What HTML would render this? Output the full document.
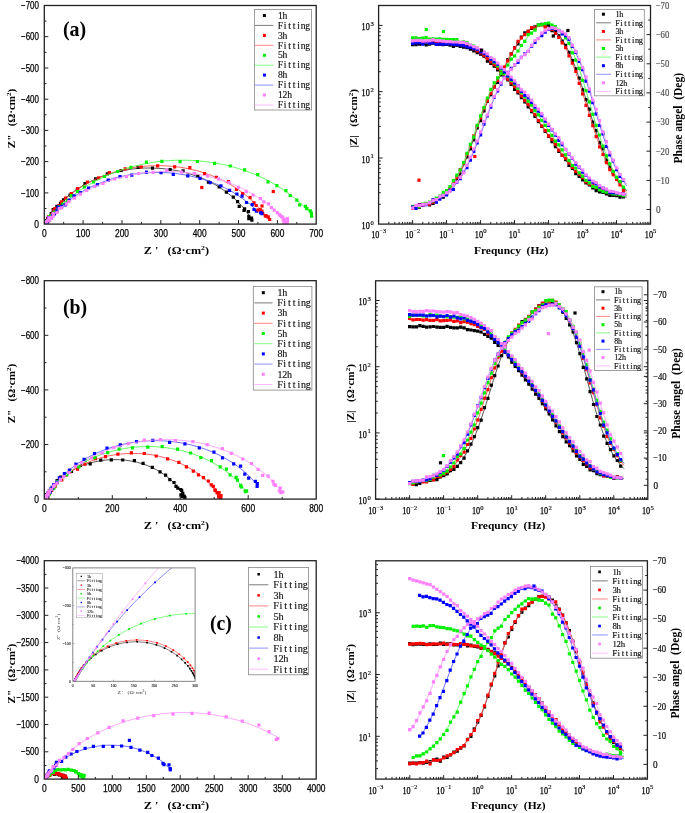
<!DOCTYPE html><html><head><meta charset="utf-8"><style>html,body{margin:0;padding:0;background:#fff;}svg{display:block;will-change:transform}</style></head><body>
<svg width="685" height="813" viewBox="0 0 685 813">
<rect width="685" height="813" fill="#fff"/>
<svg x="0" y="0" width="685" height="813" overflow="hidden"><clipPath id="cna"><rect x="44.3" y="5.5" width="271.9" height="218.6"/></clipPath><clipPath id="cba"><rect x="378.6" y="5.5" width="271.9" height="218.6"/></clipPath></svg>
<g clip-path="url(#cna)">
<path d="M45.2 224.1 L45.2 224.1 L45.3 224.1 L45.3 224.1 L45.3 224.1 L45.3 224 L45.3 224 L45.3 224 L45.3 224 L45.3 224 L45.3 224 L45.3 224 L45.3 224 L45.3 224 L45.3 224 L45.3 223.9 L45.3 223.9 L45.3 223.9 L45.3 223.9 L45.4 223.8 L45.4 223.8 L45.4 223.8 L45.4 223.7 L45.4 223.7 L45.5 223.7 L45.5 223.6 L45.5 223.5 L45.6 223.5 L45.6 223.4 L45.6 223.3 L45.7 223.2 L45.8 223.1 L45.8 223 L45.9 222.8 L46 222.7 L46.1 222.5 L46.2 222.3 L46.3 222.1 L46.4 221.9 L46.6 221.6 L46.7 221.3 L46.9 221 L47.1 220.6 L47.4 220.2 L47.7 219.7 L48 219.2 L48.3 218.6 L48.7 218 L49.2 217.3 L49.7 216.5 L50.3 215.6 L51 214.6 L51.7 213.5 L52.6 212.3 L53.6 211 L54.8 209.5 L56.1 207.9 L57.6 206.2 L59.3 204.3 L61.3 202.2 L63.5 200 L66.1 197.7 L69.1 195.2 L72.4 192.5 L76.2 189.8 L80.5 187 L85.3 184.1 L90.7 181.3 L96.7 178.6 L103.2 176 L110.2 173.7 L117.8 171.7 L125.8 170 L134.1 168.8 L142.7 168.1 L151.4 168 L160.1 168.4 L168.6 169.2 L176.8 170.6 L184.6 172.4 L192 174.6 L198.9 177 L205.2 179.6 L210.9 182.4 L216 185.2 L220.6 188.1 L224.7 190.9 L228.4 193.6 L231.6 196.1 L234.4 198.6 L236.8 200.9 L239 203 L240.8 205 L242.5 206.9 L243.9 208.6 L245.2 210.1 L246.2 211.5 L247.2 212.8 L248 213.9 L248.8 215 L249.4 215.9 L250 216.8 L250.4 217.6 L250.9 218.2 L251.3 218.9 L251.6 219.4" fill="none" stroke="#444444" stroke-width="0.9"/>
<path d="M43.5 222.7h3.2v3.2h-3.2zM43.6 222.2h3.2v3.2h-3.2zM43.2 222.2h3.2v3.2h-3.2zM44.4 222.5h3.2v3.2h-3.2zM44.4 222.4h3.2v3.2h-3.2zM44 222.3h3.2v3.2h-3.2zM42.8 222.6h3.2v3.2h-3.2zM44.2 222.3h3.2v3.2h-3.2zM42.9 220.8h3.2v3.2h-3.2zM43.5 221.5h3.2v3.2h-3.2zM44.3 221.5h3.2v3.2h-3.2zM44.6 220.9h3.2v3.2h-3.2zM44.6 221.3h3.2v3.2h-3.2zM44.2 221.7h3.2v3.2h-3.2zM45.2 221h3.2v3.2h-3.2zM44.7 219.3h3.2v3.2h-3.2zM45.3 219.1h3.2v3.2h-3.2zM46.3 218.5h3.2v3.2h-3.2zM46.2 216.8h3.2v3.2h-3.2zM46.9 216.9h3.2v3.2h-3.2zM47.7 214.9h3.2v3.2h-3.2zM49.6 212.1h3.2v3.2h-3.2zM50.9 211.6h3.2v3.2h-3.2zM51.6 208.1h3.2v3.2h-3.2zM55.3 204.8h3.2v3.2h-3.2zM58.9 201.7h3.2v3.2h-3.2zM61.9 198.2h3.2v3.2h-3.2zM68.5 193.6h3.2v3.2h-3.2zM75.7 188.3h3.2v3.2h-3.2zM83.4 182h3.2v3.2h-3.2zM94 177.2h3.2v3.2h-3.2zM105.7 172.2h3.2v3.2h-3.2zM119.5 168.9h3.2v3.2h-3.2zM136.4 165.7h3.2v3.2h-3.2zM150.9 166.6h3.2v3.2h-3.2zM168.5 168.1h3.2v3.2h-3.2zM181.5 169.2h3.2v3.2h-3.2zM196.2 174.5h3.2v3.2h-3.2zM206.8 180.5h3.2v3.2h-3.2zM217.6 185.2h3.2v3.2h-3.2zM224.8 190.6h3.2v3.2h-3.2zM231.7 195.5h3.2v3.2h-3.2zM236 200.1h3.2v3.2h-3.2zM237.6 204.7h3.2v3.2h-3.2zM243 207.2h3.2v3.2h-3.2zM242.4 208.9h3.2v3.2h-3.2zM246.9 210h3.2v3.2h-3.2zM247.2 214.8h3.2v3.2h-3.2zM247.2 217h3.2v3.2h-3.2zM249.9 216.6h3.2v3.2h-3.2zM250.3 218.5h3.2v3.2h-3.2z" fill="#000000"/>
</g><g clip-path="url(#cba)">
<path d="M626.7 197.1 L624.5 196.9 L622.2 196.7 L620 196.5 L617.7 196.2 L615.5 195.9 L613.2 195.5 L611 195 L608.7 194.5 L606.5 193.9 L604.2 193.2 L601.9 192.5 L599.7 191.6 L597.4 190.5 L595.2 189.4 L592.9 188 L590.7 186.6 L588.4 184.9 L586.2 183.1 L583.9 181.2 L581.7 179.1 L579.4 176.8 L577.1 174.4 L574.9 171.8 L572.6 169.2 L570.4 166.4 L568.1 163.5 L565.9 160.6 L563.6 157.6 L561.4 154.5 L559.1 151.3 L556.9 148.2 L554.6 144.9 L552.4 141.7 L550.1 138.4 L547.8 135.1 L545.6 131.8 L543.3 128.5 L541.1 125.2 L538.8 121.9 L536.6 118.6 L534.3 115.4 L532.1 112.1 L529.8 108.9 L527.6 105.7 L525.3 102.5 L523 99.4 L520.8 96.4 L518.5 93.4 L516.3 90.5 L514 87.6 L511.8 84.9 L509.5 82.2 L507.3 79.6 L505 77.1 L502.8 74.7 L500.5 72.4 L498.3 70.1 L496 67.9 L493.7 65.8 L491.5 63.7 L489.2 61.7 L487 59.8 L484.7 57.9 L482.5 56.2 L480.2 54.5 L478 53 L475.7 51.6 L473.5 50.4 L471.2 49.3 L468.9 48.4 L466.7 47.7 L464.4 47.1 L462.2 46.5 L459.9 46.1 L457.7 45.8 L455.4 45.5 L453.2 45.2 L450.9 45 L448.7 44.9 L446.4 44.8 L444.1 44.7 L441.9 44.6 L439.6 44.5 L437.4 44.5 L435.1 44.4 L432.9 44.4 L430.6 44.3 L428.4 44.3 L426.1 44.3 L423.9 44.3 L421.6 44.2 L419.4 44.2 L417.1 44.2 L414.8 44.2 L412.6 44.2" fill="none" stroke="#444444" stroke-width="0.9"/>
<path d="M626.7 191 L624.5 188.7 L622.2 186.2 L620 183.3 L617.7 180.2 L615.5 176.8 L613.2 173 L611 168.8 L608.7 164.2 L606.5 159.2 L604.2 153.9 L601.9 148.1 L599.7 142 L597.4 135.5 L595.2 128.7 L592.9 121.7 L590.7 114.5 L588.4 107.2 L586.2 100 L583.9 92.7 L581.7 85.7 L579.4 78.9 L577.1 72.3 L574.9 66.2 L572.6 60.4 L570.4 55.1 L568.1 50.2 L565.9 45.8 L563.6 41.8 L561.4 38.3 L559.1 35.2 L556.9 32.6 L554.6 30.3 L552.4 28.4 L550.1 27 L547.8 25.9 L545.6 25.1 L543.3 24.7 L541.1 24.7 L538.8 24.9 L536.6 25.6 L534.3 26.5 L532.1 27.8 L529.8 29.4 L527.6 31.4 L525.3 33.7 L523 36.3 L520.8 39.2 L518.5 42.4 L516.3 46 L514 49.7 L511.8 53.7 L509.5 57.8 L507.3 62.1 L505 66.5 L502.8 70.9 L500.5 75.3 L498.3 79.7 L496 84.2 L493.7 88.7 L491.5 93.3 L489.2 98.1 L487 103.2 L484.7 108.5 L482.5 114.2 L480.2 120.2 L478 126.5 L475.7 133 L473.5 139.5 L471.2 145.9 L468.9 152.1 L466.7 158 L464.4 163.6 L462.2 168.7 L459.9 173.4 L457.7 177.6 L455.4 181.5 L453.2 184.9 L450.9 187.9 L448.7 190.6 L446.4 192.9 L444.1 195 L441.9 196.8 L439.6 198.4 L437.4 199.8 L435.1 201.1 L432.9 202.1 L430.6 203.1 L428.4 203.9 L426.1 204.6 L423.9 205.2 L421.6 205.8 L419.4 206.2 L417.1 206.7 L414.8 207 L412.6 207.3" fill="none" stroke="#444444" stroke-width="0.9"/>
<path d="M621.9 195.3h3.2v3.2h-3.2zM618.4 195.5h3.2v3.2h-3.2zM615 194.1h3.2v3.2h-3.2zM611.6 193.7h3.2v3.2h-3.2zM608.2 193.7h3.2v3.2h-3.2zM604.8 192.3h3.2v3.2h-3.2zM601.4 190.8h3.2v3.2h-3.2zM598 190.4h3.2v3.2h-3.2zM594.6 189.1h3.2v3.2h-3.2zM591.2 186.2h3.2v3.2h-3.2zM587.8 183.4h3.2v3.2h-3.2zM584.4 181.4h3.2v3.2h-3.2zM581 178.3h3.2v3.2h-3.2zM577.6 174.9h3.2v3.2h-3.2zM574.2 172h3.2v3.2h-3.2zM570.8 166.8h3.2v3.2h-3.2zM567.4 163.7h3.2v3.2h-3.2zM564 158h3.2v3.2h-3.2zM560.6 153.7h3.2v3.2h-3.2zM557.2 149.7h3.2v3.2h-3.2zM553.8 145.1h3.2v3.2h-3.2zM550.4 140h3.2v3.2h-3.2zM547 134.8h3.2v3.2h-3.2zM543.6 129.8h3.2v3.2h-3.2zM540.2 124.8h3.2v3.2h-3.2zM536.8 120h3.2v3.2h-3.2zM533.4 114.7h3.2v3.2h-3.2zM530 110h3.2v3.2h-3.2zM526.6 105.3h3.2v3.2h-3.2zM523.2 100.3h3.2v3.2h-3.2zM519.8 96h3.2v3.2h-3.2zM516.4 91.4h3.2v3.2h-3.2zM513 87.8h3.2v3.2h-3.2zM509.6 82.8h3.2v3.2h-3.2zM506.2 78.4h3.2v3.2h-3.2zM502.8 74.7h3.2v3.2h-3.2zM499.4 71.3h3.2v3.2h-3.2zM496 68.4h3.2v3.2h-3.2zM492.6 64.5h3.2v3.2h-3.2zM489.2 61.7h3.2v3.2h-3.2zM485.8 59.5h3.2v3.2h-3.2zM482.4 54.5h3.2v3.2h-3.2zM479 52.6h3.2v3.2h-3.2zM475.6 51h3.2v3.2h-3.2zM472.2 49.2h3.2v3.2h-3.2zM468.8 47.5h3.2v3.2h-3.2zM465.4 46h3.2v3.2h-3.2zM462 45.6h3.2v3.2h-3.2zM458.6 44.7h3.2v3.2h-3.2zM455.2 43.8h3.2v3.2h-3.2zM451.8 44.9h3.2v3.2h-3.2zM448.4 43.6h3.2v3.2h-3.2zM445 42.9h3.2v3.2h-3.2zM441.6 43h3.2v3.2h-3.2zM438.2 42.8h3.2v3.2h-3.2zM434.8 42.8h3.2v3.2h-3.2zM431.4 41.4h3.2v3.2h-3.2zM428 42.5h3.2v3.2h-3.2zM424.6 43.2h3.2v3.2h-3.2zM421.2 42.1h3.2v3.2h-3.2zM417.8 42.6h3.2v3.2h-3.2zM414.4 43.1h3.2v3.2h-3.2zM411 43h3.2v3.2h-3.2z" fill="#000000"/>
<path d="M621.9 187.3h3.2v3.2h-3.2zM618.4 180.3h3.2v3.2h-3.2zM615 176.7h3.2v3.2h-3.2zM611.6 171.1h3.2v3.2h-3.2zM608.2 165.5h3.2v3.2h-3.2zM604.8 158.6h3.2v3.2h-3.2zM601.4 147h3.2v3.2h-3.2zM598 141.2h3.2v3.2h-3.2zM594.6 129h3.2v3.2h-3.2zM591.2 120.5h3.2v3.2h-3.2zM587.8 107.6h3.2v3.2h-3.2zM584.4 98.1h3.2v3.2h-3.2zM581 88.2h3.2v3.2h-3.2zM577.6 76.6h3.2v3.2h-3.2zM574.2 67.3h3.2v3.2h-3.2zM570.8 59h3.2v3.2h-3.2zM567.4 50.7h3.2v3.2h-3.2zM564 43.7h3.2v3.2h-3.2zM560.6 39.4h3.2v3.2h-3.2zM557.2 34.2h3.2v3.2h-3.2zM553.8 29.2h3.2v3.2h-3.2zM550.4 29.1h3.2v3.2h-3.2zM547 23.6h3.2v3.2h-3.2zM543.6 24.2h3.2v3.2h-3.2zM540.2 22.8h3.2v3.2h-3.2zM536.8 23.5h3.2v3.2h-3.2zM533.4 25.2h3.2v3.2h-3.2zM530 26.7h3.2v3.2h-3.2zM526.6 29.8h3.2v3.2h-3.2zM523.2 31.2h3.2v3.2h-3.2zM519.8 35.4h3.2v3.2h-3.2zM516.4 42.2h3.2v3.2h-3.2zM513 46.2h3.2v3.2h-3.2zM509.6 52.2h3.2v3.2h-3.2zM506.2 58.1h3.2v3.2h-3.2zM502.8 67.2h3.2v3.2h-3.2zM499.4 73.4h3.2v3.2h-3.2zM496 80.7h3.2v3.2h-3.2zM492.6 85.3h3.2v3.2h-3.2zM489.2 93.1h3.2v3.2h-3.2zM485.8 99.6h3.2v3.2h-3.2zM482.4 109.4h3.2v3.2h-3.2zM479 119h3.2v3.2h-3.2zM475.6 126.3h3.2v3.2h-3.2zM472.2 138.2h3.2v3.2h-3.2zM468.8 147.4h3.2v3.2h-3.2zM465.4 155.4h3.2v3.2h-3.2zM462 162.1h3.2v3.2h-3.2zM458.6 172.5h3.2v3.2h-3.2zM455.2 177.5h3.2v3.2h-3.2zM451.8 182.4h3.2v3.2h-3.2zM448.4 187.8h3.2v3.2h-3.2zM445 191.5h3.2v3.2h-3.2zM441.6 195.6h3.2v3.2h-3.2zM438.2 195.8h3.2v3.2h-3.2zM434.8 199.8h3.2v3.2h-3.2zM431.4 201.8h3.2v3.2h-3.2zM428 203.2h3.2v3.2h-3.2zM424.6 202.8h3.2v3.2h-3.2zM421.2 203.2h3.2v3.2h-3.2zM417.8 205.6h3.2v3.2h-3.2zM414.4 205.3h3.2v3.2h-3.2zM411 205.8h3.2v3.2h-3.2z" fill="#000000"/>
</g>
<g clip-path="url(#cna)">
<path d="M45.3 224.1 L45.3 224.1 L45.3 224 L45.3 224 L45.3 224 L45.3 224 L45.3 224 L45.3 224 L45.3 224 L45.3 224 L45.3 224 L45.3 223.9 L45.3 223.9 L45.3 223.9 L45.4 223.9 L45.4 223.9 L45.4 223.8 L45.4 223.8 L45.4 223.8 L45.4 223.7 L45.5 223.7 L45.5 223.6 L45.5 223.6 L45.6 223.5 L45.6 223.5 L45.6 223.4 L45.7 223.3 L45.7 223.2 L45.8 223.1 L45.9 223 L46 222.8 L46 222.7 L46.1 222.5 L46.2 222.3 L46.4 222.1 L46.5 221.9 L46.7 221.6 L46.8 221.4 L47 221 L47.3 220.7 L47.5 220.3 L47.8 219.8 L48.1 219.3 L48.5 218.8 L48.9 218.2 L49.3 217.5 L49.8 216.8 L50.4 215.9 L51.1 215 L51.8 214 L52.6 212.9 L53.6 211.6 L54.7 210.3 L55.9 208.8 L57.3 207.2 L59 205.4 L60.8 203.5 L62.9 201.4 L65.2 199.2 L67.9 196.9 L71 194.4 L74.4 191.7 L78.3 189 L82.6 186.2 L87.5 183.3 L92.9 180.5 L98.8 177.7 L105.4 175 L112.4 172.6 L120 170.4 L128 168.6 L136.4 167.1 L145.2 166.2 L154 165.7 L163 165.7 L171.8 166.3 L180.5 167.3 L188.9 168.8 L196.9 170.7 L204.4 172.9 L211.3 175.4 L217.8 178.1 L223.7 180.9 L229 183.7 L233.8 186.6 L238.1 189.4 L241.9 192.1 L245.2 194.7 L248.2 197.2 L250.9 199.5 L253.2 201.7 L255.2 203.8 L257 205.7 L258.6 207.4 L260 209 L261.2 210.5 L262.3 211.8 L263.2 213 L264.1 214.1 L264.8 215.1 L265.4 216.1 L266 216.9 L266.5 217.6 L267 218.3 L267.4 218.9 L267.7 219.4" fill="none" stroke="#ff5050" stroke-width="0.9"/>
<path d="M44.6 222.2h3.2v3.2h-3.2zM42.4 222.1h3.2v3.2h-3.2zM42.7 222.7h3.2v3.2h-3.2zM44 221.8h3.2v3.2h-3.2zM43.8 222.6h3.2v3.2h-3.2zM43.9 222.8h3.2v3.2h-3.2zM43.9 222.5h3.2v3.2h-3.2zM44.9 222.7h3.2v3.2h-3.2zM43.7 222.1h3.2v3.2h-3.2zM43.1 220.8h3.2v3.2h-3.2zM43.2 221.8h3.2v3.2h-3.2zM43.8 220.8h3.2v3.2h-3.2zM44.7 220.5h3.2v3.2h-3.2zM44.7 220.1h3.2v3.2h-3.2zM46.5 219.5h3.2v3.2h-3.2zM46.2 219.3h3.2v3.2h-3.2zM46.3 217.1h3.2v3.2h-3.2zM46.7 217.5h3.2v3.2h-3.2zM46.9 215.2h3.2v3.2h-3.2zM49.6 214.5h3.2v3.2h-3.2zM50.3 212.7h3.2v3.2h-3.2zM52.1 209.3h3.2v3.2h-3.2zM53.2 207h3.2v3.2h-3.2zM57.5 203.9h3.2v3.2h-3.2zM59.9 200.2h3.2v3.2h-3.2zM63.9 196.5h3.2v3.2h-3.2zM69.7 192.1h3.2v3.2h-3.2zM76.1 187h3.2v3.2h-3.2zM85.8 180.4h3.2v3.2h-3.2zM97.1 176.2h3.2v3.2h-3.2zM107.8 171h3.2v3.2h-3.2zM123.6 167.3h3.2v3.2h-3.2zM139.6 165.4h3.2v3.2h-3.2zM156 164.2h3.2v3.2h-3.2zM173 165.2h3.2v3.2h-3.2zM188.2 166.1h3.2v3.2h-3.2zM202.9 172h3.2v3.2h-3.2zM214.8 175.7h3.2v3.2h-3.2zM226.8 180.1h3.2v3.2h-3.2zM234.8 187.9h3.2v3.2h-3.2zM241.1 191.9h3.2v3.2h-3.2zM248.5 196.1h3.2v3.2h-3.2zM252.4 201.3h3.2v3.2h-3.2zM254.5 203.9h3.2v3.2h-3.2zM258.5 208h3.2v3.2h-3.2zM260.3 209.6h3.2v3.2h-3.2zM261.1 211.7h3.2v3.2h-3.2zM264.4 214h3.2v3.2h-3.2zM263.7 214.6h3.2v3.2h-3.2zM268.1 217.9h3.2v3.2h-3.2zM266.7 215.2h3.2v3.2h-3.2z" fill="#ff0000"/>
</g><g clip-path="url(#cba)">
<path d="M626.7 194 L624.5 193.8 L622.2 193.6 L620 193.4 L617.7 193.2 L615.5 192.9 L613.2 192.5 L611 192.1 L608.7 191.6 L606.5 191.1 L604.2 190.5 L601.9 189.7 L599.7 188.9 L597.4 188 L595.2 186.9 L592.9 185.6 L590.7 184.3 L588.4 182.7 L586.2 181 L583.9 179.2 L581.7 177.2 L579.4 175 L577.1 172.6 L574.9 170.2 L572.6 167.6 L570.4 164.9 L568.1 162.1 L565.9 159.2 L563.6 156.2 L561.4 153.1 L559.1 150 L556.9 146.9 L554.6 143.7 L552.4 140.4 L550.1 137.2 L547.8 133.9 L545.6 130.6 L543.3 127.3 L541.1 124 L538.8 120.7 L536.6 117.4 L534.3 114.2 L532.1 110.9 L529.8 107.7 L527.6 104.5 L525.3 101.3 L523 98.2 L520.8 95.1 L518.5 92.1 L516.3 89.2 L514 86.4 L511.8 83.6 L509.5 80.9 L507.3 78.3 L505 75.8 L502.8 73.3 L500.5 71 L498.3 68.7 L496 66.5 L493.7 64.3 L491.5 62.2 L489.2 60.2 L487 58.2 L484.7 56.3 L482.5 54.5 L480.2 52.8 L478 51.3 L475.7 49.8 L473.5 48.6 L471.2 47.5 L468.9 46.5 L466.7 45.7 L464.4 45.1 L462.2 44.5 L459.9 44.1 L457.7 43.7 L455.4 43.4 L453.2 43.1 L450.9 42.9 L448.7 42.8 L446.4 42.6 L444.1 42.5 L441.9 42.4 L439.6 42.4 L437.4 42.3 L435.1 42.3 L432.9 42.2 L430.6 42.2 L428.4 42.1 L426.1 42.1 L423.9 42.1 L421.6 42.1 L419.4 42.1 L417.1 42 L414.8 42 L412.6 42" fill="none" stroke="#ff5050" stroke-width="0.9"/>
<path d="M626.7 192.2 L624.5 190.1 L622.2 187.7 L620 185.1 L617.7 182.1 L615.5 178.9 L613.2 175.3 L611 171.3 L608.7 167 L606.5 162.3 L604.2 157.1 L601.9 151.6 L599.7 145.7 L597.4 139.4 L595.2 132.8 L592.9 126 L590.7 118.9 L588.4 111.6 L586.2 104.3 L583.9 97.1 L581.7 89.9 L579.4 82.9 L577.1 76.2 L574.9 69.9 L572.6 63.9 L570.4 58.3 L568.1 53.2 L565.9 48.5 L563.6 44.3 L561.4 40.5 L559.1 37.2 L556.9 34.3 L554.6 31.8 L552.4 29.8 L550.1 28.1 L547.8 26.8 L545.6 25.9 L543.3 25.4 L541.1 25.2 L538.8 25.3 L536.6 25.8 L534.3 26.6 L532.1 27.8 L529.8 29.3 L527.6 31.1 L525.3 33.3 L523 35.8 L520.8 38.6 L518.5 41.7 L516.3 45.1 L514 48.8 L511.8 52.7 L509.5 56.7 L507.3 60.9 L505 65.2 L502.8 69.6 L500.5 74 L498.3 78.4 L496 82.8 L493.7 87.2 L491.5 91.8 L489.2 96.5 L487 101.5 L484.7 106.8 L482.5 112.4 L480.2 118.3 L478 124.5 L475.7 131 L473.5 137.5 L471.2 143.9 L468.9 150.2 L466.7 156.3 L464.4 161.9 L462.2 167.2 L459.9 172 L457.7 176.4 L455.4 180.3 L453.2 183.9 L450.9 187 L448.7 189.8 L446.4 192.2 L444.1 194.4 L441.9 196.3 L439.6 198 L437.4 199.4 L435.1 200.7 L432.9 201.8 L430.6 202.8 L428.4 203.6 L426.1 204.4 L423.9 205 L421.6 205.6 L419.4 206.1 L417.1 206.5 L414.8 206.9 L412.6 207.2" fill="none" stroke="#ff5050" stroke-width="0.9"/>
<path d="M621.9 192.5h3.2v3.2h-3.2zM618.4 192.1h3.2v3.2h-3.2zM615 192.3h3.2v3.2h-3.2zM611.6 191.1h3.2v3.2h-3.2zM608.2 190.2h3.2v3.2h-3.2zM604.8 189.7h3.2v3.2h-3.2zM601.4 187.5h3.2v3.2h-3.2zM598 187.8h3.2v3.2h-3.2zM594.6 186h3.2v3.2h-3.2zM591.2 183.6h3.2v3.2h-3.2zM587.8 182.5h3.2v3.2h-3.2zM584.4 180.2h3.2v3.2h-3.2zM581 175.7h3.2v3.2h-3.2zM577.6 172.9h3.2v3.2h-3.2zM574.2 169.8h3.2v3.2h-3.2zM570.8 165.8h3.2v3.2h-3.2zM567.4 161.4h3.2v3.2h-3.2zM564 156.7h3.2v3.2h-3.2zM560.6 153.8h3.2v3.2h-3.2zM557.2 148.5h3.2v3.2h-3.2zM553.8 142.6h3.2v3.2h-3.2zM550.4 137.7h3.2v3.2h-3.2zM547 134.3h3.2v3.2h-3.2zM543.6 129h3.2v3.2h-3.2zM540.2 124.4h3.2v3.2h-3.2zM536.8 118.9h3.2v3.2h-3.2zM533.4 113.1h3.2v3.2h-3.2zM530 108.8h3.2v3.2h-3.2zM526.6 102.7h3.2v3.2h-3.2zM523.2 98.7h3.2v3.2h-3.2zM519.8 94.4h3.2v3.2h-3.2zM516.4 90.1h3.2v3.2h-3.2zM513 85.1h3.2v3.2h-3.2zM509.6 81.2h3.2v3.2h-3.2zM506.2 77.5h3.2v3.2h-3.2zM502.8 73.7h3.2v3.2h-3.2zM499.4 70.2h3.2v3.2h-3.2zM496 66.6h3.2v3.2h-3.2zM492.6 63h3.2v3.2h-3.2zM489.2 60.4h3.2v3.2h-3.2zM485.8 57h3.2v3.2h-3.2zM482.4 53.7h3.2v3.2h-3.2zM479 51.2h3.2v3.2h-3.2zM475.6 49.2h3.2v3.2h-3.2zM472.2 47.1h3.2v3.2h-3.2zM468.8 45.6h3.2v3.2h-3.2zM465.4 44.2h3.2v3.2h-3.2zM462 43.3h3.2v3.2h-3.2zM458.6 42.4h3.2v3.2h-3.2zM455.2 41.3h3.2v3.2h-3.2zM451.8 41.8h3.2v3.2h-3.2zM448.4 41.8h3.2v3.2h-3.2zM445 41.3h3.2v3.2h-3.2zM441.6 40.8h3.2v3.2h-3.2zM438.2 41h3.2v3.2h-3.2zM434.8 40.2h3.2v3.2h-3.2zM431.4 39.7h3.2v3.2h-3.2zM428 40.6h3.2v3.2h-3.2zM424.6 40.1h3.2v3.2h-3.2zM421.2 40.9h3.2v3.2h-3.2zM417.8 39.9h3.2v3.2h-3.2zM414.4 39.1h3.2v3.2h-3.2zM411 39.9h3.2v3.2h-3.2z" fill="#ff0000"/>
<path d="M621.9 188.8h3.2v3.2h-3.2zM618.4 183.2h3.2v3.2h-3.2zM615 177.8h3.2v3.2h-3.2zM611.6 173h3.2v3.2h-3.2zM608.2 168.1h3.2v3.2h-3.2zM604.8 161.1h3.2v3.2h-3.2zM601.4 152.9h3.2v3.2h-3.2zM598 145.3h3.2v3.2h-3.2zM594.6 135h3.2v3.2h-3.2zM591.2 124.1h3.2v3.2h-3.2zM587.8 113.8h3.2v3.2h-3.2zM584.4 103.8h3.2v3.2h-3.2zM581 92.3h3.2v3.2h-3.2zM577.6 81.8h3.2v3.2h-3.2zM574.2 69.9h3.2v3.2h-3.2zM570.8 61.6h3.2v3.2h-3.2zM567.4 54.2h3.2v3.2h-3.2zM564 46.1h3.2v3.2h-3.2zM560.6 41.3h3.2v3.2h-3.2zM557.2 35.7h3.2v3.2h-3.2zM553.8 31.9h3.2v3.2h-3.2zM550.4 27.7h3.2v3.2h-3.2zM547 27.9h3.2v3.2h-3.2zM543.6 25.3h3.2v3.2h-3.2zM540.2 23.4h3.2v3.2h-3.2zM536.8 23.8h3.2v3.2h-3.2zM533.4 27.1h3.2v3.2h-3.2zM530 26.1h3.2v3.2h-3.2zM526.6 29.7h3.2v3.2h-3.2zM523.2 33.1h3.2v3.2h-3.2zM519.8 36.2h3.2v3.2h-3.2zM516.4 39.8h3.2v3.2h-3.2zM513 46.4h3.2v3.2h-3.2zM509.6 52.4h3.2v3.2h-3.2zM506.2 59.3h3.2v3.2h-3.2zM502.8 65.5h3.2v3.2h-3.2zM499.4 71.4h3.2v3.2h-3.2zM496 78.8h3.2v3.2h-3.2zM492.6 85.2h3.2v3.2h-3.2zM489.2 91.8h3.2v3.2h-3.2zM485.8 99h3.2v3.2h-3.2zM482.4 106.7h3.2v3.2h-3.2zM479 116.3h3.2v3.2h-3.2zM475.6 124.1h3.2v3.2h-3.2zM472.2 134.3h3.2v3.2h-3.2zM468.8 144.6h3.2v3.2h-3.2zM465.4 152.5h3.2v3.2h-3.2zM462 161.9h3.2v3.2h-3.2zM458.6 168h3.2v3.2h-3.2zM455.2 175.8h3.2v3.2h-3.2zM451.8 182.4h3.2v3.2h-3.2zM448.4 187.1h3.2v3.2h-3.2zM445 190.4h3.2v3.2h-3.2zM441.6 193.4h3.2v3.2h-3.2zM438.2 195h3.2v3.2h-3.2zM434.8 200.1h3.2v3.2h-3.2zM431.4 200.6h3.2v3.2h-3.2zM428 202.6h3.2v3.2h-3.2zM424.6 202h3.2v3.2h-3.2zM421.2 203.6h3.2v3.2h-3.2zM417.8 202.9h3.2v3.2h-3.2zM414.4 205.8h3.2v3.2h-3.2zM411 206.5h3.2v3.2h-3.2z" fill="#ff0000"/>
</g>
<g clip-path="url(#cna)">
<path d="M45.3 224 L45.3 224 L45.3 224 L45.3 224 L45.3 224 L45.3 224 L45.3 223.9 L45.4 223.9 L45.4 223.9 L45.4 223.9 L45.4 223.9 L45.4 223.8 L45.4 223.8 L45.5 223.8 L45.5 223.8 L45.5 223.7 L45.5 223.7 L45.6 223.6 L45.6 223.6 L45.6 223.5 L45.7 223.5 L45.7 223.4 L45.8 223.3 L45.8 223.2 L45.9 223.1 L46 223 L46.1 222.9 L46.2 222.8 L46.3 222.7 L46.4 222.5 L46.5 222.3 L46.6 222.1 L46.8 221.9 L47 221.7 L47.2 221.5 L47.4 221.2 L47.6 220.9 L47.9 220.5 L48.2 220.1 L48.5 219.7 L48.9 219.3 L49.3 218.7 L49.7 218.2 L50.2 217.6 L50.8 216.9 L51.4 216.1 L52.1 215.3 L52.8 214.4 L53.7 213.4 L54.7 212.4 L55.7 211.2 L56.9 209.9 L58.3 208.5 L59.8 207 L61.5 205.4 L63.4 203.6 L65.5 201.7 L67.8 199.7 L70.4 197.5 L73.3 195.2 L76.6 192.8 L80.2 190.2 L84.2 187.6 L88.6 184.9 L93.5 182.1 L98.9 179.3 L104.7 176.5 L111.1 173.8 L117.9 171.2 L125.3 168.7 L133.2 166.4 L141.4 164.5 L150.1 162.8 L159.1 161.5 L168.3 160.6 L177.7 160.2 L187.1 160.2 L196.4 160.7 L205.7 161.6 L214.6 162.9 L223.3 164.5 L231.5 166.5 L239.4 168.8 L246.7 171.3 L253.6 173.9 L259.9 176.6 L265.7 179.4 L271 182.2 L275.9 185 L280.3 187.7 L284.3 190.4 L287.9 192.9 L291.1 195.3 L294 197.6 L296.6 199.8 L299 201.8 L301 203.7 L302.9 205.4 L304.6 207.1 L306.1 208.6 L307.4 210 L308.6 211.2 L309.7 212.4 L310.6 213.5 L311.5 214.5 L312.3 215.4" fill="none" stroke="#50ff50" stroke-width="0.9"/>
<path d="M42.7 222.2h3.2v3.2h-3.2zM44.2 221.1h3.2v3.2h-3.2zM42.8 221.5h3.2v3.2h-3.2zM43.6 221.2h3.2v3.2h-3.2zM44.1 222.1h3.2v3.2h-3.2zM44.5 222.2h3.2v3.2h-3.2zM45.2 222.3h3.2v3.2h-3.2zM43.6 221.1h3.2v3.2h-3.2zM43.9 220.6h3.2v3.2h-3.2zM44.7 221h3.2v3.2h-3.2zM45.3 219.7h3.2v3.2h-3.2zM44.5 220.2h3.2v3.2h-3.2zM45.5 219.6h3.2v3.2h-3.2zM46 218.8h3.2v3.2h-3.2zM47 218.7h3.2v3.2h-3.2zM47.1 217.3h3.2v3.2h-3.2zM47.9 215.1h3.2v3.2h-3.2zM48.3 215.6h3.2v3.2h-3.2zM49.2 214.3h3.2v3.2h-3.2zM51.6 211.7h3.2v3.2h-3.2zM53.1 210.4h3.2v3.2h-3.2zM55.7 208.6h3.2v3.2h-3.2zM58 205.1h3.2v3.2h-3.2zM61.2 202.4h3.2v3.2h-3.2zM65.7 199.1h3.2v3.2h-3.2zM69.7 194h3.2v3.2h-3.2zM75.9 189.9h3.2v3.2h-3.2zM82.7 185.4h3.2v3.2h-3.2zM91.9 180.4h3.2v3.2h-3.2zM102.9 174.9h3.2v3.2h-3.2zM116.1 169.9h3.2v3.2h-3.2zM129.3 165.7h3.2v3.2h-3.2zM144.8 160.6h3.2v3.2h-3.2zM160.3 159.7h3.2v3.2h-3.2zM178.5 160h3.2v3.2h-3.2zM195.8 159.9h3.2v3.2h-3.2zM213 161.8h3.2v3.2h-3.2zM228.7 164.4h3.2v3.2h-3.2zM243 168.2h3.2v3.2h-3.2zM256.1 173.1h3.2v3.2h-3.2zM266.4 180.2h3.2v3.2h-3.2zM275.3 184.1h3.2v3.2h-3.2zM284.3 189.1h3.2v3.2h-3.2zM288.6 193.9h3.2v3.2h-3.2zM295.2 198.5h3.2v3.2h-3.2zM298.1 203.3h3.2v3.2h-3.2zM303.9 204.8h3.2v3.2h-3.2zM305.3 207.1h3.2v3.2h-3.2zM308.7 209.3h3.2v3.2h-3.2zM309.8 211.5h3.2v3.2h-3.2zM310 214.5h3.2v3.2h-3.2z" fill="#00ee00"/>
</g><g clip-path="url(#cba)">
<path d="M626.7 195.2 L624.5 195 L622.2 194.8 L620 194.6 L617.7 194.3 L615.5 193.9 L613.2 193.5 L611 193.1 L608.7 192.5 L606.5 191.9 L604.2 191.2 L601.9 190.3 L599.7 189.3 L597.4 188.2 L595.2 186.9 L592.9 185.4 L590.7 183.8 L588.4 182 L586.2 180 L583.9 177.9 L581.7 175.5 L579.4 173.1 L577.1 170.4 L574.9 167.7 L572.6 164.8 L570.4 161.9 L568.1 158.8 L565.9 155.7 L563.6 152.5 L561.4 149.3 L559.1 146 L556.9 142.7 L554.6 139.4 L552.4 136.1 L550.1 132.7 L547.8 129.4 L545.6 126 L543.3 122.7 L541.1 119.4 L538.8 116.1 L536.6 112.8 L534.3 109.6 L532.1 106.4 L529.8 103.3 L527.6 100.3 L525.3 97.3 L523 94.4 L520.8 91.6 L518.5 88.8 L516.3 86.2 L514 83.6 L511.8 81.1 L509.5 78.6 L507.3 76.1 L505 73.7 L502.8 71.4 L500.5 69 L498.3 66.7 L496 64.3 L493.7 62 L491.5 59.8 L489.2 57.6 L487 55.5 L484.7 53.5 L482.5 51.6 L480.2 49.9 L478 48.3 L475.7 46.9 L473.5 45.7 L471.2 44.6 L468.9 43.6 L466.7 42.8 L464.4 42.1 L462.2 41.5 L459.9 41 L457.7 40.6 L455.4 40.2 L453.2 39.9 L450.9 39.7 L448.7 39.5 L446.4 39.3 L444.1 39.2 L441.9 39 L439.6 38.9 L437.4 38.9 L435.1 38.8 L432.9 38.7 L430.6 38.7 L428.4 38.6 L426.1 38.6 L423.9 38.5 L421.6 38.5 L419.4 38.5 L417.1 38.5 L414.8 38.5 L412.6 38.4" fill="none" stroke="#50ff50" stroke-width="0.9"/>
<path d="M626.7 190.2 L624.5 187.8 L622.2 185 L620 182 L617.7 178.5 L615.5 174.8 L613.2 170.6 L611 166 L608.7 160.9 L606.5 155.4 L604.2 149.5 L601.9 143.2 L599.7 136.4 L597.4 129.3 L595.2 121.9 L592.9 114.3 L590.7 106.6 L588.4 98.9 L586.2 91.2 L583.9 83.7 L581.7 76.5 L579.4 69.6 L577.1 63.1 L574.9 57.1 L572.6 51.6 L570.4 46.6 L568.1 42.1 L565.9 38.2 L563.6 34.7 L561.4 31.7 L559.1 29.3 L556.9 27.2 L554.6 25.7 L552.4 24.5 L550.1 23.8 L547.8 23.5 L545.6 23.6 L543.3 24.1 L541.1 24.9 L538.8 26.1 L536.6 27.7 L534.3 29.6 L532.1 31.8 L529.8 34.3 L527.6 37.1 L525.3 40.1 L523 43.2 L520.8 46.5 L518.5 49.9 L516.3 53.2 L514 56.5 L511.8 59.8 L509.5 62.9 L507.3 65.9 L505 68.8 L502.8 71.7 L500.5 74.7 L498.3 77.8 L496 81.2 L493.7 84.9 L491.5 89.1 L489.2 93.7 L487 98.8 L484.7 104.3 L482.5 110.3 L480.2 116.5 L478 123 L475.7 129.6 L473.5 136.2 L471.2 142.6 L468.9 148.8 L466.7 154.7 L464.4 160.2 L462.2 165.4 L459.9 170.1 L457.7 174.4 L455.4 178.3 L453.2 181.9 L450.9 185.1 L448.7 187.9 L446.4 190.4 L444.1 192.7 L441.9 194.7 L439.6 196.5 L437.4 198 L435.1 199.4 L432.9 200.6 L430.6 201.7 L428.4 202.7 L426.1 203.5 L423.9 204.2 L421.6 204.9 L419.4 205.4 L417.1 205.9 L414.8 206.4 L412.6 206.7" fill="none" stroke="#50ff50" stroke-width="0.9"/>
<path d="M621.9 194h3.2v3.2h-3.2zM618.4 193h3.2v3.2h-3.2zM615 192.2h3.2v3.2h-3.2zM611.6 192.4h3.2v3.2h-3.2zM608.2 191.2h3.2v3.2h-3.2zM604.8 190.5h3.2v3.2h-3.2zM601.4 189.9h3.2v3.2h-3.2zM598 188.3h3.2v3.2h-3.2zM594.6 185.7h3.2v3.2h-3.2zM591.2 184.9h3.2v3.2h-3.2zM587.8 181.2h3.2v3.2h-3.2zM584.4 178.7h3.2v3.2h-3.2zM581 174.6h3.2v3.2h-3.2zM577.6 171.3h3.2v3.2h-3.2zM574.2 166.4h3.2v3.2h-3.2zM570.8 163.9h3.2v3.2h-3.2zM567.4 159.1h3.2v3.2h-3.2zM564 153.2h3.2v3.2h-3.2zM560.6 148.2h3.2v3.2h-3.2zM557.2 143.2h3.2v3.2h-3.2zM553.8 139.6h3.2v3.2h-3.2zM550.4 133.7h3.2v3.2h-3.2zM547 128.9h3.2v3.2h-3.2zM543.6 123.7h3.2v3.2h-3.2zM540.2 118.8h3.2v3.2h-3.2zM536.8 113.3h3.2v3.2h-3.2zM533.4 109h3.2v3.2h-3.2zM530 103.5h3.2v3.2h-3.2zM526.6 99.5h3.2v3.2h-3.2zM523.2 95.2h3.2v3.2h-3.2zM519.8 91h3.2v3.2h-3.2zM516.4 86.5h3.2v3.2h-3.2zM513 82.2h3.2v3.2h-3.2zM509.6 78.9h3.2v3.2h-3.2zM506.2 74.9h3.2v3.2h-3.2zM502.8 72.3h3.2v3.2h-3.2zM499.4 68.3h3.2v3.2h-3.2zM496 64.3h3.2v3.2h-3.2zM492.6 60.7h3.2v3.2h-3.2zM489.2 57.2h3.2v3.2h-3.2zM485.8 53.8h3.2v3.2h-3.2zM482.4 51.1h3.2v3.2h-3.2zM479 48.7h3.2v3.2h-3.2zM475.6 46.5h3.2v3.2h-3.2zM472.2 44.5h3.2v3.2h-3.2zM468.8 43.7h3.2v3.2h-3.2zM465.4 40.9h3.2v3.2h-3.2zM462 40.3h3.2v3.2h-3.2zM458.6 40.9h3.2v3.2h-3.2zM455.2 37.9h3.2v3.2h-3.2zM451.8 38.1h3.2v3.2h-3.2zM448.4 38.1h3.2v3.2h-3.2zM445 37.8h3.2v3.2h-3.2zM441.6 37.7h3.2v3.2h-3.2zM438.2 37.2h3.2v3.2h-3.2zM434.8 37.4h3.2v3.2h-3.2zM431.4 37.2h3.2v3.2h-3.2zM428 37.4h3.2v3.2h-3.2zM424.6 36h3.2v3.2h-3.2zM421.2 36.5h3.2v3.2h-3.2zM417.8 36.9h3.2v3.2h-3.2zM414.4 36.3h3.2v3.2h-3.2zM411 36.3h3.2v3.2h-3.2z" fill="#00ee00"/>
<path d="M621.9 185.5h3.2v3.2h-3.2zM618.4 179.9h3.2v3.2h-3.2zM615 175.7h3.2v3.2h-3.2zM611.6 169.7h3.2v3.2h-3.2zM608.2 162.2h3.2v3.2h-3.2zM604.8 154.3h3.2v3.2h-3.2zM601.4 144.6h3.2v3.2h-3.2zM598 133.4h3.2v3.2h-3.2zM594.6 123.8h3.2v3.2h-3.2zM591.2 112.8h3.2v3.2h-3.2zM587.8 100.3h3.2v3.2h-3.2zM584.4 89.1h3.2v3.2h-3.2zM581 78.7h3.2v3.2h-3.2zM577.6 66.7h3.2v3.2h-3.2zM574.2 58.6h3.2v3.2h-3.2zM570.8 51.2h3.2v3.2h-3.2zM567.4 41.8h3.2v3.2h-3.2zM564 36.3h3.2v3.2h-3.2zM560.6 31.1h3.2v3.2h-3.2zM557.2 28.8h3.2v3.2h-3.2zM553.8 24.9h3.2v3.2h-3.2zM550.4 23.6h3.2v3.2h-3.2zM547 21.4h3.2v3.2h-3.2zM543.6 22h3.2v3.2h-3.2zM540.2 23h3.2v3.2h-3.2zM536.8 23.2h3.2v3.2h-3.2zM533.4 28.6h3.2v3.2h-3.2zM530 31.5h3.2v3.2h-3.2zM526.6 33.1h3.2v3.2h-3.2zM523.2 39.8h3.2v3.2h-3.2zM519.8 43.9h3.2v3.2h-3.2zM516.4 49.4h3.2v3.2h-3.2zM513 54.4h3.2v3.2h-3.2zM509.6 57.6h3.2v3.2h-3.2zM506.2 63.4h3.2v3.2h-3.2zM502.8 69.3h3.2v3.2h-3.2zM499.4 71.9h3.2v3.2h-3.2zM496 76.2h3.2v3.2h-3.2zM492.6 81.3h3.2v3.2h-3.2zM489.2 87.7h3.2v3.2h-3.2zM485.8 96.4h3.2v3.2h-3.2zM482.4 106.1h3.2v3.2h-3.2zM479 114.2h3.2v3.2h-3.2zM475.6 123.8h3.2v3.2h-3.2zM472.2 135.6h3.2v3.2h-3.2zM468.8 142.7h3.2v3.2h-3.2zM465.4 151.7h3.2v3.2h-3.2zM462 161h3.2v3.2h-3.2zM458.6 168.4h3.2v3.2h-3.2zM455.2 173.5h3.2v3.2h-3.2zM451.8 178.9h3.2v3.2h-3.2zM448.4 184.9h3.2v3.2h-3.2zM445 188.9h3.2v3.2h-3.2zM441.6 190.8h3.2v3.2h-3.2zM438.2 194.6h3.2v3.2h-3.2zM434.8 196.6h3.2v3.2h-3.2zM431.4 199.4h3.2v3.2h-3.2zM428 200.4h3.2v3.2h-3.2zM424.6 201.8h3.2v3.2h-3.2zM421.2 202.6h3.2v3.2h-3.2zM417.8 204.8h3.2v3.2h-3.2zM414.4 205.8h3.2v3.2h-3.2zM411 204.8h3.2v3.2h-3.2z" fill="#00ee00"/>
</g>
<g clip-path="url(#cna)">
<path d="M45.3 224 L45.3 224 L45.3 224 L45.3 224 L45.3 224 L45.3 224 L45.3 224 L45.3 224 L45.3 224 L45.3 224 L45.3 224 L45.3 223.9 L45.4 223.9 L45.4 223.9 L45.4 223.9 L45.4 223.9 L45.4 223.8 L45.4 223.8 L45.5 223.8 L45.5 223.7 L45.5 223.7 L45.6 223.7 L45.6 223.6 L45.6 223.6 L45.7 223.5 L45.7 223.4 L45.8 223.4 L45.8 223.3 L45.9 223.2 L46 223.1 L46 223 L46.1 222.9 L46.2 222.8 L46.3 222.6 L46.4 222.5 L46.6 222.3 L46.7 222.1 L46.9 221.9 L47.1 221.7 L47.3 221.4 L47.5 221.1 L47.7 220.8 L48 220.4 L48.3 220.1 L48.6 219.6 L49 219.2 L49.4 218.7 L49.9 218.1 L50.4 217.5 L51 216.8 L51.6 216.1 L52.4 215.3 L53.2 214.4 L54.1 213.4 L55.1 212.4 L56.2 211.3 L57.4 210 L58.8 208.7 L60.4 207.3 L62.1 205.7 L64 204.1 L66.2 202.3 L68.6 200.5 L71.3 198.5 L74.2 196.5 L77.5 194.4 L81.1 192.2 L85.1 189.9 L89.5 187.7 L94.2 185.5 L99.4 183.3 L105 181.2 L110.9 179.2 L117.3 177.4 L124 175.9 L130.9 174.5 L138.2 173.5 L145.6 172.8 L153.2 172.5 L160.8 172.5 L168.3 172.8 L175.7 173.5 L183 174.6 L190 175.9 L196.6 177.5 L203 179.3 L208.9 181.2 L214.5 183.3 L219.7 185.5 L224.4 187.7 L228.8 190 L232.7 192.2 L236.4 194.4 L239.6 196.5 L242.6 198.6 L245.2 200.5 L247.6 202.4 L249.8 204.1 L251.7 205.8 L253.5 207.3 L255 208.7 L256.4 210.1 L257.6 211.3 L258.8 212.4 L259.8 213.5 L260.7 214.4" fill="none" stroke="#6060ff" stroke-width="0.9"/>
<path d="M44.3 221.9h3.2v3.2h-3.2zM43.8 222.7h3.2v3.2h-3.2zM44.7 222h3.2v3.2h-3.2zM43.8 222.3h3.2v3.2h-3.2zM43 222.1h3.2v3.2h-3.2zM43.6 222.3h3.2v3.2h-3.2zM43.3 220.8h3.2v3.2h-3.2zM44.1 222h3.2v3.2h-3.2zM43.9 222.2h3.2v3.2h-3.2zM44.2 221.2h3.2v3.2h-3.2zM44.8 220.4h3.2v3.2h-3.2zM44.3 221.1h3.2v3.2h-3.2zM45.4 220.7h3.2v3.2h-3.2zM45.3 220.1h3.2v3.2h-3.2zM45.6 221.1h3.2v3.2h-3.2zM45.4 221h3.2v3.2h-3.2zM45.9 219h3.2v3.2h-3.2zM47 218.8h3.2v3.2h-3.2zM46.9 216.1h3.2v3.2h-3.2zM48.8 216.8h3.2v3.2h-3.2zM49.9 216.7h3.2v3.2h-3.2zM50.9 213.8h3.2v3.2h-3.2zM52.9 212.2h3.2v3.2h-3.2zM55.3 209.2h3.2v3.2h-3.2zM56.4 205.6h3.2v3.2h-3.2zM60.1 204.7h3.2v3.2h-3.2zM63.7 203.2h3.2v3.2h-3.2zM67.5 198.4h3.2v3.2h-3.2zM72.5 194.3h3.2v3.2h-3.2zM78.8 191.1h3.2v3.2h-3.2zM86.9 186.6h3.2v3.2h-3.2zM95.8 183h3.2v3.2h-3.2zM106.6 178.5h3.2v3.2h-3.2zM118.4 175.1h3.2v3.2h-3.2zM130.2 173.6h3.2v3.2h-3.2zM144.9 170.6h3.2v3.2h-3.2zM159.4 171.1h3.2v3.2h-3.2zM171.7 172.7h3.2v3.2h-3.2zM186.2 174.3h3.2v3.2h-3.2zM198.5 176.7h3.2v3.2h-3.2zM208.6 181h3.2v3.2h-3.2zM219.3 184.3h3.2v3.2h-3.2zM228 188.7h3.2v3.2h-3.2zM235.3 192.4h3.2v3.2h-3.2zM240.5 194.5h3.2v3.2h-3.2zM244.9 200.9h3.2v3.2h-3.2zM250.6 203.1h3.2v3.2h-3.2zM252.4 207.9h3.2v3.2h-3.2zM254.8 209.5h3.2v3.2h-3.2zM259 211h3.2v3.2h-3.2zM260.3 212.1h3.2v3.2h-3.2z" fill="#0000ff"/>
</g><g clip-path="url(#cba)">
<path d="M626.7 194.4 L624.5 194.1 L622.2 193.8 L620 193.5 L617.7 193.1 L615.5 192.7 L613.2 192.1 L611 191.5 L608.7 190.8 L606.5 190 L604.2 189.1 L601.9 188 L599.7 186.7 L597.4 185.3 L595.2 183.8 L592.9 182 L590.7 180.1 L588.4 178 L586.2 175.8 L583.9 173.4 L581.7 170.9 L579.4 168.2 L577.1 165.4 L574.9 162.5 L572.6 159.5 L570.4 156.4 L568.1 153.3 L565.9 150.1 L563.6 146.9 L561.4 143.7 L559.1 140.4 L556.9 137.1 L554.6 133.8 L552.4 130.6 L550.1 127.3 L547.8 124.1 L545.6 120.9 L543.3 117.7 L541.1 114.6 L538.8 111.6 L536.6 108.6 L534.3 105.7 L532.1 102.9 L529.8 100.1 L527.6 97.4 L525.3 94.8 L523 92.2 L520.8 89.7 L518.5 87.2 L516.3 84.7 L514 82.2 L511.8 79.7 L509.5 77.2 L507.3 74.8 L505 72.3 L502.8 70 L500.5 67.6 L498.3 65.4 L496 63.2 L493.7 61.2 L491.5 59.2 L489.2 57.4 L487 55.7 L484.7 54.2 L482.5 52.8 L480.2 51.6 L478 50.4 L475.7 49.5 L473.5 48.6 L471.2 47.8 L468.9 47.2 L466.7 46.6 L464.4 46.1 L462.2 45.7 L459.9 45.3 L457.7 45 L455.4 44.7 L453.2 44.5 L450.9 44.3 L448.7 44.1 L446.4 43.9 L444.1 43.8 L441.9 43.7 L439.6 43.6 L437.4 43.5 L435.1 43.4 L432.9 43.3 L430.6 43.3 L428.4 43.2 L426.1 43.2 L423.9 43.2 L421.6 43.1 L419.4 43.1 L417.1 43.1 L414.8 43 L412.6 43" fill="none" stroke="#6060ff" stroke-width="0.9"/>
<path d="M626.7 185.7 L624.5 182.8 L622.2 179.5 L620 175.8 L617.7 171.8 L615.5 167.4 L613.2 162.5 L611 157.3 L608.7 151.6 L606.5 145.5 L604.2 139 L601.9 132.1 L599.7 124.9 L597.4 117.5 L595.2 110 L592.9 102.4 L590.7 94.9 L588.4 87.5 L586.2 80.4 L583.9 73.6 L581.7 67.1 L579.4 61.1 L577.1 55.6 L574.9 50.6 L572.6 46.2 L570.4 42.2 L568.1 38.8 L565.9 36 L563.6 33.6 L561.4 31.7 L559.1 30.4 L556.9 29.5 L554.6 29.1 L552.4 29.1 L550.1 29.6 L547.8 30.5 L545.6 31.8 L543.3 33.5 L541.1 35.4 L538.8 37.7 L536.6 40.2 L534.3 42.8 L532.1 45.6 L529.8 48.3 L527.6 51 L525.3 53.7 L523 56.2 L520.8 58.6 L518.5 60.9 L516.3 63.2 L514 65.6 L511.8 68.1 L509.5 70.7 L507.3 73.6 L505 76.9 L502.8 80.6 L500.5 84.6 L498.3 89.1 L496 94 L493.7 99.3 L491.5 104.9 L489.2 110.8 L487 116.9 L484.7 123 L482.5 129.2 L480.2 135.3 L478 141.3 L475.7 147 L473.5 152.5 L471.2 157.7 L468.9 162.6 L466.7 167.1 L464.4 171.3 L462.2 175.2 L459.9 178.7 L457.7 181.9 L455.4 184.8 L453.2 187.5 L450.9 189.9 L448.7 192 L446.4 193.9 L444.1 195.6 L441.9 197.2 L439.6 198.5 L437.4 199.7 L435.1 200.8 L432.9 201.8 L430.6 202.7 L428.4 203.4 L426.1 204.1 L423.9 204.7 L421.6 205.3 L419.4 205.8 L417.1 206.2 L414.8 206.6 L412.6 206.9" fill="none" stroke="#6060ff" stroke-width="0.9"/>
<path d="M621.9 192.5h3.2v3.2h-3.2zM618.4 191.9h3.2v3.2h-3.2zM615 191.4h3.2v3.2h-3.2zM611.6 191.1h3.2v3.2h-3.2zM608.2 190.8h3.2v3.2h-3.2zM604.8 188.1h3.2v3.2h-3.2zM601.4 186.6h3.2v3.2h-3.2zM598 185.4h3.2v3.2h-3.2zM594.6 182.4h3.2v3.2h-3.2zM591.2 180.6h3.2v3.2h-3.2zM587.8 177.7h3.2v3.2h-3.2zM584.4 173.9h3.2v3.2h-3.2zM581 170.6h3.2v3.2h-3.2zM577.6 165.6h3.2v3.2h-3.2zM574.2 162.5h3.2v3.2h-3.2zM570.8 156.8h3.2v3.2h-3.2zM567.4 152.6h3.2v3.2h-3.2zM564 147.9h3.2v3.2h-3.2zM560.6 143.1h3.2v3.2h-3.2zM557.2 138.8h3.2v3.2h-3.2zM553.8 133.5h3.2v3.2h-3.2zM550.4 128.3h3.2v3.2h-3.2zM547 123.9h3.2v3.2h-3.2zM543.6 119.5h3.2v3.2h-3.2zM540.2 114h3.2v3.2h-3.2zM536.8 109.6h3.2v3.2h-3.2zM533.4 105.6h3.2v3.2h-3.2zM530 100.9h3.2v3.2h-3.2zM526.6 96h3.2v3.2h-3.2zM523.2 93.9h3.2v3.2h-3.2zM519.8 89.9h3.2v3.2h-3.2zM516.4 84h3.2v3.2h-3.2zM513 81.2h3.2v3.2h-3.2zM509.6 77.7h3.2v3.2h-3.2zM506.2 74.2h3.2v3.2h-3.2zM502.8 70.4h3.2v3.2h-3.2zM499.4 66.4h3.2v3.2h-3.2zM496 62.6h3.2v3.2h-3.2zM492.6 60h3.2v3.2h-3.2zM489.2 57.6h3.2v3.2h-3.2zM485.8 53.9h3.2v3.2h-3.2zM482.4 51.6h3.2v3.2h-3.2zM479 50.2h3.2v3.2h-3.2zM475.6 47.5h3.2v3.2h-3.2zM472.2 47h3.2v3.2h-3.2zM468.8 45.8h3.2v3.2h-3.2zM465.4 45.3h3.2v3.2h-3.2zM462 44h3.2v3.2h-3.2zM458.6 43.3h3.2v3.2h-3.2zM455.2 43.1h3.2v3.2h-3.2zM451.8 42.9h3.2v3.2h-3.2zM448.4 42.2h3.2v3.2h-3.2zM445 42.3h3.2v3.2h-3.2zM441.6 42.5h3.2v3.2h-3.2zM438.2 42.6h3.2v3.2h-3.2zM434.8 42.7h3.2v3.2h-3.2zM431.4 41.4h3.2v3.2h-3.2zM428 41.5h3.2v3.2h-3.2zM424.6 40.4h3.2v3.2h-3.2zM421.2 42.5h3.2v3.2h-3.2zM417.8 41.1h3.2v3.2h-3.2zM414.4 41.4h3.2v3.2h-3.2zM411 41.7h3.2v3.2h-3.2z" fill="#0000ff"/>
<path d="M621.9 178.5h3.2v3.2h-3.2zM618.4 174.8h3.2v3.2h-3.2zM615 168.1h3.2v3.2h-3.2zM611.6 159.4h3.2v3.2h-3.2zM608.2 153.2h3.2v3.2h-3.2zM604.8 144.9h3.2v3.2h-3.2zM601.4 132.2h3.2v3.2h-3.2zM598 123.9h3.2v3.2h-3.2zM594.6 112.2h3.2v3.2h-3.2zM591.2 101h3.2v3.2h-3.2zM587.8 89.6h3.2v3.2h-3.2zM584.4 79.6h3.2v3.2h-3.2zM581 68.1h3.2v3.2h-3.2zM577.6 59.9h3.2v3.2h-3.2zM574.2 50.7h3.2v3.2h-3.2zM570.8 44.8h3.2v3.2h-3.2zM567.4 37.8h3.2v3.2h-3.2zM564 34h3.2v3.2h-3.2zM560.6 32.4h3.2v3.2h-3.2zM557.2 29h3.2v3.2h-3.2zM553.8 27.4h3.2v3.2h-3.2zM550.4 26.5h3.2v3.2h-3.2zM547 27.8h3.2v3.2h-3.2zM543.6 30.6h3.2v3.2h-3.2zM540.2 34h3.2v3.2h-3.2zM536.8 36.9h3.2v3.2h-3.2zM533.4 40.9h3.2v3.2h-3.2zM530 44.5h3.2v3.2h-3.2zM526.6 49.9h3.2v3.2h-3.2zM523.2 52.3h3.2v3.2h-3.2zM519.8 55.8h3.2v3.2h-3.2zM516.4 60.7h3.2v3.2h-3.2zM513 63.4h3.2v3.2h-3.2zM509.6 66.8h3.2v3.2h-3.2zM506.2 70.8h3.2v3.2h-3.2zM502.8 76h3.2v3.2h-3.2zM499.4 82.6h3.2v3.2h-3.2zM496 89.2h3.2v3.2h-3.2zM492.6 95.5h3.2v3.2h-3.2zM489.2 105.5h3.2v3.2h-3.2zM485.8 114.3h3.2v3.2h-3.2zM482.4 122.5h3.2v3.2h-3.2zM479 133.3h3.2v3.2h-3.2zM475.6 141.4h3.2v3.2h-3.2zM472.2 149.8h3.2v3.2h-3.2zM468.8 158.6h3.2v3.2h-3.2zM465.4 166.1h3.2v3.2h-3.2zM462 170.6h3.2v3.2h-3.2zM458.6 177.1h3.2v3.2h-3.2zM455.2 180.7h3.2v3.2h-3.2zM451.8 187.7h3.2v3.2h-3.2zM448.4 188.7h3.2v3.2h-3.2zM445 193.2h3.2v3.2h-3.2zM441.6 194.1h3.2v3.2h-3.2zM438.2 197.6h3.2v3.2h-3.2zM434.8 200.6h3.2v3.2h-3.2zM431.4 197.9h3.2v3.2h-3.2zM428 201h3.2v3.2h-3.2zM424.6 203h3.2v3.2h-3.2zM421.2 203.3h3.2v3.2h-3.2zM417.8 203.5h3.2v3.2h-3.2zM414.4 206.7h3.2v3.2h-3.2zM411 205.4h3.2v3.2h-3.2z" fill="#0000ff"/>
</g>
<g clip-path="url(#cna)">
<path d="M45.9 223.3 L46 223.2 L46.1 223.1 L46.1 223 L46.2 222.9 L46.3 222.8 L46.4 222.6 L46.6 222.5 L46.7 222.3 L46.8 222.2 L47 222 L47.2 221.8 L47.4 221.5 L47.6 221.3 L47.9 221 L48.1 220.7 L48.4 220.3 L48.8 220 L49.1 219.6 L49.5 219.1 L50 218.6 L50.5 218.1 L51 217.5 L51.6 216.9 L52.3 216.2 L53 215.4 L53.8 214.6 L54.8 213.7 L55.8 212.8 L56.9 211.7 L58.1 210.6 L59.4 209.4 L60.9 208.1 L62.6 206.7 L64.4 205.2 L66.5 203.6 L68.7 202 L71.2 200.2 L73.9 198.3 L76.9 196.4 L80.2 194.4 L83.8 192.3 L87.7 190.2 L92 188 L96.6 185.9 L101.6 183.8 L107 181.7 L112.8 179.8 L118.9 177.9 L125.3 176.3 L132 174.8 L139.1 173.6 L146.3 172.6 L153.7 171.9 L161.2 171.5 L168.8 171.5 L176.4 171.7 L183.8 172.3 L191.2 173.1 L198.3 174.3 L205.2 175.6 L211.7 177.2 L218 179 L223.9 180.9 L229.4 182.9 L234.6 185 L239.3 187.1 L243.8 189.3 L247.8 191.4 L251.6 193.5 L255 195.5 L258.1 197.5 L260.9 199.4 L263.5 201.2 L265.8 202.9 L268 204.6 L269.9 206.1 L271.6 207.5 L273.2 208.9 L274.6 210.1 L275.9 211.3 L277 212.4 L278.1 213.3 L279 214.3 L279.9 215.1 L280.6 215.9 L281.3 216.6 L282 217.3 L282.5 217.9 L283 218.4 L283.5 218.9 L283.9 219.4 L284.3 219.8 L284.7 220.2 L285 220.5 L285.3 220.9 L285.5 221.2 L285.7 221.4 L286 221.7 L286.1 221.9 L286.3 222.1 L286.5 222.3 L286.6 222.4 L286.7 222.6 L286.9 222.7 L287 222.9" fill="none" stroke="#ffa0ff" stroke-width="0.9"/>
<path d="M44.8 220.5h3.2v3.2h-3.2zM45.2 220.1h3.2v3.2h-3.2zM46.4 218.9h3.2v3.2h-3.2zM48.1 218.2h3.2v3.2h-3.2zM47.3 216.3h3.2v3.2h-3.2zM49.7 216.8h3.2v3.2h-3.2zM49.6 215.7h3.2v3.2h-3.2zM51.7 214.3h3.2v3.2h-3.2zM51.6 212.1h3.2v3.2h-3.2zM55.4 210.9h3.2v3.2h-3.2zM57.7 206.9h3.2v3.2h-3.2zM60.1 206.2h3.2v3.2h-3.2zM64.9 202.6h3.2v3.2h-3.2zM67.2 200.1h3.2v3.2h-3.2zM72.8 196.5h3.2v3.2h-3.2zM78.8 192.6h3.2v3.2h-3.2zM85.1 188.9h3.2v3.2h-3.2zM93.1 184.8h3.2v3.2h-3.2zM101.4 181.9h3.2v3.2h-3.2zM113.1 177.3h3.2v3.2h-3.2zM124.9 175h3.2v3.2h-3.2zM137 171.9h3.2v3.2h-3.2zM151.6 170.7h3.2v3.2h-3.2zM165.1 168.6h3.2v3.2h-3.2zM180.1 170.6h3.2v3.2h-3.2zM192.9 171.9h3.2v3.2h-3.2zM205.9 174.3h3.2v3.2h-3.2zM216.9 177.3h3.2v3.2h-3.2zM227.7 181.1h3.2v3.2h-3.2zM236.7 185.7h3.2v3.2h-3.2zM244.6 189.7h3.2v3.2h-3.2zM251.6 193.4h3.2v3.2h-3.2zM258.8 197h3.2v3.2h-3.2zM262.3 200.3h3.2v3.2h-3.2zM266.9 202.3h3.2v3.2h-3.2zM269.8 206.1h3.2v3.2h-3.2zM272.6 208.5h3.2v3.2h-3.2zM275.7 211h3.2v3.2h-3.2zM277.7 212.7h3.2v3.2h-3.2zM278.5 213.9h3.2v3.2h-3.2zM279.8 215.1h3.2v3.2h-3.2zM281 215.4h3.2v3.2h-3.2zM281.6 217.3h3.2v3.2h-3.2zM281.7 218.2h3.2v3.2h-3.2zM283.8 218.7h3.2v3.2h-3.2zM285.9 216.9h3.2v3.2h-3.2zM284.1 218.1h3.2v3.2h-3.2zM285.6 223h3.2v3.2h-3.2zM282.4 220.8h3.2v3.2h-3.2zM285.7 220.7h3.2v3.2h-3.2zM285.9 219h3.2v3.2h-3.2z" fill="#ff80ff"/>
</g><g clip-path="url(#cba)">
<path d="M626.7 194.2 L624.5 193.9 L622.2 193.6 L620 193.3 L617.7 192.8 L615.5 192.3 L613.2 191.8 L611 191.1 L608.7 190.3 L606.5 189.5 L604.2 188.4 L601.9 187.3 L599.7 186 L597.4 184.5 L595.2 182.9 L592.9 181 L590.7 179.1 L588.4 176.9 L586.2 174.6 L583.9 172.1 L581.7 169.5 L579.4 166.8 L577.1 164 L574.9 161.1 L572.6 158 L570.4 155 L568.1 151.8 L565.9 148.6 L563.6 145.4 L561.4 142.2 L559.1 138.9 L556.9 135.6 L554.6 132.3 L552.4 129 L550.1 125.8 L547.8 122.5 L545.6 119.3 L543.3 116.1 L541.1 113 L538.8 110 L536.6 107 L534.3 104.1 L532.1 101.2 L529.8 98.4 L527.6 95.7 L525.3 93.1 L523 90.5 L520.8 88 L518.5 85.4 L516.3 82.9 L514 80.4 L511.8 78 L509.5 75.5 L507.3 73.1 L505 70.6 L502.8 68.2 L500.5 65.9 L498.3 63.6 L496 61.5 L493.7 59.4 L491.5 57.4 L489.2 55.6 L487 53.8 L484.7 52.3 L482.5 50.8 L480.2 49.5 L478 48.3 L475.7 47.3 L473.5 46.4 L471.2 45.6 L468.9 44.9 L466.7 44.3 L464.4 43.7 L462.2 43.3 L459.9 42.9 L457.7 42.5 L455.4 42.2 L453.2 42 L450.9 41.7 L448.7 41.5 L446.4 41.4 L444.1 41.2 L441.9 41.1 L439.6 41 L437.4 40.9 L435.1 40.8 L432.9 40.7 L430.6 40.7 L428.4 40.6 L426.1 40.6 L423.9 40.5 L421.6 40.5 L419.4 40.5 L417.1 40.4 L414.8 40.4 L412.6 40.4" fill="none" stroke="#ffa0ff" stroke-width="0.9"/>
<path d="M626.7 184.1 L624.5 181 L622.2 177.6 L620 173.7 L617.7 169.5 L615.5 164.9 L613.2 159.9 L611 154.4 L608.7 148.6 L606.5 142.3 L604.2 135.6 L601.9 128.7 L599.7 121.5 L597.4 114.1 L595.2 106.5 L592.9 99 L590.7 91.6 L588.4 84.4 L586.2 77.4 L583.9 70.8 L581.7 64.6 L579.4 58.8 L577.1 53.5 L574.9 48.7 L572.6 44.5 L570.4 40.7 L568.1 37.5 L565.9 34.7 L563.6 32.5 L561.4 30.7 L559.1 29.5 L556.9 28.6 L554.6 28.2 L552.4 28.3 L550.1 28.8 L547.8 29.7 L545.6 30.9 L543.3 32.6 L541.1 34.5 L538.8 36.8 L536.6 39.3 L534.3 41.9 L532.1 44.7 L529.8 47.5 L527.6 50.3 L525.3 53 L523 55.6 L520.8 58.1 L518.5 60.5 L516.3 62.8 L514 65.2 L511.8 67.6 L509.5 70.2 L507.3 73.1 L505 76.2 L502.8 79.7 L500.5 83.6 L498.3 87.9 L496 92.7 L493.7 97.7 L491.5 103.2 L489.2 108.9 L487 114.8 L484.7 120.9 L482.5 127 L480.2 133.1 L478 139 L475.7 144.8 L473.5 150.3 L471.2 155.6 L468.9 160.6 L466.7 165.2 L464.4 169.5 L462.2 173.5 L459.9 177.2 L457.7 180.5 L455.4 183.5 L453.2 186.3 L450.9 188.7 L448.7 191 L446.4 193 L444.1 194.8 L441.9 196.4 L439.6 197.8 L437.4 199.1 L435.1 200.3 L432.9 201.3 L430.6 202.2 L428.4 203 L426.1 203.8 L423.9 204.4 L421.6 205 L419.4 205.5 L417.1 205.9 L414.8 206.3 L412.6 206.7" fill="none" stroke="#ffa0ff" stroke-width="0.9"/>
<path d="M621.9 192.6h3.2v3.2h-3.2zM618.4 191.9h3.2v3.2h-3.2zM615 191h3.2v3.2h-3.2zM611.6 189.9h3.2v3.2h-3.2zM608.2 189.5h3.2v3.2h-3.2zM604.8 187.6h3.2v3.2h-3.2zM601.4 186.4h3.2v3.2h-3.2zM598 184.1h3.2v3.2h-3.2zM594.6 180.9h3.2v3.2h-3.2zM591.2 179.4h3.2v3.2h-3.2zM587.8 176.4h3.2v3.2h-3.2zM584.4 173.2h3.2v3.2h-3.2zM581 168.6h3.2v3.2h-3.2zM577.6 165h3.2v3.2h-3.2zM574.2 161h3.2v3.2h-3.2zM570.8 156.2h3.2v3.2h-3.2zM567.4 152.1h3.2v3.2h-3.2zM564 147.7h3.2v3.2h-3.2zM560.6 141.4h3.2v3.2h-3.2zM557.2 135.9h3.2v3.2h-3.2zM553.8 132.3h3.2v3.2h-3.2zM550.4 127.7h3.2v3.2h-3.2zM547 122.5h3.2v3.2h-3.2zM543.6 117.6h3.2v3.2h-3.2zM540.2 112.1h3.2v3.2h-3.2zM536.8 107.5h3.2v3.2h-3.2zM533.4 103.8h3.2v3.2h-3.2zM530 98.6h3.2v3.2h-3.2zM526.6 94h3.2v3.2h-3.2zM523.2 90.4h3.2v3.2h-3.2zM519.8 88.3h3.2v3.2h-3.2zM516.4 84.2h3.2v3.2h-3.2zM513 79.2h3.2v3.2h-3.2zM509.6 75.4h3.2v3.2h-3.2zM506.2 72.2h3.2v3.2h-3.2zM502.8 68h3.2v3.2h-3.2zM499.4 65.5h3.2v3.2h-3.2zM496 61.4h3.2v3.2h-3.2zM492.6 57.7h3.2v3.2h-3.2zM489.2 55.9h3.2v3.2h-3.2zM485.8 52.3h3.2v3.2h-3.2zM482.4 50.3h3.2v3.2h-3.2zM479 48.1h3.2v3.2h-3.2zM475.6 46.2h3.2v3.2h-3.2zM472.2 45.1h3.2v3.2h-3.2zM468.8 43.4h3.2v3.2h-3.2zM465.4 41.8h3.2v3.2h-3.2zM462 40.8h3.2v3.2h-3.2zM458.6 40.7h3.2v3.2h-3.2zM455.2 40.4h3.2v3.2h-3.2zM451.8 40.4h3.2v3.2h-3.2zM448.4 40.1h3.2v3.2h-3.2zM445 40.1h3.2v3.2h-3.2zM441.6 39.6h3.2v3.2h-3.2zM438.2 39h3.2v3.2h-3.2zM434.8 38.9h3.2v3.2h-3.2zM431.4 38.1h3.2v3.2h-3.2zM428 39h3.2v3.2h-3.2zM424.6 39.2h3.2v3.2h-3.2zM421.2 39.2h3.2v3.2h-3.2zM417.8 38.8h3.2v3.2h-3.2zM414.4 38.7h3.2v3.2h-3.2zM411 39.3h3.2v3.2h-3.2z" fill="#ff80ff"/>
<path d="M621.9 177.9h3.2v3.2h-3.2zM618.4 172.9h3.2v3.2h-3.2zM615 166.3h3.2v3.2h-3.2zM611.6 158.5h3.2v3.2h-3.2zM608.2 151.1h3.2v3.2h-3.2zM604.8 140.1h3.2v3.2h-3.2zM601.4 130.2h3.2v3.2h-3.2zM598 119h3.2v3.2h-3.2zM594.6 107.8h3.2v3.2h-3.2zM591.2 98.5h3.2v3.2h-3.2zM587.8 87.6h3.2v3.2h-3.2zM584.4 75.5h3.2v3.2h-3.2zM581 66.1h3.2v3.2h-3.2zM577.6 57.9h3.2v3.2h-3.2zM574.2 49.8h3.2v3.2h-3.2zM570.8 43.6h3.2v3.2h-3.2zM567.4 36h3.2v3.2h-3.2zM564 32.3h3.2v3.2h-3.2zM560.6 30.2h3.2v3.2h-3.2zM557.2 29h3.2v3.2h-3.2zM553.8 26.8h3.2v3.2h-3.2zM550.4 26h3.2v3.2h-3.2zM547 27.4h3.2v3.2h-3.2zM543.6 29h3.2v3.2h-3.2zM540.2 31.5h3.2v3.2h-3.2zM536.8 37h3.2v3.2h-3.2zM533.4 38.9h3.2v3.2h-3.2zM530 43.7h3.2v3.2h-3.2zM526.6 49.8h3.2v3.2h-3.2zM523.2 53h3.2v3.2h-3.2zM519.8 56.1h3.2v3.2h-3.2zM516.4 58.9h3.2v3.2h-3.2zM513 63.3h3.2v3.2h-3.2zM509.6 68.1h3.2v3.2h-3.2zM506.2 71.3h3.2v3.2h-3.2zM502.8 76.6h3.2v3.2h-3.2zM499.4 81.2h3.2v3.2h-3.2zM496 88.1h3.2v3.2h-3.2zM492.6 94.9h3.2v3.2h-3.2zM489.2 103.7h3.2v3.2h-3.2zM485.8 113.3h3.2v3.2h-3.2zM482.4 119.9h3.2v3.2h-3.2zM479 130.3h3.2v3.2h-3.2zM475.6 139.6h3.2v3.2h-3.2zM472.2 147.4h3.2v3.2h-3.2zM468.8 155.5h3.2v3.2h-3.2zM465.4 163.7h3.2v3.2h-3.2zM462 171.2h3.2v3.2h-3.2zM458.6 175.7h3.2v3.2h-3.2zM455.2 180.4h3.2v3.2h-3.2zM451.8 183h3.2v3.2h-3.2zM448.4 189.8h3.2v3.2h-3.2zM445 191.3h3.2v3.2h-3.2zM441.6 193.8h3.2v3.2h-3.2zM438.2 195.1h3.2v3.2h-3.2zM434.8 198h3.2v3.2h-3.2zM431.4 198.7h3.2v3.2h-3.2zM428 201.1h3.2v3.2h-3.2zM424.6 202.5h3.2v3.2h-3.2zM421.2 203.1h3.2v3.2h-3.2zM417.8 204.1h3.2v3.2h-3.2zM414.4 203.8h3.2v3.2h-3.2zM411 206.4h3.2v3.2h-3.2z" fill="#ff80ff"/>
</g>
<line x1="63.7" y1="224.1" x2="63.7" y2="221.9" stroke="#222" stroke-width="1"/>
<line x1="83.1" y1="224.1" x2="83.1" y2="220.1" stroke="#222" stroke-width="1"/>
<line x1="102.6" y1="224.1" x2="102.6" y2="221.9" stroke="#222" stroke-width="1"/>
<line x1="122" y1="224.1" x2="122" y2="220.1" stroke="#222" stroke-width="1"/>
<line x1="141.4" y1="224.1" x2="141.4" y2="221.9" stroke="#222" stroke-width="1"/>
<line x1="160.8" y1="224.1" x2="160.8" y2="220.1" stroke="#222" stroke-width="1"/>
<line x1="180.2" y1="224.1" x2="180.2" y2="221.9" stroke="#222" stroke-width="1"/>
<line x1="199.7" y1="224.1" x2="199.7" y2="220.1" stroke="#222" stroke-width="1"/>
<line x1="219.1" y1="224.1" x2="219.1" y2="221.9" stroke="#222" stroke-width="1"/>
<line x1="238.5" y1="224.1" x2="238.5" y2="220.1" stroke="#222" stroke-width="1"/>
<line x1="257.9" y1="224.1" x2="257.9" y2="221.9" stroke="#222" stroke-width="1"/>
<line x1="277.4" y1="224.1" x2="277.4" y2="220.1" stroke="#222" stroke-width="1"/>
<line x1="296.8" y1="224.1" x2="296.8" y2="221.9" stroke="#222" stroke-width="1"/>
<line x1="44.3" y1="208.5" x2="46.5" y2="208.5" stroke="#222" stroke-width="1"/>
<line x1="44.3" y1="192.9" x2="48.3" y2="192.9" stroke="#222" stroke-width="1"/>
<line x1="44.3" y1="177.3" x2="46.5" y2="177.3" stroke="#222" stroke-width="1"/>
<line x1="44.3" y1="161.6" x2="48.3" y2="161.6" stroke="#222" stroke-width="1"/>
<line x1="44.3" y1="146" x2="46.5" y2="146" stroke="#222" stroke-width="1"/>
<line x1="44.3" y1="130.4" x2="48.3" y2="130.4" stroke="#222" stroke-width="1"/>
<line x1="44.3" y1="114.8" x2="46.5" y2="114.8" stroke="#222" stroke-width="1"/>
<line x1="44.3" y1="99.2" x2="48.3" y2="99.2" stroke="#222" stroke-width="1"/>
<line x1="44.3" y1="83.6" x2="46.5" y2="83.6" stroke="#222" stroke-width="1"/>
<line x1="44.3" y1="68" x2="48.3" y2="68" stroke="#222" stroke-width="1"/>
<line x1="44.3" y1="52.3" x2="46.5" y2="52.3" stroke="#222" stroke-width="1"/>
<line x1="44.3" y1="36.7" x2="48.3" y2="36.7" stroke="#222" stroke-width="1"/>
<line x1="44.3" y1="21.1" x2="46.5" y2="21.1" stroke="#222" stroke-width="1"/>
<text x="44.3" y="236.6" font-family='"Liberation Sans", sans-serif' font-size="10.2" text-anchor="middle" font-weight="normal" fill="#000" stroke="#000" stroke-width="0.25" textLength="4.7" lengthAdjust="spacingAndGlyphs">0</text>
<text x="83.1" y="236.6" font-family='"Liberation Sans", sans-serif' font-size="10.2" text-anchor="middle" font-weight="normal" fill="#000" stroke="#000" stroke-width="0.25" textLength="14" lengthAdjust="spacingAndGlyphs">100</text>
<text x="122" y="236.6" font-family='"Liberation Sans", sans-serif' font-size="10.2" text-anchor="middle" font-weight="normal" fill="#000" stroke="#000" stroke-width="0.25" textLength="14" lengthAdjust="spacingAndGlyphs">200</text>
<text x="160.8" y="236.6" font-family='"Liberation Sans", sans-serif' font-size="10.2" text-anchor="middle" font-weight="normal" fill="#000" stroke="#000" stroke-width="0.25" textLength="14" lengthAdjust="spacingAndGlyphs">300</text>
<text x="199.7" y="236.6" font-family='"Liberation Sans", sans-serif' font-size="10.2" text-anchor="middle" font-weight="normal" fill="#000" stroke="#000" stroke-width="0.25" textLength="14" lengthAdjust="spacingAndGlyphs">400</text>
<text x="238.5" y="236.6" font-family='"Liberation Sans", sans-serif' font-size="10.2" text-anchor="middle" font-weight="normal" fill="#000" stroke="#000" stroke-width="0.25" textLength="14" lengthAdjust="spacingAndGlyphs">500</text>
<text x="277.4" y="236.6" font-family='"Liberation Sans", sans-serif' font-size="10.2" text-anchor="middle" font-weight="normal" fill="#000" stroke="#000" stroke-width="0.25" textLength="14" lengthAdjust="spacingAndGlyphs">600</text>
<text x="316.2" y="236.6" font-family='"Liberation Sans", sans-serif' font-size="10.2" text-anchor="middle" font-weight="normal" fill="#000" stroke="#000" stroke-width="0.25" textLength="14" lengthAdjust="spacingAndGlyphs">700</text>
<text x="39" y="227.7" font-family='"Liberation Sans", sans-serif' font-size="10.2" text-anchor="end" font-weight="normal" fill="#000" stroke="#000" stroke-width="0.25" textLength="4.7" lengthAdjust="spacingAndGlyphs">0</text>
<text x="39" y="196.5" font-family='"Liberation Sans", sans-serif' font-size="10.2" text-anchor="end" font-weight="normal" fill="#000" stroke="#000" stroke-width="0.25" textLength="18" lengthAdjust="spacingAndGlyphs">−100</text>
<text x="39" y="165.2" font-family='"Liberation Sans", sans-serif' font-size="10.2" text-anchor="end" font-weight="normal" fill="#000" stroke="#000" stroke-width="0.25" textLength="18" lengthAdjust="spacingAndGlyphs">−200</text>
<text x="39" y="134" font-family='"Liberation Sans", sans-serif' font-size="10.2" text-anchor="end" font-weight="normal" fill="#000" stroke="#000" stroke-width="0.25" textLength="18" lengthAdjust="spacingAndGlyphs">−300</text>
<text x="39" y="102.8" font-family='"Liberation Sans", sans-serif' font-size="10.2" text-anchor="end" font-weight="normal" fill="#000" stroke="#000" stroke-width="0.25" textLength="18" lengthAdjust="spacingAndGlyphs">−400</text>
<text x="39" y="71.6" font-family='"Liberation Sans", sans-serif' font-size="10.2" text-anchor="end" font-weight="normal" fill="#000" stroke="#000" stroke-width="0.25" textLength="18" lengthAdjust="spacingAndGlyphs">−500</text>
<text x="39" y="40.3" font-family='"Liberation Sans", sans-serif' font-size="10.2" text-anchor="end" font-weight="normal" fill="#000" stroke="#000" stroke-width="0.25" textLength="18" lengthAdjust="spacingAndGlyphs">−600</text>
<text x="39" y="9.1" font-family='"Liberation Sans", sans-serif' font-size="10.2" text-anchor="end" font-weight="normal" fill="#000" stroke="#000" stroke-width="0.25" textLength="18" lengthAdjust="spacingAndGlyphs">−700</text>
<rect x="44.3" y="5.5" width="271.9" height="218.6" fill="none" stroke="#222" stroke-width="1.3"/>
<line x1="388.8" y1="224.1" x2="388.8" y2="221.9" stroke="#222" stroke-width="1"/>
<line x1="394.8" y1="224.1" x2="394.8" y2="221.9" stroke="#222" stroke-width="1"/>
<line x1="399.1" y1="224.1" x2="399.1" y2="221.9" stroke="#222" stroke-width="1"/>
<line x1="402.4" y1="224.1" x2="402.4" y2="221.9" stroke="#222" stroke-width="1"/>
<line x1="405" y1="224.1" x2="405" y2="221.9" stroke="#222" stroke-width="1"/>
<line x1="407.3" y1="224.1" x2="407.3" y2="221.9" stroke="#222" stroke-width="1"/>
<line x1="409.3" y1="224.1" x2="409.3" y2="221.9" stroke="#222" stroke-width="1"/>
<line x1="411" y1="224.1" x2="411" y2="221.9" stroke="#222" stroke-width="1"/>
<line x1="412.6" y1="224.1" x2="412.6" y2="220.1" stroke="#222" stroke-width="1"/>
<line x1="422.8" y1="224.1" x2="422.8" y2="221.9" stroke="#222" stroke-width="1"/>
<line x1="428.8" y1="224.1" x2="428.8" y2="221.9" stroke="#222" stroke-width="1"/>
<line x1="433.1" y1="224.1" x2="433.1" y2="221.9" stroke="#222" stroke-width="1"/>
<line x1="436.3" y1="224.1" x2="436.3" y2="221.9" stroke="#222" stroke-width="1"/>
<line x1="439" y1="224.1" x2="439" y2="221.9" stroke="#222" stroke-width="1"/>
<line x1="441.3" y1="224.1" x2="441.3" y2="221.9" stroke="#222" stroke-width="1"/>
<line x1="443.3" y1="224.1" x2="443.3" y2="221.9" stroke="#222" stroke-width="1"/>
<line x1="445" y1="224.1" x2="445" y2="221.9" stroke="#222" stroke-width="1"/>
<line x1="446.6" y1="224.1" x2="446.6" y2="220.1" stroke="#222" stroke-width="1"/>
<line x1="456.8" y1="224.1" x2="456.8" y2="221.9" stroke="#222" stroke-width="1"/>
<line x1="462.8" y1="224.1" x2="462.8" y2="221.9" stroke="#222" stroke-width="1"/>
<line x1="467" y1="224.1" x2="467" y2="221.9" stroke="#222" stroke-width="1"/>
<line x1="470.3" y1="224.1" x2="470.3" y2="221.9" stroke="#222" stroke-width="1"/>
<line x1="473" y1="224.1" x2="473" y2="221.9" stroke="#222" stroke-width="1"/>
<line x1="475.3" y1="224.1" x2="475.3" y2="221.9" stroke="#222" stroke-width="1"/>
<line x1="477.3" y1="224.1" x2="477.3" y2="221.9" stroke="#222" stroke-width="1"/>
<line x1="479" y1="224.1" x2="479" y2="221.9" stroke="#222" stroke-width="1"/>
<line x1="480.6" y1="224.1" x2="480.6" y2="220.1" stroke="#222" stroke-width="1"/>
<line x1="490.8" y1="224.1" x2="490.8" y2="221.9" stroke="#222" stroke-width="1"/>
<line x1="496.8" y1="224.1" x2="496.8" y2="221.9" stroke="#222" stroke-width="1"/>
<line x1="501" y1="224.1" x2="501" y2="221.9" stroke="#222" stroke-width="1"/>
<line x1="504.3" y1="224.1" x2="504.3" y2="221.9" stroke="#222" stroke-width="1"/>
<line x1="507" y1="224.1" x2="507" y2="221.9" stroke="#222" stroke-width="1"/>
<line x1="509.3" y1="224.1" x2="509.3" y2="221.9" stroke="#222" stroke-width="1"/>
<line x1="511.3" y1="224.1" x2="511.3" y2="221.9" stroke="#222" stroke-width="1"/>
<line x1="513" y1="224.1" x2="513" y2="221.9" stroke="#222" stroke-width="1"/>
<line x1="514.5" y1="224.1" x2="514.5" y2="220.1" stroke="#222" stroke-width="1"/>
<line x1="524.8" y1="224.1" x2="524.8" y2="221.9" stroke="#222" stroke-width="1"/>
<line x1="530.8" y1="224.1" x2="530.8" y2="221.9" stroke="#222" stroke-width="1"/>
<line x1="535" y1="224.1" x2="535" y2="221.9" stroke="#222" stroke-width="1"/>
<line x1="538.3" y1="224.1" x2="538.3" y2="221.9" stroke="#222" stroke-width="1"/>
<line x1="541" y1="224.1" x2="541" y2="221.9" stroke="#222" stroke-width="1"/>
<line x1="543.3" y1="224.1" x2="543.3" y2="221.9" stroke="#222" stroke-width="1"/>
<line x1="545.2" y1="224.1" x2="545.2" y2="221.9" stroke="#222" stroke-width="1"/>
<line x1="547" y1="224.1" x2="547" y2="221.9" stroke="#222" stroke-width="1"/>
<line x1="548.5" y1="224.1" x2="548.5" y2="220.1" stroke="#222" stroke-width="1"/>
<line x1="558.8" y1="224.1" x2="558.8" y2="221.9" stroke="#222" stroke-width="1"/>
<line x1="564.8" y1="224.1" x2="564.8" y2="221.9" stroke="#222" stroke-width="1"/>
<line x1="569" y1="224.1" x2="569" y2="221.9" stroke="#222" stroke-width="1"/>
<line x1="572.3" y1="224.1" x2="572.3" y2="221.9" stroke="#222" stroke-width="1"/>
<line x1="575" y1="224.1" x2="575" y2="221.9" stroke="#222" stroke-width="1"/>
<line x1="577.3" y1="224.1" x2="577.3" y2="221.9" stroke="#222" stroke-width="1"/>
<line x1="579.2" y1="224.1" x2="579.2" y2="221.9" stroke="#222" stroke-width="1"/>
<line x1="581" y1="224.1" x2="581" y2="221.9" stroke="#222" stroke-width="1"/>
<line x1="582.5" y1="224.1" x2="582.5" y2="220.1" stroke="#222" stroke-width="1"/>
<line x1="592.8" y1="224.1" x2="592.8" y2="221.9" stroke="#222" stroke-width="1"/>
<line x1="598.7" y1="224.1" x2="598.7" y2="221.9" stroke="#222" stroke-width="1"/>
<line x1="603" y1="224.1" x2="603" y2="221.9" stroke="#222" stroke-width="1"/>
<line x1="606.3" y1="224.1" x2="606.3" y2="221.9" stroke="#222" stroke-width="1"/>
<line x1="609" y1="224.1" x2="609" y2="221.9" stroke="#222" stroke-width="1"/>
<line x1="611.2" y1="224.1" x2="611.2" y2="221.9" stroke="#222" stroke-width="1"/>
<line x1="613.2" y1="224.1" x2="613.2" y2="221.9" stroke="#222" stroke-width="1"/>
<line x1="615" y1="224.1" x2="615" y2="221.9" stroke="#222" stroke-width="1"/>
<line x1="616.5" y1="224.1" x2="616.5" y2="220.1" stroke="#222" stroke-width="1"/>
<line x1="626.7" y1="224.1" x2="626.7" y2="221.9" stroke="#222" stroke-width="1"/>
<line x1="632.7" y1="224.1" x2="632.7" y2="221.9" stroke="#222" stroke-width="1"/>
<line x1="637" y1="224.1" x2="637" y2="221.9" stroke="#222" stroke-width="1"/>
<line x1="640.3" y1="224.1" x2="640.3" y2="221.9" stroke="#222" stroke-width="1"/>
<line x1="643" y1="224.1" x2="643" y2="221.9" stroke="#222" stroke-width="1"/>
<line x1="645.2" y1="224.1" x2="645.2" y2="221.9" stroke="#222" stroke-width="1"/>
<line x1="647.2" y1="224.1" x2="647.2" y2="221.9" stroke="#222" stroke-width="1"/>
<line x1="648.9" y1="224.1" x2="648.9" y2="221.9" stroke="#222" stroke-width="1"/>
<line x1="378.6" y1="204.3" x2="380.8" y2="204.3" stroke="#222" stroke-width="1"/>
<line x1="378.6" y1="192.7" x2="380.8" y2="192.7" stroke="#222" stroke-width="1"/>
<line x1="378.6" y1="184.4" x2="380.8" y2="184.4" stroke="#222" stroke-width="1"/>
<line x1="378.6" y1="178" x2="380.8" y2="178" stroke="#222" stroke-width="1"/>
<line x1="378.6" y1="172.7" x2="380.8" y2="172.7" stroke="#222" stroke-width="1"/>
<line x1="378.6" y1="168.3" x2="380.8" y2="168.3" stroke="#222" stroke-width="1"/>
<line x1="378.6" y1="164.4" x2="380.8" y2="164.4" stroke="#222" stroke-width="1"/>
<line x1="378.6" y1="161" x2="380.8" y2="161" stroke="#222" stroke-width="1"/>
<line x1="378.6" y1="158" x2="382.6" y2="158" stroke="#222" stroke-width="1"/>
<line x1="378.6" y1="138" x2="380.8" y2="138" stroke="#222" stroke-width="1"/>
<line x1="378.6" y1="126.4" x2="380.8" y2="126.4" stroke="#222" stroke-width="1"/>
<line x1="378.6" y1="118.1" x2="380.8" y2="118.1" stroke="#222" stroke-width="1"/>
<line x1="378.6" y1="111.7" x2="380.8" y2="111.7" stroke="#222" stroke-width="1"/>
<line x1="378.6" y1="106.4" x2="380.8" y2="106.4" stroke="#222" stroke-width="1"/>
<line x1="378.6" y1="102" x2="380.8" y2="102" stroke="#222" stroke-width="1"/>
<line x1="378.6" y1="98.1" x2="380.8" y2="98.1" stroke="#222" stroke-width="1"/>
<line x1="378.6" y1="94.7" x2="380.8" y2="94.7" stroke="#222" stroke-width="1"/>
<line x1="378.6" y1="91.7" x2="382.6" y2="91.7" stroke="#222" stroke-width="1"/>
<line x1="378.6" y1="71.7" x2="380.8" y2="71.7" stroke="#222" stroke-width="1"/>
<line x1="378.6" y1="60.1" x2="380.8" y2="60.1" stroke="#222" stroke-width="1"/>
<line x1="378.6" y1="51.8" x2="380.8" y2="51.8" stroke="#222" stroke-width="1"/>
<line x1="378.6" y1="45.4" x2="380.8" y2="45.4" stroke="#222" stroke-width="1"/>
<line x1="378.6" y1="40.1" x2="380.8" y2="40.1" stroke="#222" stroke-width="1"/>
<line x1="378.6" y1="35.7" x2="380.8" y2="35.7" stroke="#222" stroke-width="1"/>
<line x1="378.6" y1="31.8" x2="380.8" y2="31.8" stroke="#222" stroke-width="1"/>
<line x1="378.6" y1="28.4" x2="380.8" y2="28.4" stroke="#222" stroke-width="1"/>
<line x1="378.6" y1="25.4" x2="382.6" y2="25.4" stroke="#222" stroke-width="1"/>
<line x1="650.5" y1="209.5" x2="646.5" y2="209.5" stroke="#222" stroke-width="1"/>
<line x1="650.5" y1="194.9" x2="648.3" y2="194.9" stroke="#222" stroke-width="1"/>
<line x1="650.5" y1="180.4" x2="646.5" y2="180.4" stroke="#222" stroke-width="1"/>
<line x1="650.5" y1="165.8" x2="648.3" y2="165.8" stroke="#222" stroke-width="1"/>
<line x1="650.5" y1="151.2" x2="646.5" y2="151.2" stroke="#222" stroke-width="1"/>
<line x1="650.5" y1="136.6" x2="648.3" y2="136.6" stroke="#222" stroke-width="1"/>
<line x1="650.5" y1="122.1" x2="646.5" y2="122.1" stroke="#222" stroke-width="1"/>
<line x1="650.5" y1="107.5" x2="648.3" y2="107.5" stroke="#222" stroke-width="1"/>
<line x1="650.5" y1="92.9" x2="646.5" y2="92.9" stroke="#222" stroke-width="1"/>
<line x1="650.5" y1="78.4" x2="648.3" y2="78.4" stroke="#222" stroke-width="1"/>
<line x1="650.5" y1="63.8" x2="646.5" y2="63.8" stroke="#222" stroke-width="1"/>
<line x1="650.5" y1="49.2" x2="648.3" y2="49.2" stroke="#222" stroke-width="1"/>
<line x1="650.5" y1="34.6" x2="646.5" y2="34.6" stroke="#222" stroke-width="1"/>
<line x1="650.5" y1="20.1" x2="648.3" y2="20.1" stroke="#222" stroke-width="1"/>
<text x="371.2" y="237.5" font-family='"Liberation Serif", serif' font-size="10" text-anchor="start" font-weight="normal" fill="#000" stroke="#000" stroke-width="0.25" textLength="8.2" lengthAdjust="spacingAndGlyphs">10</text>
<text x="379.6" y="233" font-family='"Liberation Serif", serif' font-size="6.2" text-anchor="start" font-weight="normal" fill="#000" stroke="#000" stroke-width="0.15" textLength="6.5" lengthAdjust="spacingAndGlyphs">−3</text>
<text x="405.2" y="237.5" font-family='"Liberation Serif", serif' font-size="10" text-anchor="start" font-weight="normal" fill="#000" stroke="#000" stroke-width="0.25" textLength="8.2" lengthAdjust="spacingAndGlyphs">10</text>
<text x="413.6" y="233" font-family='"Liberation Serif", serif' font-size="6.2" text-anchor="start" font-weight="normal" fill="#000" stroke="#000" stroke-width="0.15" textLength="6.5" lengthAdjust="spacingAndGlyphs">−2</text>
<text x="439.2" y="237.5" font-family='"Liberation Serif", serif' font-size="10" text-anchor="start" font-weight="normal" fill="#000" stroke="#000" stroke-width="0.25" textLength="8.2" lengthAdjust="spacingAndGlyphs">10</text>
<text x="447.6" y="233" font-family='"Liberation Serif", serif' font-size="6.2" text-anchor="start" font-weight="normal" fill="#000" stroke="#000" stroke-width="0.15" textLength="6.5" lengthAdjust="spacingAndGlyphs">−1</text>
<text x="474.8" y="237.5" font-family='"Liberation Serif", serif' font-size="10" text-anchor="start" font-weight="normal" fill="#000" stroke="#000" stroke-width="0.25" textLength="8.2" lengthAdjust="spacingAndGlyphs">10</text>
<text x="483.2" y="233" font-family='"Liberation Serif", serif' font-size="6.2" text-anchor="start" font-weight="normal" fill="#000" stroke="#000" stroke-width="0.15" textLength="3.3" lengthAdjust="spacingAndGlyphs">0</text>
<text x="508.8" y="237.5" font-family='"Liberation Serif", serif' font-size="10" text-anchor="start" font-weight="normal" fill="#000" stroke="#000" stroke-width="0.25" textLength="8.2" lengthAdjust="spacingAndGlyphs">10</text>
<text x="517.2" y="233" font-family='"Liberation Serif", serif' font-size="6.2" text-anchor="start" font-weight="normal" fill="#000" stroke="#000" stroke-width="0.15" textLength="3.3" lengthAdjust="spacingAndGlyphs">1</text>
<text x="542.8" y="237.5" font-family='"Liberation Serif", serif' font-size="10" text-anchor="start" font-weight="normal" fill="#000" stroke="#000" stroke-width="0.25" textLength="8.2" lengthAdjust="spacingAndGlyphs">10</text>
<text x="551.2" y="233" font-family='"Liberation Serif", serif' font-size="6.2" text-anchor="start" font-weight="normal" fill="#000" stroke="#000" stroke-width="0.15" textLength="3.3" lengthAdjust="spacingAndGlyphs">2</text>
<text x="576.8" y="237.5" font-family='"Liberation Serif", serif' font-size="10" text-anchor="start" font-weight="normal" fill="#000" stroke="#000" stroke-width="0.25" textLength="8.2" lengthAdjust="spacingAndGlyphs">10</text>
<text x="585.2" y="233" font-family='"Liberation Serif", serif' font-size="6.2" text-anchor="start" font-weight="normal" fill="#000" stroke="#000" stroke-width="0.15" textLength="3.3" lengthAdjust="spacingAndGlyphs">3</text>
<text x="610.8" y="237.5" font-family='"Liberation Serif", serif' font-size="10" text-anchor="start" font-weight="normal" fill="#000" stroke="#000" stroke-width="0.25" textLength="8.2" lengthAdjust="spacingAndGlyphs">10</text>
<text x="619.2" y="233" font-family='"Liberation Serif", serif' font-size="6.2" text-anchor="start" font-weight="normal" fill="#000" stroke="#000" stroke-width="0.15" textLength="3.3" lengthAdjust="spacingAndGlyphs">4</text>
<text x="644.8" y="237.5" font-family='"Liberation Serif", serif' font-size="10" text-anchor="start" font-weight="normal" fill="#000" stroke="#000" stroke-width="0.25" textLength="8.2" lengthAdjust="spacingAndGlyphs">10</text>
<text x="653.1" y="233" font-family='"Liberation Serif", serif' font-size="6.2" text-anchor="start" font-weight="normal" fill="#000" stroke="#000" stroke-width="0.15" textLength="3.3" lengthAdjust="spacingAndGlyphs">5</text>
<text x="369.8" y="228.9" font-family='"Liberation Serif", serif' font-size="10" text-anchor="end" font-weight="normal" fill="#000" stroke="#000" stroke-width="0.25" textLength="8.2" lengthAdjust="spacingAndGlyphs">10</text>
<text x="370.6" y="224.7" font-family='"Liberation Serif", serif' font-size="6.2" text-anchor="start" font-weight="normal" fill="#000" stroke="#000" stroke-width="0.15" textLength="3.3" lengthAdjust="spacingAndGlyphs">0</text>
<text x="369.8" y="162.6" font-family='"Liberation Serif", serif' font-size="10" text-anchor="end" font-weight="normal" fill="#000" stroke="#000" stroke-width="0.25" textLength="8.2" lengthAdjust="spacingAndGlyphs">10</text>
<text x="370.6" y="158.4" font-family='"Liberation Serif", serif' font-size="6.2" text-anchor="start" font-weight="normal" fill="#000" stroke="#000" stroke-width="0.15" textLength="3.3" lengthAdjust="spacingAndGlyphs">1</text>
<text x="369.8" y="96.3" font-family='"Liberation Serif", serif' font-size="10" text-anchor="end" font-weight="normal" fill="#000" stroke="#000" stroke-width="0.25" textLength="8.2" lengthAdjust="spacingAndGlyphs">10</text>
<text x="370.6" y="92.1" font-family='"Liberation Serif", serif' font-size="6.2" text-anchor="start" font-weight="normal" fill="#000" stroke="#000" stroke-width="0.15" textLength="3.3" lengthAdjust="spacingAndGlyphs">2</text>
<text x="369.8" y="30" font-family='"Liberation Serif", serif' font-size="10" text-anchor="end" font-weight="normal" fill="#000" stroke="#000" stroke-width="0.25" textLength="8.2" lengthAdjust="spacingAndGlyphs">10</text>
<text x="370.6" y="25.8" font-family='"Liberation Serif", serif' font-size="6.2" text-anchor="start" font-weight="normal" fill="#000" stroke="#000" stroke-width="0.15" textLength="3.3" lengthAdjust="spacingAndGlyphs">3</text>
<text x="656.1" y="212.8" font-family='"Liberation Serif", serif' font-size="9.6" text-anchor="start" font-weight="normal" fill="#555" stroke="#555" stroke-width="0.2" textLength="4.6" lengthAdjust="spacingAndGlyphs">0</text>
<text x="655.7" y="183.7" font-family='"Liberation Serif", serif' font-size="9.6" text-anchor="start" font-weight="normal" fill="#555" stroke="#555" stroke-width="0.2" textLength="13.6" lengthAdjust="spacingAndGlyphs">−10</text>
<text x="655.7" y="154.5" font-family='"Liberation Serif", serif' font-size="9.6" text-anchor="start" font-weight="normal" fill="#555" stroke="#555" stroke-width="0.2" textLength="13.6" lengthAdjust="spacingAndGlyphs">−20</text>
<text x="655.7" y="125.4" font-family='"Liberation Serif", serif' font-size="9.6" text-anchor="start" font-weight="normal" fill="#555" stroke="#555" stroke-width="0.2" textLength="13.6" lengthAdjust="spacingAndGlyphs">−30</text>
<text x="655.7" y="96.2" font-family='"Liberation Serif", serif' font-size="9.6" text-anchor="start" font-weight="normal" fill="#555" stroke="#555" stroke-width="0.2" textLength="13.6" lengthAdjust="spacingAndGlyphs">−40</text>
<text x="655.7" y="67.1" font-family='"Liberation Serif", serif' font-size="9.6" text-anchor="start" font-weight="normal" fill="#555" stroke="#555" stroke-width="0.2" textLength="13.6" lengthAdjust="spacingAndGlyphs">−50</text>
<text x="655.7" y="37.9" font-family='"Liberation Serif", serif' font-size="9.6" text-anchor="start" font-weight="normal" fill="#555" stroke="#555" stroke-width="0.2" textLength="13.6" lengthAdjust="spacingAndGlyphs">−60</text>
<text x="655.7" y="8.8" font-family='"Liberation Serif", serif' font-size="9.6" text-anchor="start" font-weight="normal" fill="#555" stroke="#555" stroke-width="0.2" textLength="13.6" lengthAdjust="spacingAndGlyphs">−70</text>
<rect x="378.6" y="5.5" width="271.9" height="218.6" fill="none" stroke="#222" stroke-width="1.3"/>
<svg x="0" y="0" width="685" height="813" overflow="hidden"><clipPath id="cnb"><rect x="44.3" y="280.7" width="271.9" height="218.4"/></clipPath><clipPath id="cbb"><rect x="375.6" y="280.8" width="272.2" height="218.4"/></clipPath></svg>
<g clip-path="url(#cnb)">
<path d="M45 499.1 L45 499.1 L45 499.1 L45 499.1 L45 499.1 L45 499.1 L45 499.1 L45 499 L45 499 L45 499 L45 499 L45 499 L45 499 L45 499 L45 499 L45 499 L45 498.9 L45 498.9 L45 498.9 L45 498.9 L45.1 498.8 L45.1 498.8 L45.1 498.8 L45.1 498.7 L45.1 498.7 L45.2 498.6 L45.2 498.6 L45.2 498.5 L45.3 498.4 L45.3 498.3 L45.3 498.3 L45.4 498.1 L45.4 498 L45.5 497.9 L45.6 497.7 L45.7 497.6 L45.8 497.4 L45.9 497.2 L46 496.9 L46.1 496.6 L46.3 496.3 L46.5 496 L46.7 495.6 L46.9 495.2 L47.2 494.7 L47.5 494.1 L47.8 493.5 L48.2 492.9 L48.7 492.1 L49.3 491.3 L49.9 490.4 L50.6 489.3 L51.4 488.2 L52.4 487 L53.5 485.6 L54.8 484.1 L56.3 482.5 L58.1 480.8 L60.1 479 L62.4 477 L65.1 475 L68.1 472.9 L71.5 470.8 L75.4 468.7 L79.7 466.7 L84.4 464.9 L89.5 463.2 L95.1 461.8 L100.9 460.6 L107 459.9 L113.2 459.6 L119.5 459.7 L125.7 460.2 L131.6 461.1 L137.4 462.3 L142.7 463.9 L147.7 465.7 L152.2 467.6 L156.3 469.7 L160 471.8 L163.2 473.9 L166.1 475.9 L168.6 477.9 L170.8 479.8 L172.6 481.6 L174.3 483.3 L175.7 484.8 L176.9 486.2 L178 487.5 L178.9 488.7 L179.6 489.8 L180.3 490.8 L180.9 491.7 L181.4 492.5 L181.9 493.2 L182.2 493.8 L182.6 494.4 L182.9 494.9 L183.1 495.4 L183.3 495.8 L183.5 496.1 L183.7 496.5 L183.9 496.8 L184 497 L184.1 497.3 L184.2 497.5" fill="none" stroke="#444444" stroke-width="0.9"/>
<path d="M43 496.3h3.2v3.2h-3.2zM43.3 496.9h3.2v3.2h-3.2zM42.8 497.1h3.2v3.2h-3.2zM43.6 496.6h3.2v3.2h-3.2zM43.4 498.1h3.2v3.2h-3.2zM43.9 497.1h3.2v3.2h-3.2zM43.6 497.1h3.2v3.2h-3.2zM43.5 497.5h3.2v3.2h-3.2zM43.6 495.5h3.2v3.2h-3.2zM43.7 496.2h3.2v3.2h-3.2zM44.2 496.2h3.2v3.2h-3.2zM44 497.7h3.2v3.2h-3.2zM43.4 495.4h3.2v3.2h-3.2zM43.3 494.3h3.2v3.2h-3.2zM43.3 495.5h3.2v3.2h-3.2zM44.3 493.7h3.2v3.2h-3.2zM44.1 494.5h3.2v3.2h-3.2zM45 493.1h3.2v3.2h-3.2zM46.2 493.1h3.2v3.2h-3.2zM47.9 491.7h3.2v3.2h-3.2zM47.8 489.6h3.2v3.2h-3.2zM50.1 488.6h3.2v3.2h-3.2zM50.5 485.8h3.2v3.2h-3.2zM53.1 482.9h3.2v3.2h-3.2zM55.5 479.1h3.2v3.2h-3.2zM59.2 475.5h3.2v3.2h-3.2zM65.1 473h3.2v3.2h-3.2zM69.9 469.7h3.2v3.2h-3.2zM78.8 463.9h3.2v3.2h-3.2zM88.6 462.2h3.2v3.2h-3.2zM99.2 458.5h3.2v3.2h-3.2zM109.7 458.3h3.2v3.2h-3.2zM121.1 458.4h3.2v3.2h-3.2zM132.8 459h3.2v3.2h-3.2zM141.5 461.8h3.2v3.2h-3.2zM150.7 465.8h3.2v3.2h-3.2zM158.4 470.2h3.2v3.2h-3.2zM164 473.5h3.2v3.2h-3.2zM168.2 478.1h3.2v3.2h-3.2zM172.4 480.9h3.2v3.2h-3.2zM174.4 484.7h3.2v3.2h-3.2zM176.2 486.6h3.2v3.2h-3.2zM179.3 488h3.2v3.2h-3.2zM180.1 488.9h3.2v3.2h-3.2zM181.2 491.7h3.2v3.2h-3.2zM179.3 493.3h3.2v3.2h-3.2zM180.5 494.9h3.2v3.2h-3.2zM181.1 494.2h3.2v3.2h-3.2zM182.4 494.6h3.2v3.2h-3.2zM182.7 494.9h3.2v3.2h-3.2zM183.3 495.9h3.2v3.2h-3.2z" fill="#000000"/>
</g><g clip-path="url(#cbb)">
<path d="M624 478.4 L621.8 478.2 L619.5 478.1 L617.2 477.9 L615 477.6 L612.7 477.4 L610.5 477 L608.2 476.6 L606 476.1 L603.7 475.6 L601.4 474.9 L599.2 474.1 L596.9 473.1 L594.7 472 L592.4 470.6 L590.2 469.1 L587.9 467.4 L585.7 465.5 L583.4 463.3 L581.1 461 L578.9 458.4 L576.6 455.7 L574.4 452.8 L572.1 449.7 L569.9 446.6 L567.6 443.3 L565.3 439.9 L563.1 436.5 L560.8 433 L558.6 429.5 L556.3 425.9 L554.1 422.3 L551.8 418.7 L549.5 415.2 L547.3 411.6 L545 408.1 L542.8 404.6 L540.5 401.1 L538.3 397.8 L536 394.4 L533.7 391.2 L531.5 388 L529.2 384.9 L527 381.9 L524.7 378.8 L522.5 375.8 L520.2 372.8 L517.9 369.8 L515.7 366.8 L513.4 363.8 L511.2 360.9 L508.9 357.9 L506.7 355.1 L504.4 352.3 L502.2 349.7 L499.9 347.1 L497.6 344.8 L495.4 342.5 L493.1 340.5 L490.9 338.6 L488.6 337 L486.4 335.5 L484.1 334.2 L481.8 333 L479.6 332 L477.3 331.2 L475.1 330.5 L472.8 329.9 L470.6 329.4 L468.3 328.9 L466 328.6 L463.8 328.3 L461.5 328 L459.3 327.8 L457 327.6 L454.8 327.5 L452.5 327.3 L450.2 327.2 L448 327.1 L445.7 327 L443.5 327 L441.2 326.9 L439 326.9 L436.7 326.8 L434.4 326.8 L432.2 326.7 L429.9 326.7 L427.7 326.7 L425.4 326.7 L423.2 326.7 L420.9 326.6 L418.7 326.6 L416.4 326.6 L414.1 326.6 L411.9 326.6 L409.6 326.6" fill="none" stroke="#444444" stroke-width="0.9"/>
<path d="M624 468.7 L621.8 466.4 L619.5 463.8 L617.2 460.9 L615 457.7 L612.7 454 L610.5 449.9 L608.2 445.3 L606 440.2 L603.7 434.6 L601.4 428.5 L599.2 421.9 L596.9 414.8 L594.7 407.3 L592.4 399.4 L590.2 391.2 L587.9 382.9 L585.7 374.5 L583.4 366.3 L581.1 358.2 L578.9 350.6 L576.6 343.3 L574.4 336.6 L572.1 330.4 L569.9 324.9 L567.6 320 L565.3 315.7 L563.1 312 L560.8 308.9 L558.6 306.4 L556.3 304.5 L554.1 303.2 L551.8 302.4 L549.5 302.1 L547.3 302.3 L545 303 L542.8 304.1 L540.5 305.5 L538.3 307.3 L536 309.3 L533.7 311.4 L531.5 313.6 L529.2 315.8 L527 318 L524.7 320.1 L522.5 322.2 L520.2 324.5 L517.9 326.8 L515.7 329.4 L513.4 332.4 L511.2 335.8 L508.9 339.7 L506.7 344.1 L504.4 349.1 L502.2 354.6 L499.9 360.7 L497.6 367.2 L495.4 374 L493.1 381.2 L490.9 388.5 L488.6 395.8 L486.4 403.1 L484.1 410.3 L481.8 417.1 L479.6 423.7 L477.3 429.8 L475.1 435.5 L472.8 440.8 L470.6 445.6 L468.3 450 L466 453.9 L463.8 457.5 L461.5 460.7 L459.3 463.6 L457 466.1 L454.8 468.4 L452.5 470.4 L450.2 472.1 L448 473.7 L445.7 475.1 L443.5 476.3 L441.2 477.4 L439 478.4 L436.7 479.2 L434.4 479.9 L432.2 480.6 L429.9 481.2 L427.7 481.7 L425.4 482.1 L423.2 482.5 L420.9 482.8 L418.7 483.1 L416.4 483.4 L414.1 483.6 L411.9 483.8 L409.6 484" fill="none" stroke="#444444" stroke-width="0.9"/>
<path d="M619.1 476.7h3.2v3.2h-3.2zM615.7 474.9h3.2v3.2h-3.2zM612.3 476.5h3.2v3.2h-3.2zM608.9 475.4h3.2v3.2h-3.2zM605.5 473.9h3.2v3.2h-3.2zM602.1 474h3.2v3.2h-3.2zM598.7 473.1h3.2v3.2h-3.2zM595.3 472h3.2v3.2h-3.2zM591.9 469.1h3.2v3.2h-3.2zM588.5 468.2h3.2v3.2h-3.2zM585.1 464.7h3.2v3.2h-3.2zM581.7 462.8h3.2v3.2h-3.2zM578.3 457.9h3.2v3.2h-3.2zM574.9 454.2h3.2v3.2h-3.2zM571.5 449.2h3.2v3.2h-3.2zM568 444.1h3.2v3.2h-3.2zM564.6 440.2h3.2v3.2h-3.2zM561.2 435h3.2v3.2h-3.2zM557.8 430h3.2v3.2h-3.2zM554.4 424.3h3.2v3.2h-3.2zM551 418.2h3.2v3.2h-3.2zM547.6 412.2h3.2v3.2h-3.2zM544.2 407.4h3.2v3.2h-3.2zM540.8 402.1h3.2v3.2h-3.2zM537.4 396.9h3.2v3.2h-3.2zM534 392.6h3.2v3.2h-3.2zM530.6 387.6h3.2v3.2h-3.2zM527.2 382.6h3.2v3.2h-3.2zM523.8 378.2h3.2v3.2h-3.2zM520.4 373.5h3.2v3.2h-3.2zM517 369.1h3.2v3.2h-3.2zM513.6 364.9h3.2v3.2h-3.2zM510.2 360.5h3.2v3.2h-3.2zM506.8 355.3h3.2v3.2h-3.2zM503.4 350.6h3.2v3.2h-3.2zM500 348.1h3.2v3.2h-3.2zM496.5 343.7h3.2v3.2h-3.2zM493.1 340.9h3.2v3.2h-3.2zM489.7 336.6h3.2v3.2h-3.2zM486.3 334.7h3.2v3.2h-3.2zM482.9 332.8h3.2v3.2h-3.2zM479.5 330.4h3.2v3.2h-3.2zM476.1 329.5h3.2v3.2h-3.2zM472.7 329h3.2v3.2h-3.2zM469.3 328.4h3.2v3.2h-3.2zM465.9 328h3.2v3.2h-3.2zM462.5 326.3h3.2v3.2h-3.2zM459.1 325.6h3.2v3.2h-3.2zM455.7 326.3h3.2v3.2h-3.2zM452.3 326.3h3.2v3.2h-3.2zM448.9 325.7h3.2v3.2h-3.2zM445.5 324.8h3.2v3.2h-3.2zM442.1 325.8h3.2v3.2h-3.2zM438.7 325.7h3.2v3.2h-3.2zM435.3 325.5h3.2v3.2h-3.2zM431.9 324.9h3.2v3.2h-3.2zM428.5 325.3h3.2v3.2h-3.2zM425 325.5h3.2v3.2h-3.2zM421.6 324.8h3.2v3.2h-3.2zM418.2 324.1h3.2v3.2h-3.2zM414.8 325.2h3.2v3.2h-3.2zM411.4 325.2h3.2v3.2h-3.2zM408 325h3.2v3.2h-3.2z" fill="#000000"/>
<path d="M619.1 464.5h3.2v3.2h-3.2zM615.7 458.9h3.2v3.2h-3.2zM612.3 454.3h3.2v3.2h-3.2zM608.9 448.1h3.2v3.2h-3.2zM605.5 441.8h3.2v3.2h-3.2zM602.1 434.5h3.2v3.2h-3.2zM598.7 423.4h3.2v3.2h-3.2zM595.3 414.9h3.2v3.2h-3.2zM591.9 402.9h3.2v3.2h-3.2zM588.5 390h3.2v3.2h-3.2zM585.1 377.2h3.2v3.2h-3.2zM581.7 365.8h3.2v3.2h-3.2zM578.3 352.1h3.2v3.2h-3.2zM574.9 341.1h3.2v3.2h-3.2zM571.5 330.4h3.2v3.2h-3.2zM568 323.2h3.2v3.2h-3.2zM564.6 316.9h3.2v3.2h-3.2zM561.2 310.5h3.2v3.2h-3.2zM557.8 306.1h3.2v3.2h-3.2zM554.4 302.6h3.2v3.2h-3.2zM551 301.2h3.2v3.2h-3.2zM547.6 299.2h3.2v3.2h-3.2zM544.2 302h3.2v3.2h-3.2zM540.8 302.3h3.2v3.2h-3.2zM537.4 304.1h3.2v3.2h-3.2zM534 307.4h3.2v3.2h-3.2zM530.6 310.6h3.2v3.2h-3.2zM527.2 315.4h3.2v3.2h-3.2zM523.8 318.8h3.2v3.2h-3.2zM520.4 319.9h3.2v3.2h-3.2zM517 325.4h3.2v3.2h-3.2zM513.6 329.3h3.2v3.2h-3.2zM510.2 332.8h3.2v3.2h-3.2zM506.8 337.8h3.2v3.2h-3.2zM503.4 345.6h3.2v3.2h-3.2zM500 354h3.2v3.2h-3.2zM496.5 364.4h3.2v3.2h-3.2zM493.1 374.1h3.2v3.2h-3.2zM489.7 383.5h3.2v3.2h-3.2zM486.3 396.7h3.2v3.2h-3.2zM482.9 406h3.2v3.2h-3.2zM479.5 418.5h3.2v3.2h-3.2zM476.1 426.1h3.2v3.2h-3.2zM472.7 435.1h3.2v3.2h-3.2zM469.3 442.5h3.2v3.2h-3.2zM465.9 449.3h3.2v3.2h-3.2zM462.5 456.6h3.2v3.2h-3.2zM459.1 461h3.2v3.2h-3.2zM455.7 464.8h3.2v3.2h-3.2zM452.3 467.9h3.2v3.2h-3.2zM448.9 469h3.2v3.2h-3.2zM445.5 472.2h3.2v3.2h-3.2zM442.1 474.1h3.2v3.2h-3.2zM438.7 475.3h3.2v3.2h-3.2zM435.3 478h3.2v3.2h-3.2zM431.9 478h3.2v3.2h-3.2zM428.5 478.9h3.2v3.2h-3.2zM425 479.3h3.2v3.2h-3.2zM421.6 479h3.2v3.2h-3.2zM418.2 481.9h3.2v3.2h-3.2zM414.8 483h3.2v3.2h-3.2zM411.4 482.3h3.2v3.2h-3.2zM408 481.5h3.2v3.2h-3.2z" fill="#000000"/>
</g>
<g clip-path="url(#cnb)">
<path d="M45 499 L45 499 L45 499 L45 499 L45 499 L45 499 L45 498.9 L45 498.9 L45.1 498.9 L45.1 498.9 L45.1 498.9 L45.1 498.8 L45.1 498.8 L45.1 498.8 L45.2 498.7 L45.2 498.7 L45.2 498.6 L45.2 498.6 L45.3 498.5 L45.3 498.5 L45.4 498.4 L45.4 498.3 L45.5 498.2 L45.5 498.1 L45.6 498 L45.7 497.8 L45.8 497.7 L45.9 497.5 L46 497.3 L46.1 497.1 L46.2 496.9 L46.4 496.7 L46.6 496.4 L46.8 496 L47 495.7 L47.2 495.3 L47.5 494.9 L47.8 494.4 L48.2 493.8 L48.6 493.2 L49.1 492.6 L49.6 491.8 L50.2 491 L50.9 490.1 L51.6 489.1 L52.5 488.1 L53.5 486.9 L54.7 485.6 L55.9 484.2 L57.4 482.7 L59.1 481 L61 479.3 L63.1 477.4 L65.6 475.4 L68.4 473.3 L71.5 471.1 L75 468.9 L78.9 466.7 L83.2 464.5 L88 462.3 L93.2 460.3 L98.8 458.4 L104.8 456.7 L111.2 455.4 L117.8 454.3 L124.7 453.7 L131.7 453.4 L138.7 453.5 L145.6 454 L152.3 454.9 L158.8 456.2 L165 457.8 L170.8 459.6 L176.1 461.5 L181 463.7 L185.5 465.9 L189.6 468.1 L193.2 470.3 L196.5 472.5 L199.4 474.6 L201.9 476.6 L204.2 478.6 L206.2 480.4 L207.9 482.1 L209.5 483.6 L210.8 485.1 L212 486.4 L213.1 487.6 L214 488.8 L214.8 489.8 L215.5 490.7 L216.1 491.5 L216.7 492.3 L217.2 493 L217.6 493.6 L218 494.2 L218.3 494.7 L218.6 495.1 L218.9 495.6 L219.1 495.9 L219.3 496.3 L219.5 496.5 L219.7 496.8 L219.8 497.1 L219.9 497.3 L220.1 497.5" fill="none" stroke="#ff5050" stroke-width="0.9"/>
<path d="M41.9 497.3h3.2v3.2h-3.2zM44.3 497.3h3.2v3.2h-3.2zM44.2 497.9h3.2v3.2h-3.2zM44.3 496.7h3.2v3.2h-3.2zM44.4 497.3h3.2v3.2h-3.2zM42.9 496.4h3.2v3.2h-3.2zM43.1 496.4h3.2v3.2h-3.2zM44.4 495.6h3.2v3.2h-3.2zM43 496.7h3.2v3.2h-3.2zM44.7 496.5h3.2v3.2h-3.2zM43.9 495.8h3.2v3.2h-3.2zM46.3 495.8h3.2v3.2h-3.2zM45.3 494.2h3.2v3.2h-3.2zM45.9 493.8h3.2v3.2h-3.2zM47.2 492.3h3.2v3.2h-3.2zM46.6 491.5h3.2v3.2h-3.2zM48.1 490h3.2v3.2h-3.2zM49.9 488.9h3.2v3.2h-3.2zM52 485.7h3.2v3.2h-3.2zM53.6 484.6h3.2v3.2h-3.2zM55.7 481.1h3.2v3.2h-3.2zM60.2 478.4h3.2v3.2h-3.2zM64 473.2h3.2v3.2h-3.2zM68.3 470.2h3.2v3.2h-3.2zM75.9 467.5h3.2v3.2h-3.2zM83.3 462.5h3.2v3.2h-3.2zM93.8 457h3.2v3.2h-3.2zM103.9 455h3.2v3.2h-3.2zM116.3 452.6h3.2v3.2h-3.2zM129.8 451.3h3.2v3.2h-3.2zM142.7 451.9h3.2v3.2h-3.2zM154.6 454.4h3.2v3.2h-3.2zM166 457.2h3.2v3.2h-3.2zM177.3 460.7h3.2v3.2h-3.2zM184.8 465.2h3.2v3.2h-3.2zM191.7 469.6h3.2v3.2h-3.2zM196.8 473.3h3.2v3.2h-3.2zM201.9 476.1h3.2v3.2h-3.2zM206.8 479.4h3.2v3.2h-3.2zM209.7 483.2h3.2v3.2h-3.2zM211.7 484.7h3.2v3.2h-3.2zM213.3 488.3h3.2v3.2h-3.2zM213.9 489.1h3.2v3.2h-3.2zM217.5 490.9h3.2v3.2h-3.2zM215.5 491.3h3.2v3.2h-3.2zM217.1 493.3h3.2v3.2h-3.2zM217.3 495.5h3.2v3.2h-3.2zM217.3 494.9h3.2v3.2h-3.2zM219.4 494h3.2v3.2h-3.2zM219.3 497.3h3.2v3.2h-3.2zM217.1 494.8h3.2v3.2h-3.2z" fill="#ff0000"/>
</g><g clip-path="url(#cbb)">
<path d="M624 478.8 L621.8 478.6 L619.5 478.4 L617.2 478.2 L615 477.9 L612.7 477.5 L610.5 477.1 L608.2 476.5 L606 475.9 L603.7 475.2 L601.4 474.3 L599.2 473.3 L596.9 472.1 L594.7 470.8 L592.4 469.2 L590.2 467.5 L587.9 465.5 L585.7 463.3 L583.4 461 L581.1 458.4 L578.9 455.7 L576.6 452.8 L574.4 449.8 L572.1 446.7 L569.9 443.4 L567.6 440.1 L565.3 436.7 L563.1 433.3 L560.8 429.7 L558.6 426.2 L556.3 422.6 L554.1 419.1 L551.8 415.5 L549.5 411.9 L547.3 408.4 L545 404.8 L542.8 401.3 L540.5 397.9 L538.3 394.5 L536 391.2 L533.7 388 L531.5 384.9 L529.2 381.8 L527 378.8 L524.7 375.8 L522.5 372.8 L520.2 369.9 L517.9 366.9 L515.7 364 L513.4 361 L511.2 358.1 L508.9 355.2 L506.7 352.3 L504.4 349.5 L502.2 346.7 L499.9 344.1 L497.6 341.5 L495.4 339.2 L493.1 336.9 L490.9 334.8 L488.6 332.9 L486.4 331.2 L484.1 329.6 L481.8 328.3 L479.6 327.1 L477.3 326 L475.1 325.1 L472.8 324.3 L470.6 323.6 L468.3 323.1 L466 322.6 L463.8 322.2 L461.5 321.8 L459.3 321.5 L457 321.3 L454.8 321.1 L452.5 320.9 L450.2 320.8 L448 320.6 L445.7 320.5 L443.5 320.4 L441.2 320.3 L439 320.3 L436.7 320.2 L434.4 320.2 L432.2 320.1 L429.9 320.1 L427.7 320 L425.4 320 L423.2 320 L420.9 320 L418.7 319.9 L416.4 319.9 L414.1 319.9 L411.9 319.9 L409.6 319.9" fill="none" stroke="#ff5050" stroke-width="0.9"/>
<path d="M624 465.4 L621.8 462.8 L619.5 459.8 L617.2 456.4 L615 452.6 L612.7 448.4 L610.5 443.8 L608.2 438.7 L606 433.1 L603.7 426.9 L601.4 420.3 L599.2 413.3 L596.9 405.8 L594.7 398 L592.4 390 L590.2 381.9 L587.9 373.7 L585.7 365.7 L583.4 357.9 L581.1 350.4 L578.9 343.4 L576.6 336.8 L574.4 330.8 L572.1 325.4 L569.9 320.5 L567.6 316.2 L565.3 312.5 L563.1 309.3 L560.8 306.7 L558.6 304.7 L556.3 303.1 L554.1 302.1 L551.8 301.5 L549.5 301.4 L547.3 301.8 L545 302.6 L542.8 303.8 L540.5 305.4 L538.3 307.2 L536 309.4 L533.7 311.6 L531.5 313.9 L529.2 316.2 L527 318.4 L524.7 320.5 L522.5 322.6 L520.2 324.6 L517.9 326.6 L515.7 328.8 L513.4 331.2 L511.2 334 L508.9 337.1 L506.7 340.8 L504.4 344.9 L502.2 349.5 L499.9 354.7 L497.6 360.4 L495.4 366.5 L493.1 373 L490.9 379.8 L488.6 386.8 L486.4 393.9 L484.1 400.9 L481.8 407.9 L479.6 414.7 L477.3 421.2 L475.1 427.3 L472.8 433 L470.6 438.4 L468.3 443.3 L466 447.8 L463.8 451.9 L461.5 455.6 L459.3 458.9 L457 461.9 L454.8 464.6 L452.5 467 L450.2 469.1 L448 471 L445.7 472.7 L443.5 474.1 L441.2 475.5 L439 476.6 L436.7 477.6 L434.4 478.6 L432.2 479.4 L429.9 480.1 L427.7 480.7 L425.4 481.2 L423.2 481.7 L420.9 482.2 L418.7 482.5 L416.4 482.9 L414.1 483.2 L411.9 483.4 L409.6 483.6" fill="none" stroke="#ff5050" stroke-width="0.9"/>
<path d="M619.1 476.4h3.2v3.2h-3.2zM615.7 475.6h3.2v3.2h-3.2zM612.3 476.3h3.2v3.2h-3.2zM608.9 474.5h3.2v3.2h-3.2zM605.5 474.9h3.2v3.2h-3.2zM602.1 474.3h3.2v3.2h-3.2zM598.7 471.4h3.2v3.2h-3.2zM595.3 470.3h3.2v3.2h-3.2zM591.9 467.4h3.2v3.2h-3.2zM588.5 466.2h3.2v3.2h-3.2zM585.1 462.4h3.2v3.2h-3.2zM581.7 459.1h3.2v3.2h-3.2zM578.3 455.3h3.2v3.2h-3.2zM574.9 451.3h3.2v3.2h-3.2zM571.5 446.2h3.2v3.2h-3.2zM568 441.5h3.2v3.2h-3.2zM564.6 436.2h3.2v3.2h-3.2zM561.2 431.3h3.2v3.2h-3.2zM557.8 425.4h3.2v3.2h-3.2zM554.4 420.6h3.2v3.2h-3.2zM551 414.2h3.2v3.2h-3.2zM547.6 409.6h3.2v3.2h-3.2zM544.2 405.4h3.2v3.2h-3.2zM540.8 399.2h3.2v3.2h-3.2zM537.4 393.4h3.2v3.2h-3.2zM534 389.2h3.2v3.2h-3.2zM530.6 383.8h3.2v3.2h-3.2zM527.2 378.8h3.2v3.2h-3.2zM523.8 374.7h3.2v3.2h-3.2zM520.4 371h3.2v3.2h-3.2zM517 366.3h3.2v3.2h-3.2zM513.6 361.6h3.2v3.2h-3.2zM510.2 356.8h3.2v3.2h-3.2zM506.8 352.3h3.2v3.2h-3.2zM503.4 349.2h3.2v3.2h-3.2zM500 344.5h3.2v3.2h-3.2zM496.5 340h3.2v3.2h-3.2zM493.1 335.8h3.2v3.2h-3.2zM489.7 333h3.2v3.2h-3.2zM486.3 332h3.2v3.2h-3.2zM482.9 327.7h3.2v3.2h-3.2zM479.5 326.2h3.2v3.2h-3.2zM476.1 324.7h3.2v3.2h-3.2zM472.7 323.1h3.2v3.2h-3.2zM469.3 322h3.2v3.2h-3.2zM465.9 320.6h3.2v3.2h-3.2zM462.5 320.1h3.2v3.2h-3.2zM459.1 321h3.2v3.2h-3.2zM455.7 319.3h3.2v3.2h-3.2zM452.3 319.8h3.2v3.2h-3.2zM448.9 318.3h3.2v3.2h-3.2zM445.5 318.8h3.2v3.2h-3.2zM442.1 319h3.2v3.2h-3.2zM438.7 319.2h3.2v3.2h-3.2zM435.3 318h3.2v3.2h-3.2zM431.9 318.8h3.2v3.2h-3.2zM428.5 318.7h3.2v3.2h-3.2zM425 318.1h3.2v3.2h-3.2zM421.6 318.6h3.2v3.2h-3.2zM418.2 317.9h3.2v3.2h-3.2zM414.8 317.9h3.2v3.2h-3.2zM411.4 318.3h3.2v3.2h-3.2zM408 316.9h3.2v3.2h-3.2z" fill="#ff0000"/>
<path d="M619.1 459.7h3.2v3.2h-3.2zM615.7 454h3.2v3.2h-3.2zM612.3 447.8h3.2v3.2h-3.2zM608.9 441.9h3.2v3.2h-3.2zM605.5 435h3.2v3.2h-3.2zM602.1 424.9h3.2v3.2h-3.2zM598.7 416.3h3.2v3.2h-3.2zM595.3 403h3.2v3.2h-3.2zM591.9 391h3.2v3.2h-3.2zM588.5 381.4h3.2v3.2h-3.2zM585.1 368.1h3.2v3.2h-3.2zM581.7 356.7h3.2v3.2h-3.2zM578.3 344.1h3.2v3.2h-3.2zM574.9 335.5h3.2v3.2h-3.2zM571.5 326.2h3.2v3.2h-3.2zM568 319.1h3.2v3.2h-3.2zM564.6 312.3h3.2v3.2h-3.2zM561.2 308.5h3.2v3.2h-3.2zM557.8 303.2h3.2v3.2h-3.2zM554.4 300.5h3.2v3.2h-3.2zM551 298.7h3.2v3.2h-3.2zM547.6 300.9h3.2v3.2h-3.2zM544.2 300h3.2v3.2h-3.2zM540.8 301.5h3.2v3.2h-3.2zM537.4 304.2h3.2v3.2h-3.2zM534 307.7h3.2v3.2h-3.2zM530.6 310.4h3.2v3.2h-3.2zM527.2 314.8h3.2v3.2h-3.2zM523.8 317.7h3.2v3.2h-3.2zM520.4 320.9h3.2v3.2h-3.2zM517 323.6h3.2v3.2h-3.2zM513.6 327.8h3.2v3.2h-3.2zM510.2 331.2h3.2v3.2h-3.2zM506.8 336.5h3.2v3.2h-3.2zM503.4 342.4h3.2v3.2h-3.2zM500 349.5h3.2v3.2h-3.2zM496.5 355.5h3.2v3.2h-3.2zM493.1 366.2h3.2v3.2h-3.2zM489.7 376h3.2v3.2h-3.2zM486.3 388h3.2v3.2h-3.2zM482.9 396.6h3.2v3.2h-3.2zM479.5 407.8h3.2v3.2h-3.2zM476.1 418.2h3.2v3.2h-3.2zM472.7 427.4h3.2v3.2h-3.2zM469.3 436.9h3.2v3.2h-3.2zM465.9 442.9h3.2v3.2h-3.2zM462.5 450.6h3.2v3.2h-3.2zM459.1 453.9h3.2v3.2h-3.2zM455.7 458.3h3.2v3.2h-3.2zM452.3 465h3.2v3.2h-3.2zM448.9 467.7h3.2v3.2h-3.2zM445.5 470.5h3.2v3.2h-3.2zM442.1 472.5h3.2v3.2h-3.2zM438.7 474.8h3.2v3.2h-3.2zM435.3 474.9h3.2v3.2h-3.2zM431.9 478.2h3.2v3.2h-3.2zM428.5 478h3.2v3.2h-3.2zM425 480.2h3.2v3.2h-3.2zM421.6 480.2h3.2v3.2h-3.2zM418.2 479h3.2v3.2h-3.2zM414.8 480.1h3.2v3.2h-3.2zM411.4 482.7h3.2v3.2h-3.2zM408 481.9h3.2v3.2h-3.2z" fill="#ff0000"/>
</g>
<g clip-path="url(#cnb)">
<path d="M45 499.1 L45 499.1 L45 499.1 L45 499.1 L45 499.1 L45 499 L45 499 L45 499 L45 499 L45 499 L45 499 L45 499 L45 499 L45 499 L45 499 L45 498.9 L45 498.9 L45.1 498.9 L45.1 498.9 L45.1 498.9 L45.1 498.8 L45.1 498.8 L45.1 498.8 L45.2 498.7 L45.2 498.7 L45.2 498.6 L45.3 498.6 L45.3 498.5 L45.3 498.4 L45.4 498.4 L45.4 498.3 L45.5 498.2 L45.6 498.1 L45.6 498 L45.7 497.8 L45.8 497.7 L45.9 497.5 L46 497.3 L46.1 497.1 L46.3 496.9 L46.4 496.6 L46.6 496.4 L46.8 496 L47.1 495.7 L47.3 495.3 L47.6 494.9 L47.9 494.4 L48.3 493.8 L48.7 493.3 L49.2 492.6 L49.7 491.9 L50.3 491.1 L50.9 490.2 L51.7 489.2 L52.5 488.1 L53.5 487 L54.6 485.7 L55.9 484.3 L57.3 482.8 L58.9 481.1 L60.7 479.3 L62.7 477.4 L65.1 475.3 L67.7 473.2 L70.7 470.9 L74 468.5 L77.8 466 L81.9 463.5 L86.6 461 L91.7 458.5 L97.3 456.1 L103.4 453.9 L110 451.8 L116.9 450 L124.3 448.5 L132 447.4 L139.8 446.8 L147.8 446.5 L155.8 446.7 L163.7 447.4 L171.3 448.4 L178.7 449.9 L185.7 451.6 L192.3 453.7 L198.4 455.9 L204.1 458.3 L209.2 460.8 L213.9 463.3 L218.1 465.8 L221.9 468.3 L225.3 470.7 L228.3 473 L230.9 475.2 L233.3 477.2 L235.4 479.2 L237.2 481 L238.8 482.6 L240.2 484.2 L241.5 485.6 L242.6 486.9 L243.6 488.1 L244.4 489.1 L245.2 490.1 L245.9 491 L246.5 491.8 L247 492.5" fill="none" stroke="#50ff50" stroke-width="0.9"/>
<path d="M43.2 497.5h3.2v3.2h-3.2zM43.2 497h3.2v3.2h-3.2zM43.5 497.4h3.2v3.2h-3.2zM44.4 497.3h3.2v3.2h-3.2zM44.6 498.3h3.2v3.2h-3.2zM44.6 497.8h3.2v3.2h-3.2zM43.7 497.2h3.2v3.2h-3.2zM43.5 496.6h3.2v3.2h-3.2zM43.6 496.5h3.2v3.2h-3.2zM44.8 497.1h3.2v3.2h-3.2zM43.6 495.5h3.2v3.2h-3.2zM44 496.2h3.2v3.2h-3.2zM43.5 495.5h3.2v3.2h-3.2zM43 496.2h3.2v3.2h-3.2zM44.5 497.1h3.2v3.2h-3.2zM44.8 495h3.2v3.2h-3.2zM46 494.6h3.2v3.2h-3.2zM45.7 493.6h3.2v3.2h-3.2zM45.8 494h3.2v3.2h-3.2zM47.4 493.1h3.2v3.2h-3.2zM47.4 490.9h3.2v3.2h-3.2zM48.2 490h3.2v3.2h-3.2zM49.2 488.1h3.2v3.2h-3.2zM52.3 486.5h3.2v3.2h-3.2zM53.2 483.9h3.2v3.2h-3.2zM56 479.9h3.2v3.2h-3.2zM58.9 477.8h3.2v3.2h-3.2zM64.9 473h3.2v3.2h-3.2zM68.8 469h3.2v3.2h-3.2zM77.3 465.2h3.2v3.2h-3.2zM83.6 458.9h3.2v3.2h-3.2zM93.2 456.1h3.2v3.2h-3.2zM106.1 451h3.2v3.2h-3.2zM117.5 447.5h3.2v3.2h-3.2zM130.9 446.2h3.2v3.2h-3.2zM146.2 445.6h3.2v3.2h-3.2zM160.6 445h3.2v3.2h-3.2zM175.9 447.5h3.2v3.2h-3.2zM189 451.4h3.2v3.2h-3.2zM199.2 456h3.2v3.2h-3.2zM210 459h3.2v3.2h-3.2zM218.6 465.2h3.2v3.2h-3.2zM224.8 467.5h3.2v3.2h-3.2zM228.5 473.2h3.2v3.2h-3.2zM234.5 475.8h3.2v3.2h-3.2zM235.9 478.5h3.2v3.2h-3.2zM239.1 483.7h3.2v3.2h-3.2zM239.7 485.2h3.2v3.2h-3.2zM243.6 489.4h3.2v3.2h-3.2zM245 489.2h3.2v3.2h-3.2zM244.2 490h3.2v3.2h-3.2z" fill="#00ee00"/>
</g><g clip-path="url(#cbb)">
<path d="M624 478.6 L621.8 478.4 L619.5 478.2 L617.2 477.9 L615 477.5 L612.7 477.1 L610.5 476.6 L608.2 476 L606 475.3 L603.7 474.5 L601.4 473.5 L599.2 472.4 L596.9 471.1 L594.7 469.6 L592.4 467.9 L590.2 466 L587.9 464 L585.7 461.7 L583.4 459.2 L581.1 456.6 L578.9 453.8 L576.6 450.9 L574.4 447.8 L572.1 444.7 L569.9 441.4 L567.6 438.1 L565.3 434.6 L563.1 431.2 L560.8 427.7 L558.6 424.2 L556.3 420.6 L554.1 417 L551.8 413.5 L549.5 409.9 L547.3 406.4 L545 402.8 L542.8 399.4 L540.5 395.9 L538.3 392.6 L536 389.3 L533.7 386.1 L531.5 383 L529.2 379.9 L527 376.9 L524.7 374 L522.5 371.1 L520.2 368.2 L517.9 365.3 L515.7 362.4 L513.4 359.5 L511.2 356.6 L508.9 353.7 L506.7 350.8 L504.4 348 L502.2 345.2 L499.9 342.5 L497.6 339.9 L495.4 337.4 L493.1 335 L490.9 332.8 L488.6 330.7 L486.4 328.9 L484.1 327.1 L481.8 325.6 L479.6 324.2 L477.3 323 L475.1 321.9 L472.8 321 L470.6 320.2 L468.3 319.5 L466 318.9 L463.8 318.4 L461.5 318 L459.3 317.6 L457 317.3 L454.8 317 L452.5 316.8 L450.2 316.6 L448 316.5 L445.7 316.3 L443.5 316.2 L441.2 316.1 L439 316 L436.7 315.9 L434.4 315.9 L432.2 315.8 L429.9 315.8 L427.7 315.7 L425.4 315.7 L423.2 315.7 L420.9 315.6 L418.7 315.6 L416.4 315.6 L414.1 315.6 L411.9 315.5 L409.6 315.5" fill="none" stroke="#50ff50" stroke-width="0.9"/>
<path d="M624 463.4 L621.8 460.5 L619.5 457.3 L617.2 453.6 L615 449.6 L612.7 445.2 L610.5 440.2 L608.2 434.8 L606 429 L603.7 422.6 L601.4 415.8 L599.2 408.6 L596.9 401.1 L594.7 393.3 L592.4 385.3 L590.2 377.3 L587.9 369.3 L585.7 361.6 L583.4 354.1 L581.1 347 L578.9 340.3 L576.6 334.2 L574.4 328.5 L572.1 323.4 L569.9 318.9 L567.6 314.9 L565.3 311.5 L563.1 308.6 L560.8 306.2 L558.6 304.3 L556.3 302.9 L554.1 302 L551.8 301.6 L549.5 301.6 L547.3 302 L545 302.9 L542.8 304.2 L540.5 305.9 L538.3 307.8 L536 310 L533.7 312.3 L531.5 314.7 L529.2 317.1 L527 319.4 L524.7 321.5 L522.5 323.5 L520.2 325.4 L517.9 327.3 L515.7 329.2 L513.4 331.3 L511.2 333.6 L508.9 336.2 L506.7 339.3 L504.4 342.8 L502.2 346.8 L499.9 351.3 L497.6 356.3 L495.4 361.8 L493.1 367.7 L490.9 374 L488.6 380.6 L486.4 387.4 L484.1 394.3 L481.8 401.2 L479.6 408 L477.3 414.6 L475.1 420.9 L472.8 426.9 L470.6 432.6 L468.3 437.9 L466 442.8 L463.8 447.2 L461.5 451.3 L459.3 455 L457 458.3 L454.8 461.3 L452.5 464 L450.2 466.5 L448 468.6 L445.7 470.5 L443.5 472.2 L441.2 473.7 L439 475.1 L436.7 476.3 L434.4 477.3 L432.2 478.3 L429.9 479.1 L427.7 479.8 L425.4 480.5 L423.2 481 L420.9 481.5 L418.7 482 L416.4 482.4 L414.1 482.7 L411.9 483 L409.6 483.3" fill="none" stroke="#50ff50" stroke-width="0.9"/>
<path d="M619.1 476.4h3.2v3.2h-3.2zM615.7 476.3h3.2v3.2h-3.2zM612.3 475.7h3.2v3.2h-3.2zM608.9 475.8h3.2v3.2h-3.2zM605.5 474.2h3.2v3.2h-3.2zM602.1 472.3h3.2v3.2h-3.2zM598.7 472.1h3.2v3.2h-3.2zM595.3 469.9h3.2v3.2h-3.2zM591.9 467.2h3.2v3.2h-3.2zM588.5 464h3.2v3.2h-3.2zM585.1 460.2h3.2v3.2h-3.2zM581.7 457h3.2v3.2h-3.2zM578.3 453.9h3.2v3.2h-3.2zM574.9 448.7h3.2v3.2h-3.2zM571.5 443.7h3.2v3.2h-3.2zM568 439.6h3.2v3.2h-3.2zM564.6 434.5h3.2v3.2h-3.2zM561.2 429.5h3.2v3.2h-3.2zM557.8 424.2h3.2v3.2h-3.2zM554.4 419.3h3.2v3.2h-3.2zM551 412.7h3.2v3.2h-3.2zM547.6 408.3h3.2v3.2h-3.2zM544.2 402h3.2v3.2h-3.2zM540.8 397.6h3.2v3.2h-3.2zM537.4 392.2h3.2v3.2h-3.2zM534 387.3h3.2v3.2h-3.2zM530.6 382.8h3.2v3.2h-3.2zM527.2 377.7h3.2v3.2h-3.2zM523.8 373.8h3.2v3.2h-3.2zM520.4 369.3h3.2v3.2h-3.2zM517 364.6h3.2v3.2h-3.2zM513.6 359.8h3.2v3.2h-3.2zM510.2 355.4h3.2v3.2h-3.2zM506.8 351.1h3.2v3.2h-3.2zM503.4 347h3.2v3.2h-3.2zM500 342.9h3.2v3.2h-3.2zM496.5 340.4h3.2v3.2h-3.2zM493.1 335.4h3.2v3.2h-3.2zM489.7 332h3.2v3.2h-3.2zM486.3 328.1h3.2v3.2h-3.2zM482.9 325.5h3.2v3.2h-3.2zM479.5 323.4h3.2v3.2h-3.2zM476.1 321.7h3.2v3.2h-3.2zM472.7 319.5h3.2v3.2h-3.2zM469.3 319.5h3.2v3.2h-3.2zM465.9 317.4h3.2v3.2h-3.2zM462.5 317.4h3.2v3.2h-3.2zM459.1 315.1h3.2v3.2h-3.2zM455.7 315.7h3.2v3.2h-3.2zM452.3 315.5h3.2v3.2h-3.2zM448.9 315.1h3.2v3.2h-3.2zM445.5 315.1h3.2v3.2h-3.2zM442.1 314.8h3.2v3.2h-3.2zM438.7 314.5h3.2v3.2h-3.2zM435.3 313.4h3.2v3.2h-3.2zM431.9 313.9h3.2v3.2h-3.2zM428.5 313h3.2v3.2h-3.2zM425 314.4h3.2v3.2h-3.2zM421.6 314.2h3.2v3.2h-3.2zM418.2 313.9h3.2v3.2h-3.2zM414.8 313.6h3.2v3.2h-3.2zM411.4 313.7h3.2v3.2h-3.2zM408 314.9h3.2v3.2h-3.2z" fill="#00ee00"/>
<path d="M619.1 459h3.2v3.2h-3.2zM615.7 452.1h3.2v3.2h-3.2zM612.3 447.1h3.2v3.2h-3.2zM608.9 437.3h3.2v3.2h-3.2zM605.5 428.6h3.2v3.2h-3.2zM602.1 420.5h3.2v3.2h-3.2zM598.7 409.8h3.2v3.2h-3.2zM595.3 398.8h3.2v3.2h-3.2zM591.9 387.6h3.2v3.2h-3.2zM588.5 378.1h3.2v3.2h-3.2zM585.1 362.9h3.2v3.2h-3.2zM581.7 352.1h3.2v3.2h-3.2zM578.3 341.8h3.2v3.2h-3.2zM574.9 332.1h3.2v3.2h-3.2zM571.5 324.7h3.2v3.2h-3.2zM568 318.5h3.2v3.2h-3.2zM564.6 310.1h3.2v3.2h-3.2zM561.2 306.9h3.2v3.2h-3.2zM557.8 303.2h3.2v3.2h-3.2zM554.4 301.5h3.2v3.2h-3.2zM551 298.7h3.2v3.2h-3.2zM547.6 298.4h3.2v3.2h-3.2zM544.2 298.9h3.2v3.2h-3.2zM540.8 303.3h3.2v3.2h-3.2zM537.4 305.7h3.2v3.2h-3.2zM534 308.9h3.2v3.2h-3.2zM530.6 310.3h3.2v3.2h-3.2zM527.2 315.6h3.2v3.2h-3.2zM523.8 318.6h3.2v3.2h-3.2zM520.4 321.1h3.2v3.2h-3.2zM517 324.4h3.2v3.2h-3.2zM513.6 328.7h3.2v3.2h-3.2zM510.2 331.8h3.2v3.2h-3.2zM506.8 335.3h3.2v3.2h-3.2zM503.4 340.7h3.2v3.2h-3.2zM500 345.8h3.2v3.2h-3.2zM496.5 353.6h3.2v3.2h-3.2zM493.1 361.9h3.2v3.2h-3.2zM489.7 371.6h3.2v3.2h-3.2zM486.3 381h3.2v3.2h-3.2zM482.9 391.2h3.2v3.2h-3.2zM479.5 401.6h3.2v3.2h-3.2zM476.1 411.3h3.2v3.2h-3.2zM472.7 423.4h3.2v3.2h-3.2zM469.3 430.6h3.2v3.2h-3.2zM465.9 438.4h3.2v3.2h-3.2zM462.5 447.1h3.2v3.2h-3.2zM459.1 452.4h3.2v3.2h-3.2zM455.7 454.9h3.2v3.2h-3.2zM452.3 461.4h3.2v3.2h-3.2zM448.9 465.4h3.2v3.2h-3.2zM445.5 469.5h3.2v3.2h-3.2zM442.1 471.7h3.2v3.2h-3.2zM438.7 473.4h3.2v3.2h-3.2zM435.3 473.5h3.2v3.2h-3.2zM431.9 475.4h3.2v3.2h-3.2zM428.5 477.7h3.2v3.2h-3.2zM425 479h3.2v3.2h-3.2zM421.6 478.5h3.2v3.2h-3.2zM418.2 479.8h3.2v3.2h-3.2zM414.8 480.4h3.2v3.2h-3.2zM411.4 481.3h3.2v3.2h-3.2zM408 482h3.2v3.2h-3.2z" fill="#00ee00"/>
</g>
<g clip-path="url(#cnb)">
<path d="M45 499.1 L45 499.1 L45 499.1 L45 499.1 L45 499.1 L45 499.1 L45 499.1 L45 499.1 L45 499.1 L45 499.1 L45 499.1 L45 499.1 L45 499 L45 499 L45 499 L45 499 L45 499 L45 499 L45 499 L45 499 L45 499 L45 499 L45 498.9 L45 498.9 L45.1 498.9 L45.1 498.9 L45.1 498.8 L45.1 498.8 L45.1 498.8 L45.1 498.7 L45.2 498.7 L45.2 498.7 L45.2 498.6 L45.2 498.5 L45.3 498.5 L45.3 498.4 L45.4 498.3 L45.4 498.2 L45.5 498.1 L45.5 498 L45.6 497.9 L45.7 497.7 L45.8 497.6 L45.9 497.4 L46 497.2 L46.1 497 L46.3 496.7 L46.5 496.4 L46.6 496.1 L46.9 495.7 L47.1 495.3 L47.4 494.9 L47.7 494.4 L48 493.9 L48.4 493.2 L48.8 492.6 L49.3 491.8 L49.9 491 L50.5 490 L51.3 489 L52.1 487.9 L53.1 486.6 L54.1 485.2 L55.4 483.7 L56.8 482.1 L58.4 480.3 L60.2 478.3 L62.3 476.2 L64.7 473.9 L67.4 471.5 L70.5 468.9 L74 466.2 L78 463.4 L82.4 460.6 L87.4 457.7 L93 454.8 L99.1 452 L105.8 449.3 L113.1 446.9 L120.8 444.8 L129.1 443 L137.7 441.7 L146.5 440.9 L155.5 440.6 L164.5 440.9 L173.3 441.7 L181.9 443 L190.2 444.7 L198 446.8 L205.3 449.2 L212 451.8 L218.2 454.6 L223.8 457.5 L228.8 460.4 L233.3 463.3 L237.3 466.1 L240.8 468.8 L243.9 471.4 L246.6 473.8 L249 476.1 L251.2 478.2 L253 480.2 L254.6 482 L256 483.6 L257.3 485.2 L258.4 486.5" fill="none" stroke="#6060ff" stroke-width="0.9"/>
<path d="M43.2 496.7h3.2v3.2h-3.2zM44.1 498.4h3.2v3.2h-3.2zM43.3 498h3.2v3.2h-3.2zM43.7 497.8h3.2v3.2h-3.2zM43.7 496.9h3.2v3.2h-3.2zM43.8 498h3.2v3.2h-3.2zM42.9 498.5h3.2v3.2h-3.2zM44.7 498.4h3.2v3.2h-3.2zM44.7 497.7h3.2v3.2h-3.2zM43.3 496.8h3.2v3.2h-3.2zM43.1 497.1h3.2v3.2h-3.2zM43.6 497.4h3.2v3.2h-3.2zM42.5 498.2h3.2v3.2h-3.2zM45.1 496.7h3.2v3.2h-3.2zM44.3 496.8h3.2v3.2h-3.2zM44.2 496.2h3.2v3.2h-3.2zM44.1 495.5h3.2v3.2h-3.2zM44.5 495.7h3.2v3.2h-3.2zM44.8 494.7h3.2v3.2h-3.2zM44.9 494.7h3.2v3.2h-3.2zM45.7 493.4h3.2v3.2h-3.2zM46 493.9h3.2v3.2h-3.2zM46.7 492.1h3.2v3.2h-3.2zM46.8 491h3.2v3.2h-3.2zM48.5 490.6h3.2v3.2h-3.2zM49.2 487.6h3.2v3.2h-3.2zM51 486h3.2v3.2h-3.2zM52.2 482.9h3.2v3.2h-3.2zM55.2 480.8h3.2v3.2h-3.2zM57.7 476.3h3.2v3.2h-3.2zM62.8 472.1h3.2v3.2h-3.2zM67.8 468.5h3.2v3.2h-3.2zM74.3 462.6h3.2v3.2h-3.2zM82.5 457.7h3.2v3.2h-3.2zM92.9 452h3.2v3.2h-3.2zM105.4 446.5h3.2v3.2h-3.2zM118.7 443.3h3.2v3.2h-3.2zM134.9 440h3.2v3.2h-3.2zM151.2 438.7h3.2v3.2h-3.2zM168 440.7h3.2v3.2h-3.2zM183.3 442.2h3.2v3.2h-3.2zM197.7 446.3h3.2v3.2h-3.2zM212.3 450.6h3.2v3.2h-3.2zM220.9 456.2h3.2v3.2h-3.2zM232.1 462.3h3.2v3.2h-3.2zM239 464.5h3.2v3.2h-3.2zM243.2 472.5h3.2v3.2h-3.2zM247.1 476.5h3.2v3.2h-3.2zM253.8 479.8h3.2v3.2h-3.2zM255.7 481.9h3.2v3.2h-3.2zM255.5 484.8h3.2v3.2h-3.2z" fill="#0000ff"/>
</g><g clip-path="url(#cbb)">
<path d="M624 478.5 L621.8 478.3 L619.5 478.1 L617.2 477.8 L615 477.4 L612.7 477 L610.5 476.5 L608.2 475.9 L606 475.2 L603.7 474.4 L601.4 473.4 L599.2 472.3 L596.9 471.1 L594.7 469.6 L592.4 468 L590.2 466.2 L587.9 464.2 L585.7 462 L583.4 459.6 L581.1 457.1 L578.9 454.4 L576.6 451.5 L574.4 448.6 L572.1 445.5 L569.9 442.3 L567.6 439 L565.3 435.7 L563.1 432.3 L560.8 428.9 L558.6 425.4 L556.3 421.9 L554.1 418.4 L551.8 414.9 L549.5 411.3 L547.3 407.8 L545 404.4 L542.8 400.9 L540.5 397.5 L538.3 394.2 L536 390.9 L533.7 387.8 L531.5 384.7 L529.2 381.7 L527 378.7 L524.7 375.9 L522.5 373 L520.2 370.2 L517.9 367.4 L515.7 364.6 L513.4 361.8 L511.2 359 L508.9 356.2 L506.7 353.3 L504.4 350.6 L502.2 347.8 L499.9 345.1 L497.6 342.5 L495.4 339.9 L493.1 337.5 L490.9 335.1 L488.6 332.9 L486.4 330.9 L484.1 329 L481.8 327.3 L479.6 325.8 L477.3 324.4 L475.1 323.1 L472.8 322 L470.6 321.1 L468.3 320.2 L466 319.5 L463.8 318.9 L461.5 318.4 L459.3 317.9 L457 317.5 L454.8 317.2 L452.5 316.9 L450.2 316.7 L448 316.5 L445.7 316.3 L443.5 316.1 L441.2 316 L439 315.9 L436.7 315.8 L434.4 315.7 L432.2 315.6 L429.9 315.5 L427.7 315.5 L425.4 315.4 L423.2 315.4 L420.9 315.4 L418.7 315.3 L416.4 315.3 L414.1 315.3 L411.9 315.3 L409.6 315.2" fill="none" stroke="#6060ff" stroke-width="0.9"/>
<path d="M624 463.5 L621.8 460.7 L619.5 457.5 L617.2 454 L615 450.1 L612.7 445.8 L610.5 441 L608.2 435.8 L606 430.1 L603.7 424 L601.4 417.5 L599.2 410.5 L596.9 403.3 L594.7 395.7 L592.4 388 L590.2 380.3 L587.9 372.5 L585.7 364.9 L583.4 357.6 L581.1 350.6 L578.9 344 L576.6 337.9 L574.4 332.2 L572.1 327.1 L569.9 322.5 L567.6 318.5 L565.3 314.9 L563.1 311.9 L560.8 309.4 L558.6 307.4 L556.3 305.9 L554.1 304.9 L551.8 304.3 L549.5 304.2 L547.3 304.6 L545 305.3 L542.8 306.6 L540.5 308.1 L538.3 310.1 L536 312.3 L533.7 314.7 L531.5 317.2 L529.2 319.7 L527 322 L524.7 324.3 L522.5 326.4 L520.2 328.3 L517.9 330 L515.7 331.7 L513.4 333.5 L511.2 335.4 L508.9 337.6 L506.7 340 L504.4 342.9 L502.2 346.2 L499.9 350 L497.6 354.2 L495.4 358.9 L493.1 364.1 L490.9 369.7 L488.6 375.7 L486.4 381.9 L484.1 388.4 L481.8 394.9 L479.6 401.5 L477.3 408 L475.1 414.4 L472.8 420.5 L470.6 426.4 L468.3 431.9 L466 437.1 L463.8 441.9 L461.5 446.3 L459.3 450.4 L457 454.1 L454.8 457.4 L452.5 460.4 L450.2 463.2 L448 465.6 L445.7 467.8 L443.5 469.8 L441.2 471.5 L439 473.1 L436.7 474.5 L434.4 475.7 L432.2 476.8 L429.9 477.8 L427.7 478.7 L425.4 479.4 L423.2 480.1 L420.9 480.7 L418.7 481.2 L416.4 481.7 L414.1 482.1 L411.9 482.5 L409.6 482.8" fill="none" stroke="#6060ff" stroke-width="0.9"/>
<path d="M619.1 476.5h3.2v3.2h-3.2zM615.7 476.1h3.2v3.2h-3.2zM612.3 476h3.2v3.2h-3.2zM608.9 474.8h3.2v3.2h-3.2zM605.5 474h3.2v3.2h-3.2zM602.1 473h3.2v3.2h-3.2zM598.7 471.3h3.2v3.2h-3.2zM595.3 470.4h3.2v3.2h-3.2zM591.9 467.4h3.2v3.2h-3.2zM588.5 464.6h3.2v3.2h-3.2zM585.1 461.3h3.2v3.2h-3.2zM581.7 457.6h3.2v3.2h-3.2zM578.3 454.7h3.2v3.2h-3.2zM574.9 449.8h3.2v3.2h-3.2zM571.5 444.6h3.2v3.2h-3.2zM568 440.1h3.2v3.2h-3.2zM564.6 435.4h3.2v3.2h-3.2zM561.2 430.1h3.2v3.2h-3.2zM557.8 425.7h3.2v3.2h-3.2zM554.4 419.3h3.2v3.2h-3.2zM551 414.8h3.2v3.2h-3.2zM547.6 409.3h3.2v3.2h-3.2zM544.2 403.4h3.2v3.2h-3.2zM540.8 398.8h3.2v3.2h-3.2zM537.4 393.6h3.2v3.2h-3.2zM534 389h3.2v3.2h-3.2zM530.6 383.8h3.2v3.2h-3.2zM527.2 379.6h3.2v3.2h-3.2zM523.8 374.3h3.2v3.2h-3.2zM520.4 370.3h3.2v3.2h-3.2zM517 367h3.2v3.2h-3.2zM513.6 362.9h3.2v3.2h-3.2zM510.2 358.1h3.2v3.2h-3.2zM506.8 353.6h3.2v3.2h-3.2zM503.4 350.2h3.2v3.2h-3.2zM500 344.4h3.2v3.2h-3.2zM496.5 341h3.2v3.2h-3.2zM493.1 337.9h3.2v3.2h-3.2zM489.7 334.3h3.2v3.2h-3.2zM486.3 330.2h3.2v3.2h-3.2zM482.9 326.8h3.2v3.2h-3.2zM479.5 325.9h3.2v3.2h-3.2zM476.1 323.1h3.2v3.2h-3.2zM472.7 320.7h3.2v3.2h-3.2zM469.3 319.6h3.2v3.2h-3.2zM465.9 318.8h3.2v3.2h-3.2zM462.5 316.1h3.2v3.2h-3.2zM459.1 317.2h3.2v3.2h-3.2zM455.7 316.3h3.2v3.2h-3.2zM452.3 314.4h3.2v3.2h-3.2zM448.9 315.5h3.2v3.2h-3.2zM445.5 313.9h3.2v3.2h-3.2zM442.1 315.1h3.2v3.2h-3.2zM438.7 314.5h3.2v3.2h-3.2zM435.3 315.3h3.2v3.2h-3.2zM431.9 313.7h3.2v3.2h-3.2zM428.5 314h3.2v3.2h-3.2zM425 314.4h3.2v3.2h-3.2zM421.6 313.5h3.2v3.2h-3.2zM418.2 313.4h3.2v3.2h-3.2zM414.8 313.5h3.2v3.2h-3.2zM411.4 313.6h3.2v3.2h-3.2zM408 313.1h3.2v3.2h-3.2z" fill="#0000ff"/>
<path d="M619.1 458.1h3.2v3.2h-3.2zM615.7 453h3.2v3.2h-3.2zM612.3 446.5h3.2v3.2h-3.2zM608.9 441h3.2v3.2h-3.2zM605.5 431.2h3.2v3.2h-3.2zM602.1 423.6h3.2v3.2h-3.2zM598.7 411.9h3.2v3.2h-3.2zM595.3 402.2h3.2v3.2h-3.2zM591.9 388.3h3.2v3.2h-3.2zM588.5 378.5h3.2v3.2h-3.2zM585.1 366.6h3.2v3.2h-3.2zM581.7 355.2h3.2v3.2h-3.2zM578.3 344.7h3.2v3.2h-3.2zM574.9 335.5h3.2v3.2h-3.2zM571.5 326.9h3.2v3.2h-3.2zM568 318.6h3.2v3.2h-3.2zM564.6 314.1h3.2v3.2h-3.2zM561.2 309.5h3.2v3.2h-3.2zM557.8 306.1h3.2v3.2h-3.2zM554.4 303.2h3.2v3.2h-3.2zM551 302.7h3.2v3.2h-3.2zM547.6 303.3h3.2v3.2h-3.2zM544.2 303.2h3.2v3.2h-3.2zM540.8 304.7h3.2v3.2h-3.2zM537.4 309h3.2v3.2h-3.2zM534 312h3.2v3.2h-3.2zM530.6 315.6h3.2v3.2h-3.2zM527.2 319.6h3.2v3.2h-3.2zM523.8 321.8h3.2v3.2h-3.2zM520.4 325.1h3.2v3.2h-3.2zM517 328.9h3.2v3.2h-3.2zM513.6 330h3.2v3.2h-3.2zM510.2 333.2h3.2v3.2h-3.2zM506.8 336.9h3.2v3.2h-3.2zM503.4 340.9h3.2v3.2h-3.2zM500 345.3h3.2v3.2h-3.2zM496.5 352.5h3.2v3.2h-3.2zM493.1 358.6h3.2v3.2h-3.2zM489.7 367.6h3.2v3.2h-3.2zM486.3 376.9h3.2v3.2h-3.2zM482.9 386.1h3.2v3.2h-3.2zM479.5 396.1h3.2v3.2h-3.2zM476.1 404.2h3.2v3.2h-3.2zM472.7 413.7h3.2v3.2h-3.2zM469.3 423.3h3.2v3.2h-3.2zM465.9 432.6h3.2v3.2h-3.2zM462.5 441h3.2v3.2h-3.2zM459.1 445.1h3.2v3.2h-3.2zM455.7 452.3h3.2v3.2h-3.2zM452.3 456.2h3.2v3.2h-3.2zM448.9 460.6h3.2v3.2h-3.2zM445.5 464.7h3.2v3.2h-3.2zM442.1 468.6h3.2v3.2h-3.2zM438.7 470.8h3.2v3.2h-3.2zM435.3 473.9h3.2v3.2h-3.2zM431.9 473.7h3.2v3.2h-3.2zM428.5 477h3.2v3.2h-3.2zM425 478.3h3.2v3.2h-3.2zM421.6 478.5h3.2v3.2h-3.2zM418.2 479.8h3.2v3.2h-3.2zM414.8 479.6h3.2v3.2h-3.2zM411.4 479.7h3.2v3.2h-3.2zM408 480.9h3.2v3.2h-3.2z" fill="#0000ff"/>
</g>
<g clip-path="url(#cnb)">
<path d="M45 499 L45 499 L45 499 L45 499 L45 499 L45 499 L45 499 L45 499 L45 499 L45 498.9 L45.1 498.9 L45.1 498.9 L45.1 498.9 L45.1 498.9 L45.1 498.8 L45.1 498.8 L45.2 498.8 L45.2 498.7 L45.2 498.7 L45.2 498.6 L45.3 498.6 L45.3 498.5 L45.4 498.5 L45.4 498.4 L45.5 498.3 L45.5 498.2 L45.6 498.1 L45.7 498 L45.7 497.9 L45.8 497.7 L45.9 497.6 L46 497.4 L46.2 497.2 L46.3 497 L46.5 496.8 L46.6 496.5 L46.8 496.2 L47 495.9 L47.3 495.6 L47.6 495.2 L47.9 494.7 L48.2 494.2 L48.6 493.7 L49 493.1 L49.5 492.5 L50.1 491.8 L50.7 491 L51.4 490.1 L52.1 489.1 L53 488.1 L54 486.9 L55.1 485.6 L56.3 484.3 L57.7 482.7 L59.3 481.1 L61.1 479.3 L63.1 477.4 L65.3 475.4 L67.9 473.2 L70.7 470.9 L73.9 468.4 L77.5 465.8 L81.5 463.2 L86 460.5 L90.9 457.7 L96.3 455 L102.3 452.3 L108.7 449.7 L115.7 447.3 L123.2 445.1 L131.1 443.2 L139.4 441.6 L148 440.5 L156.8 439.8 L165.7 439.5 L174.6 439.8 L183.5 440.5 L192.1 441.6 L200.4 443.1 L208.3 445 L215.8 447.2 L222.8 449.6 L229.3 452.1 L235.3 454.8 L240.7 457.6 L245.7 460.3 L250.2 463.1 L254.2 465.7 L257.8 468.3 L261 470.7 L263.9 473.1 L266.4 475.3 L268.7 477.3 L270.7 479.2 L272.5 481 L274.1 482.7 L275.5 484.2 L276.8 485.6 L277.9 486.8 L278.8 488 L279.7 489.1 L280.5 490 L281.2 490.9 L281.8 491.7 L282.3 492.4 L282.8 493.1" fill="none" stroke="#ffa0ff" stroke-width="0.9"/>
<path d="M43.1 499h3.2v3.2h-3.2zM43.2 498.2h3.2v3.2h-3.2zM43.7 497.4h3.2v3.2h-3.2zM44 496.6h3.2v3.2h-3.2zM44.2 497.2h3.2v3.2h-3.2zM42.8 497.3h3.2v3.2h-3.2zM44.1 497h3.2v3.2h-3.2zM44.9 496.4h3.2v3.2h-3.2zM44.3 496.9h3.2v3.2h-3.2zM43.7 496.9h3.2v3.2h-3.2zM43.5 495.1h3.2v3.2h-3.2zM44.9 494.9h3.2v3.2h-3.2zM44.8 494.1h3.2v3.2h-3.2zM45.3 493.9h3.2v3.2h-3.2zM45.9 493h3.2v3.2h-3.2zM46.5 493h3.2v3.2h-3.2zM46.9 492.2h3.2v3.2h-3.2zM47.8 490.4h3.2v3.2h-3.2zM47.2 489.8h3.2v3.2h-3.2zM49.4 487.9h3.2v3.2h-3.2zM51.8 485.1h3.2v3.2h-3.2zM53 483.6h3.2v3.2h-3.2zM55.3 481.5h3.2v3.2h-3.2zM58.9 477.7h3.2v3.2h-3.2zM62.2 475.1h3.2v3.2h-3.2zM67.2 470.9h3.2v3.2h-3.2zM73.7 464.8h3.2v3.2h-3.2zM80.1 461.1h3.2v3.2h-3.2zM89.8 456.4h3.2v3.2h-3.2zM100.6 451.5h3.2v3.2h-3.2zM112.3 446.1h3.2v3.2h-3.2zM127 442h3.2v3.2h-3.2zM142.7 438.5h3.2v3.2h-3.2zM158.8 437.9h3.2v3.2h-3.2zM173.8 438.9h3.2v3.2h-3.2zM191.3 440.1h3.2v3.2h-3.2zM205.6 443h3.2v3.2h-3.2zM220.8 447h3.2v3.2h-3.2zM229.7 451.8h3.2v3.2h-3.2zM241.1 457.4h3.2v3.2h-3.2zM249.9 461.9h3.2v3.2h-3.2zM256.5 467.9h3.2v3.2h-3.2zM261.1 473.7h3.2v3.2h-3.2zM266.5 474.6h3.2v3.2h-3.2zM271.4 479.7h3.2v3.2h-3.2zM272.4 482.9h3.2v3.2h-3.2zM273.9 483.8h3.2v3.2h-3.2zM278.7 486.6h3.2v3.2h-3.2zM277.8 489.2h3.2v3.2h-3.2zM281.2 490.2h3.2v3.2h-3.2zM279.4 491.1h3.2v3.2h-3.2z" fill="#ff80ff"/>
</g><g clip-path="url(#cbb)">
<path d="M624 478 L621.8 477.7 L619.5 477.4 L617.2 476.9 L615 476.5 L612.7 475.9 L610.5 475.2 L608.2 474.5 L606 473.6 L603.7 472.6 L601.4 471.4 L599.2 470.1 L596.9 468.6 L594.7 466.9 L592.4 465 L590.2 463 L587.9 460.7 L585.7 458.3 L583.4 455.8 L581.1 453.1 L578.9 450.3 L576.6 447.3 L574.4 444.3 L572.1 441.1 L569.9 437.9 L567.6 434.6 L565.3 431.3 L563.1 427.9 L560.8 424.5 L558.6 421.1 L556.3 417.6 L554.1 414.1 L551.8 410.6 L549.5 407.2 L547.3 403.7 L545 400.3 L542.8 396.8 L540.5 393.5 L538.3 390.2 L536 386.9 L533.7 383.8 L531.5 380.7 L529.2 377.7 L527 374.8 L524.7 371.9 L522.5 369.1 L520.2 366.3 L517.9 363.6 L515.7 360.8 L513.4 358 L511.2 355.3 L508.9 352.5 L506.7 349.7 L504.4 347 L502.2 344.3 L499.9 341.6 L497.6 339 L495.4 336.5 L493.1 334.1 L490.9 331.8 L488.6 329.6 L486.4 327.5 L484.1 325.6 L481.8 323.9 L479.6 322.3 L477.3 320.9 L475.1 319.6 L472.8 318.4 L470.6 317.4 L468.3 316.5 L466 315.8 L463.8 315.1 L461.5 314.5 L459.3 314 L457 313.6 L454.8 313.2 L452.5 312.9 L450.2 312.6 L448 312.3 L445.7 312.1 L443.5 312 L441.2 311.8 L439 311.7 L436.7 311.6 L434.4 311.5 L432.2 311.4 L429.9 311.3 L427.7 311.2 L425.4 311.2 L423.2 311.1 L420.9 311.1 L418.7 311 L416.4 311 L414.1 311 L411.9 311 L409.6 310.9" fill="none" stroke="#ffa0ff" stroke-width="0.9"/>
<path d="M624 458.6 L621.8 455.3 L619.5 451.7 L617.2 447.6 L615 443.2 L612.7 438.3 L610.5 433 L608.2 427.3 L606 421.2 L603.7 414.7 L601.4 407.8 L599.2 400.7 L596.9 393.4 L594.7 385.9 L592.4 378.5 L590.2 371.1 L587.9 363.9 L585.7 357 L583.4 350.3 L581.1 344.1 L578.9 338.3 L576.6 333 L574.4 328.1 L572.1 323.7 L569.9 319.8 L567.6 316.4 L565.3 313.4 L563.1 310.9 L560.8 308.9 L558.6 307.3 L556.3 306.1 L554.1 305.3 L551.8 304.9 L549.5 305 L547.3 305.4 L545 306.3 L542.8 307.5 L540.5 309.1 L538.3 311 L536 313.2 L533.7 315.6 L531.5 318.1 L529.2 320.6 L527 323.1 L524.7 325.4 L522.5 327.6 L520.2 329.6 L517.9 331.5 L515.7 333.3 L513.4 335.2 L511.2 337.2 L508.9 339.3 L506.7 341.7 L504.4 344.5 L502.2 347.6 L499.9 351.2 L497.6 355.2 L495.4 359.7 L493.1 364.6 L490.9 369.8 L488.6 375.5 L486.4 381.4 L484.1 387.5 L481.8 393.8 L479.6 400.1 L477.3 406.4 L475.1 412.6 L472.8 418.6 L470.6 424.4 L468.3 429.8 L466 435 L463.8 439.8 L461.5 444.3 L459.3 448.4 L457 452.2 L454.8 455.6 L452.5 458.8 L450.2 461.6 L448 464.2 L445.7 466.5 L443.5 468.5 L441.2 470.4 L439 472 L436.7 473.5 L434.4 474.8 L432.2 476 L429.9 477.1 L427.7 478 L425.4 478.8 L423.2 479.6 L420.9 480.2 L418.7 480.8 L416.4 481.3 L414.1 481.8 L411.9 482.2 L409.6 482.5" fill="none" stroke="#ffa0ff" stroke-width="0.9"/>
<path d="M619.1 476.2h3.2v3.2h-3.2zM615.7 475.7h3.2v3.2h-3.2zM612.3 475.5h3.2v3.2h-3.2zM608.9 473.5h3.2v3.2h-3.2zM605.5 472.2h3.2v3.2h-3.2zM602.1 471h3.2v3.2h-3.2zM598.7 469.7h3.2v3.2h-3.2zM595.3 466.5h3.2v3.2h-3.2zM591.9 465h3.2v3.2h-3.2zM588.5 459.9h3.2v3.2h-3.2zM585.1 458.2h3.2v3.2h-3.2zM581.7 453.7h3.2v3.2h-3.2zM578.3 450.1h3.2v3.2h-3.2zM574.9 445.8h3.2v3.2h-3.2zM571.5 440.3h3.2v3.2h-3.2zM568 436h3.2v3.2h-3.2zM564.6 431.2h3.2v3.2h-3.2zM561.2 426.3h3.2v3.2h-3.2zM557.8 420.3h3.2v3.2h-3.2zM554.4 415.1h3.2v3.2h-3.2zM551 409.4h3.2v3.2h-3.2zM547.6 406.3h3.2v3.2h-3.2zM544.2 399.8h3.2v3.2h-3.2zM540.8 394.6h3.2v3.2h-3.2zM537.4 388.9h3.2v3.2h-3.2zM534 385.2h3.2v3.2h-3.2zM530.6 379.8h3.2v3.2h-3.2zM527.2 376.2h3.2v3.2h-3.2zM523.8 371.6h3.2v3.2h-3.2zM520.4 366.9h3.2v3.2h-3.2zM517 363.1h3.2v3.2h-3.2zM513.6 358h3.2v3.2h-3.2zM510.2 354.2h3.2v3.2h-3.2zM506.8 349.9h3.2v3.2h-3.2zM503.4 345.4h3.2v3.2h-3.2zM500 342h3.2v3.2h-3.2zM496.5 337.9h3.2v3.2h-3.2zM493.1 334.9h3.2v3.2h-3.2zM489.7 329h3.2v3.2h-3.2zM486.3 327h3.2v3.2h-3.2zM482.9 323.9h3.2v3.2h-3.2zM479.5 321.5h3.2v3.2h-3.2zM476.1 319.7h3.2v3.2h-3.2zM472.7 317.8h3.2v3.2h-3.2zM469.3 316h3.2v3.2h-3.2zM465.9 314.4h3.2v3.2h-3.2zM462.5 313.8h3.2v3.2h-3.2zM459.1 312.9h3.2v3.2h-3.2zM455.7 311.1h3.2v3.2h-3.2zM452.3 311.3h3.2v3.2h-3.2zM448.9 310.3h3.2v3.2h-3.2zM445.5 310.1h3.2v3.2h-3.2zM442.1 310.5h3.2v3.2h-3.2zM438.7 310.2h3.2v3.2h-3.2zM435.3 310h3.2v3.2h-3.2zM431.9 309.4h3.2v3.2h-3.2zM428.5 309.6h3.2v3.2h-3.2zM425 309.1h3.2v3.2h-3.2zM421.6 309.7h3.2v3.2h-3.2zM418.2 309.8h3.2v3.2h-3.2zM414.8 310.3h3.2v3.2h-3.2zM411.4 310h3.2v3.2h-3.2zM408 308.9h3.2v3.2h-3.2z" fill="#ff80ff"/>
<path d="M619.1 451.7h3.2v3.2h-3.2zM615.7 445.3h3.2v3.2h-3.2zM612.3 439.6h3.2v3.2h-3.2zM608.9 433.3h3.2v3.2h-3.2zM605.5 423.3h3.2v3.2h-3.2zM602.1 411h3.2v3.2h-3.2zM598.7 401.5h3.2v3.2h-3.2zM595.3 390.4h3.2v3.2h-3.2zM591.9 380.8h3.2v3.2h-3.2zM588.5 369.2h3.2v3.2h-3.2zM585.1 358.7h3.2v3.2h-3.2zM581.7 350h3.2v3.2h-3.2zM578.3 338.4h3.2v3.2h-3.2zM574.9 330.2h3.2v3.2h-3.2zM571.5 325.7h3.2v3.2h-3.2zM568 318.2h3.2v3.2h-3.2zM564.6 312.3h3.2v3.2h-3.2zM561.2 307.3h3.2v3.2h-3.2zM557.8 304.9h3.2v3.2h-3.2zM554.4 302.1h3.2v3.2h-3.2zM551 303.5h3.2v3.2h-3.2zM547.6 303.4h3.2v3.2h-3.2zM544.2 305.2h3.2v3.2h-3.2zM540.8 306h3.2v3.2h-3.2zM537.4 308.1h3.2v3.2h-3.2zM534 311.4h3.2v3.2h-3.2zM530.6 317.4h3.2v3.2h-3.2zM527.2 317.9h3.2v3.2h-3.2zM523.8 323.3h3.2v3.2h-3.2zM520.4 326.5h3.2v3.2h-3.2zM517 330h3.2v3.2h-3.2zM513.6 331.8h3.2v3.2h-3.2zM510.2 335.5h3.2v3.2h-3.2zM506.8 339h3.2v3.2h-3.2zM503.4 342h3.2v3.2h-3.2zM500 346.5h3.2v3.2h-3.2zM496.5 352.5h3.2v3.2h-3.2zM493.1 358.6h3.2v3.2h-3.2zM489.7 366.9h3.2v3.2h-3.2zM486.3 375.4h3.2v3.2h-3.2zM482.9 384.9h3.2v3.2h-3.2zM479.5 395.4h3.2v3.2h-3.2zM476.1 404.9h3.2v3.2h-3.2zM472.7 412.6h3.2v3.2h-3.2zM469.3 422.4h3.2v3.2h-3.2zM465.9 430.4h3.2v3.2h-3.2zM462.5 438.3h3.2v3.2h-3.2zM459.1 444.3h3.2v3.2h-3.2zM455.7 450.4h3.2v3.2h-3.2zM452.3 454.9h3.2v3.2h-3.2zM448.9 459h3.2v3.2h-3.2zM445.5 464.3h3.2v3.2h-3.2zM442.1 467.9h3.2v3.2h-3.2zM438.7 470.1h3.2v3.2h-3.2zM435.3 472.2h3.2v3.2h-3.2zM431.9 474h3.2v3.2h-3.2zM428.5 475h3.2v3.2h-3.2zM425 475.2h3.2v3.2h-3.2zM421.6 478.5h3.2v3.2h-3.2zM418.2 479.1h3.2v3.2h-3.2zM414.8 479.2h3.2v3.2h-3.2zM411.4 479.5h3.2v3.2h-3.2zM408 482.1h3.2v3.2h-3.2z" fill="#ff80ff"/>
</g>
<line x1="78.3" y1="499.1" x2="78.3" y2="496.9" stroke="#222" stroke-width="1"/>
<line x1="112.3" y1="499.1" x2="112.3" y2="495.1" stroke="#222" stroke-width="1"/>
<line x1="146.3" y1="499.1" x2="146.3" y2="496.9" stroke="#222" stroke-width="1"/>
<line x1="180.2" y1="499.1" x2="180.2" y2="495.1" stroke="#222" stroke-width="1"/>
<line x1="214.2" y1="499.1" x2="214.2" y2="496.9" stroke="#222" stroke-width="1"/>
<line x1="248.2" y1="499.1" x2="248.2" y2="495.1" stroke="#222" stroke-width="1"/>
<line x1="282.2" y1="499.1" x2="282.2" y2="496.9" stroke="#222" stroke-width="1"/>
<line x1="44.3" y1="471.8" x2="46.5" y2="471.8" stroke="#222" stroke-width="1"/>
<line x1="44.3" y1="444.5" x2="48.3" y2="444.5" stroke="#222" stroke-width="1"/>
<line x1="44.3" y1="417.2" x2="46.5" y2="417.2" stroke="#222" stroke-width="1"/>
<line x1="44.3" y1="389.9" x2="48.3" y2="389.9" stroke="#222" stroke-width="1"/>
<line x1="44.3" y1="362.6" x2="46.5" y2="362.6" stroke="#222" stroke-width="1"/>
<line x1="44.3" y1="335.3" x2="48.3" y2="335.3" stroke="#222" stroke-width="1"/>
<line x1="44.3" y1="308" x2="46.5" y2="308" stroke="#222" stroke-width="1"/>
<text x="44.3" y="511.6" font-family='"Liberation Sans", sans-serif' font-size="10.2" text-anchor="middle" font-weight="normal" fill="#000" stroke="#000" stroke-width="0.25" textLength="4.7" lengthAdjust="spacingAndGlyphs">0</text>
<text x="112.3" y="511.6" font-family='"Liberation Sans", sans-serif' font-size="10.2" text-anchor="middle" font-weight="normal" fill="#000" stroke="#000" stroke-width="0.25" textLength="14" lengthAdjust="spacingAndGlyphs">200</text>
<text x="180.2" y="511.6" font-family='"Liberation Sans", sans-serif' font-size="10.2" text-anchor="middle" font-weight="normal" fill="#000" stroke="#000" stroke-width="0.25" textLength="14" lengthAdjust="spacingAndGlyphs">400</text>
<text x="248.2" y="511.6" font-family='"Liberation Sans", sans-serif' font-size="10.2" text-anchor="middle" font-weight="normal" fill="#000" stroke="#000" stroke-width="0.25" textLength="14" lengthAdjust="spacingAndGlyphs">600</text>
<text x="316.2" y="511.6" font-family='"Liberation Sans", sans-serif' font-size="10.2" text-anchor="middle" font-weight="normal" fill="#000" stroke="#000" stroke-width="0.25" textLength="14" lengthAdjust="spacingAndGlyphs">800</text>
<text x="39" y="502.7" font-family='"Liberation Sans", sans-serif' font-size="10.2" text-anchor="end" font-weight="normal" fill="#000" stroke="#000" stroke-width="0.25" textLength="4.7" lengthAdjust="spacingAndGlyphs">0</text>
<text x="39" y="448.1" font-family='"Liberation Sans", sans-serif' font-size="10.2" text-anchor="end" font-weight="normal" fill="#000" stroke="#000" stroke-width="0.25" textLength="18" lengthAdjust="spacingAndGlyphs">−200</text>
<text x="39" y="393.5" font-family='"Liberation Sans", sans-serif' font-size="10.2" text-anchor="end" font-weight="normal" fill="#000" stroke="#000" stroke-width="0.25" textLength="18" lengthAdjust="spacingAndGlyphs">−400</text>
<text x="39" y="338.9" font-family='"Liberation Sans", sans-serif' font-size="10.2" text-anchor="end" font-weight="normal" fill="#000" stroke="#000" stroke-width="0.25" textLength="18" lengthAdjust="spacingAndGlyphs">−600</text>
<text x="39" y="284.3" font-family='"Liberation Sans", sans-serif' font-size="10.2" text-anchor="end" font-weight="normal" fill="#000" stroke="#000" stroke-width="0.25" textLength="18" lengthAdjust="spacingAndGlyphs">−800</text>
<rect x="44.3" y="280.7" width="271.9" height="218.4" fill="none" stroke="#222" stroke-width="1.3"/>
<line x1="385.8" y1="499.2" x2="385.8" y2="497" stroke="#222" stroke-width="1"/>
<line x1="391.8" y1="499.2" x2="391.8" y2="497" stroke="#222" stroke-width="1"/>
<line x1="396.1" y1="499.2" x2="396.1" y2="497" stroke="#222" stroke-width="1"/>
<line x1="399.4" y1="499.2" x2="399.4" y2="497" stroke="#222" stroke-width="1"/>
<line x1="402.1" y1="499.2" x2="402.1" y2="497" stroke="#222" stroke-width="1"/>
<line x1="404.4" y1="499.2" x2="404.4" y2="497" stroke="#222" stroke-width="1"/>
<line x1="406.3" y1="499.2" x2="406.3" y2="497" stroke="#222" stroke-width="1"/>
<line x1="408.1" y1="499.2" x2="408.1" y2="497" stroke="#222" stroke-width="1"/>
<line x1="409.6" y1="499.2" x2="409.6" y2="495.2" stroke="#222" stroke-width="1"/>
<line x1="419.9" y1="499.2" x2="419.9" y2="497" stroke="#222" stroke-width="1"/>
<line x1="425.9" y1="499.2" x2="425.9" y2="497" stroke="#222" stroke-width="1"/>
<line x1="430.1" y1="499.2" x2="430.1" y2="497" stroke="#222" stroke-width="1"/>
<line x1="433.4" y1="499.2" x2="433.4" y2="497" stroke="#222" stroke-width="1"/>
<line x1="436.1" y1="499.2" x2="436.1" y2="497" stroke="#222" stroke-width="1"/>
<line x1="438.4" y1="499.2" x2="438.4" y2="497" stroke="#222" stroke-width="1"/>
<line x1="440.4" y1="499.2" x2="440.4" y2="497" stroke="#222" stroke-width="1"/>
<line x1="442.1" y1="499.2" x2="442.1" y2="497" stroke="#222" stroke-width="1"/>
<line x1="443.6" y1="499.2" x2="443.6" y2="495.2" stroke="#222" stroke-width="1"/>
<line x1="453.9" y1="499.2" x2="453.9" y2="497" stroke="#222" stroke-width="1"/>
<line x1="459.9" y1="499.2" x2="459.9" y2="497" stroke="#222" stroke-width="1"/>
<line x1="464.1" y1="499.2" x2="464.1" y2="497" stroke="#222" stroke-width="1"/>
<line x1="467.4" y1="499.2" x2="467.4" y2="497" stroke="#222" stroke-width="1"/>
<line x1="470.1" y1="499.2" x2="470.1" y2="497" stroke="#222" stroke-width="1"/>
<line x1="472.4" y1="499.2" x2="472.4" y2="497" stroke="#222" stroke-width="1"/>
<line x1="474.4" y1="499.2" x2="474.4" y2="497" stroke="#222" stroke-width="1"/>
<line x1="476.1" y1="499.2" x2="476.1" y2="497" stroke="#222" stroke-width="1"/>
<line x1="477.7" y1="499.2" x2="477.7" y2="495.2" stroke="#222" stroke-width="1"/>
<line x1="487.9" y1="499.2" x2="487.9" y2="497" stroke="#222" stroke-width="1"/>
<line x1="493.9" y1="499.2" x2="493.9" y2="497" stroke="#222" stroke-width="1"/>
<line x1="498.2" y1="499.2" x2="498.2" y2="497" stroke="#222" stroke-width="1"/>
<line x1="501.5" y1="499.2" x2="501.5" y2="497" stroke="#222" stroke-width="1"/>
<line x1="504.2" y1="499.2" x2="504.2" y2="497" stroke="#222" stroke-width="1"/>
<line x1="506.4" y1="499.2" x2="506.4" y2="497" stroke="#222" stroke-width="1"/>
<line x1="508.4" y1="499.2" x2="508.4" y2="497" stroke="#222" stroke-width="1"/>
<line x1="510.1" y1="499.2" x2="510.1" y2="497" stroke="#222" stroke-width="1"/>
<line x1="511.7" y1="499.2" x2="511.7" y2="495.2" stroke="#222" stroke-width="1"/>
<line x1="521.9" y1="499.2" x2="521.9" y2="497" stroke="#222" stroke-width="1"/>
<line x1="527.9" y1="499.2" x2="527.9" y2="497" stroke="#222" stroke-width="1"/>
<line x1="532.2" y1="499.2" x2="532.2" y2="497" stroke="#222" stroke-width="1"/>
<line x1="535.5" y1="499.2" x2="535.5" y2="497" stroke="#222" stroke-width="1"/>
<line x1="538.2" y1="499.2" x2="538.2" y2="497" stroke="#222" stroke-width="1"/>
<line x1="540.5" y1="499.2" x2="540.5" y2="497" stroke="#222" stroke-width="1"/>
<line x1="542.4" y1="499.2" x2="542.4" y2="497" stroke="#222" stroke-width="1"/>
<line x1="544.2" y1="499.2" x2="544.2" y2="497" stroke="#222" stroke-width="1"/>
<line x1="545.7" y1="499.2" x2="545.7" y2="495.2" stroke="#222" stroke-width="1"/>
<line x1="556" y1="499.2" x2="556" y2="497" stroke="#222" stroke-width="1"/>
<line x1="562" y1="499.2" x2="562" y2="497" stroke="#222" stroke-width="1"/>
<line x1="566.2" y1="499.2" x2="566.2" y2="497" stroke="#222" stroke-width="1"/>
<line x1="569.5" y1="499.2" x2="569.5" y2="497" stroke="#222" stroke-width="1"/>
<line x1="572.2" y1="499.2" x2="572.2" y2="497" stroke="#222" stroke-width="1"/>
<line x1="574.5" y1="499.2" x2="574.5" y2="497" stroke="#222" stroke-width="1"/>
<line x1="576.5" y1="499.2" x2="576.5" y2="497" stroke="#222" stroke-width="1"/>
<line x1="578.2" y1="499.2" x2="578.2" y2="497" stroke="#222" stroke-width="1"/>
<line x1="579.8" y1="499.2" x2="579.8" y2="495.2" stroke="#222" stroke-width="1"/>
<line x1="590" y1="499.2" x2="590" y2="497" stroke="#222" stroke-width="1"/>
<line x1="596" y1="499.2" x2="596" y2="497" stroke="#222" stroke-width="1"/>
<line x1="600.2" y1="499.2" x2="600.2" y2="497" stroke="#222" stroke-width="1"/>
<line x1="603.5" y1="499.2" x2="603.5" y2="497" stroke="#222" stroke-width="1"/>
<line x1="606.2" y1="499.2" x2="606.2" y2="497" stroke="#222" stroke-width="1"/>
<line x1="608.5" y1="499.2" x2="608.5" y2="497" stroke="#222" stroke-width="1"/>
<line x1="610.5" y1="499.2" x2="610.5" y2="497" stroke="#222" stroke-width="1"/>
<line x1="612.2" y1="499.2" x2="612.2" y2="497" stroke="#222" stroke-width="1"/>
<line x1="613.8" y1="499.2" x2="613.8" y2="495.2" stroke="#222" stroke-width="1"/>
<line x1="624" y1="499.2" x2="624" y2="497" stroke="#222" stroke-width="1"/>
<line x1="630" y1="499.2" x2="630" y2="497" stroke="#222" stroke-width="1"/>
<line x1="634.3" y1="499.2" x2="634.3" y2="497" stroke="#222" stroke-width="1"/>
<line x1="637.6" y1="499.2" x2="637.6" y2="497" stroke="#222" stroke-width="1"/>
<line x1="640.3" y1="499.2" x2="640.3" y2="497" stroke="#222" stroke-width="1"/>
<line x1="642.5" y1="499.2" x2="642.5" y2="497" stroke="#222" stroke-width="1"/>
<line x1="644.5" y1="499.2" x2="644.5" y2="497" stroke="#222" stroke-width="1"/>
<line x1="646.2" y1="499.2" x2="646.2" y2="497" stroke="#222" stroke-width="1"/>
<line x1="375.6" y1="499.1" x2="379.6" y2="499.1" stroke="#222" stroke-width="1"/>
<line x1="375.6" y1="479.2" x2="377.8" y2="479.2" stroke="#222" stroke-width="1"/>
<line x1="375.6" y1="467.5" x2="377.8" y2="467.5" stroke="#222" stroke-width="1"/>
<line x1="375.6" y1="459.2" x2="377.8" y2="459.2" stroke="#222" stroke-width="1"/>
<line x1="375.6" y1="452.8" x2="377.8" y2="452.8" stroke="#222" stroke-width="1"/>
<line x1="375.6" y1="447.6" x2="377.8" y2="447.6" stroke="#222" stroke-width="1"/>
<line x1="375.6" y1="443.2" x2="377.8" y2="443.2" stroke="#222" stroke-width="1"/>
<line x1="375.6" y1="439.3" x2="377.8" y2="439.3" stroke="#222" stroke-width="1"/>
<line x1="375.6" y1="435.9" x2="377.8" y2="435.9" stroke="#222" stroke-width="1"/>
<line x1="375.6" y1="432.9" x2="379.6" y2="432.9" stroke="#222" stroke-width="1"/>
<line x1="375.6" y1="413" x2="377.8" y2="413" stroke="#222" stroke-width="1"/>
<line x1="375.6" y1="401.3" x2="377.8" y2="401.3" stroke="#222" stroke-width="1"/>
<line x1="375.6" y1="393" x2="377.8" y2="393" stroke="#222" stroke-width="1"/>
<line x1="375.6" y1="386.6" x2="377.8" y2="386.6" stroke="#222" stroke-width="1"/>
<line x1="375.6" y1="381.4" x2="377.8" y2="381.4" stroke="#222" stroke-width="1"/>
<line x1="375.6" y1="377" x2="377.8" y2="377" stroke="#222" stroke-width="1"/>
<line x1="375.6" y1="373.1" x2="377.8" y2="373.1" stroke="#222" stroke-width="1"/>
<line x1="375.6" y1="369.7" x2="377.8" y2="369.7" stroke="#222" stroke-width="1"/>
<line x1="375.6" y1="366.7" x2="379.6" y2="366.7" stroke="#222" stroke-width="1"/>
<line x1="375.6" y1="346.8" x2="377.8" y2="346.8" stroke="#222" stroke-width="1"/>
<line x1="375.6" y1="335.1" x2="377.8" y2="335.1" stroke="#222" stroke-width="1"/>
<line x1="375.6" y1="326.8" x2="377.8" y2="326.8" stroke="#222" stroke-width="1"/>
<line x1="375.6" y1="320.4" x2="377.8" y2="320.4" stroke="#222" stroke-width="1"/>
<line x1="375.6" y1="315.2" x2="377.8" y2="315.2" stroke="#222" stroke-width="1"/>
<line x1="375.6" y1="310.8" x2="377.8" y2="310.8" stroke="#222" stroke-width="1"/>
<line x1="375.6" y1="306.9" x2="377.8" y2="306.9" stroke="#222" stroke-width="1"/>
<line x1="375.6" y1="303.5" x2="377.8" y2="303.5" stroke="#222" stroke-width="1"/>
<line x1="375.6" y1="300.5" x2="379.6" y2="300.5" stroke="#222" stroke-width="1"/>
<line x1="647.8" y1="499.1" x2="643.8" y2="499.1" stroke="#222" stroke-width="1"/>
<line x1="647.8" y1="479.2" x2="645.6" y2="479.2" stroke="#222" stroke-width="1"/>
<line x1="647.8" y1="467.5" x2="645.6" y2="467.5" stroke="#222" stroke-width="1"/>
<line x1="647.8" y1="459.2" x2="645.6" y2="459.2" stroke="#222" stroke-width="1"/>
<line x1="647.8" y1="452.8" x2="645.6" y2="452.8" stroke="#222" stroke-width="1"/>
<line x1="647.8" y1="447.6" x2="645.6" y2="447.6" stroke="#222" stroke-width="1"/>
<line x1="647.8" y1="443.2" x2="645.6" y2="443.2" stroke="#222" stroke-width="1"/>
<line x1="647.8" y1="439.3" x2="645.6" y2="439.3" stroke="#222" stroke-width="1"/>
<line x1="647.8" y1="435.9" x2="645.6" y2="435.9" stroke="#222" stroke-width="1"/>
<line x1="647.8" y1="432.9" x2="643.8" y2="432.9" stroke="#222" stroke-width="1"/>
<line x1="647.8" y1="413" x2="645.6" y2="413" stroke="#222" stroke-width="1"/>
<line x1="647.8" y1="401.3" x2="645.6" y2="401.3" stroke="#222" stroke-width="1"/>
<line x1="647.8" y1="393" x2="645.6" y2="393" stroke="#222" stroke-width="1"/>
<line x1="647.8" y1="386.6" x2="645.6" y2="386.6" stroke="#222" stroke-width="1"/>
<line x1="647.8" y1="381.4" x2="645.6" y2="381.4" stroke="#222" stroke-width="1"/>
<line x1="647.8" y1="377" x2="645.6" y2="377" stroke="#222" stroke-width="1"/>
<line x1="647.8" y1="373.1" x2="645.6" y2="373.1" stroke="#222" stroke-width="1"/>
<line x1="647.8" y1="369.7" x2="645.6" y2="369.7" stroke="#222" stroke-width="1"/>
<line x1="647.8" y1="366.7" x2="643.8" y2="366.7" stroke="#222" stroke-width="1"/>
<line x1="647.8" y1="346.8" x2="645.6" y2="346.8" stroke="#222" stroke-width="1"/>
<line x1="647.8" y1="335.1" x2="645.6" y2="335.1" stroke="#222" stroke-width="1"/>
<line x1="647.8" y1="326.8" x2="645.6" y2="326.8" stroke="#222" stroke-width="1"/>
<line x1="647.8" y1="320.4" x2="645.6" y2="320.4" stroke="#222" stroke-width="1"/>
<line x1="647.8" y1="315.2" x2="645.6" y2="315.2" stroke="#222" stroke-width="1"/>
<line x1="647.8" y1="310.8" x2="645.6" y2="310.8" stroke="#222" stroke-width="1"/>
<line x1="647.8" y1="306.9" x2="645.6" y2="306.9" stroke="#222" stroke-width="1"/>
<line x1="647.8" y1="303.5" x2="645.6" y2="303.5" stroke="#222" stroke-width="1"/>
<line x1="647.8" y1="300.5" x2="643.8" y2="300.5" stroke="#222" stroke-width="1"/>
<line x1="647.8" y1="485.3" x2="643.8" y2="485.3" stroke="#222" stroke-width="1"/>
<line x1="647.8" y1="471.7" x2="645.6" y2="471.7" stroke="#222" stroke-width="1"/>
<line x1="647.8" y1="458.1" x2="643.8" y2="458.1" stroke="#222" stroke-width="1"/>
<line x1="647.8" y1="444.5" x2="645.6" y2="444.5" stroke="#222" stroke-width="1"/>
<line x1="647.8" y1="430.9" x2="643.8" y2="430.9" stroke="#222" stroke-width="1"/>
<line x1="647.8" y1="417.3" x2="645.6" y2="417.3" stroke="#222" stroke-width="1"/>
<line x1="647.8" y1="403.7" x2="643.8" y2="403.7" stroke="#222" stroke-width="1"/>
<line x1="647.8" y1="390.1" x2="645.6" y2="390.1" stroke="#222" stroke-width="1"/>
<line x1="647.8" y1="376.4" x2="643.8" y2="376.4" stroke="#222" stroke-width="1"/>
<line x1="647.8" y1="362.8" x2="645.6" y2="362.8" stroke="#222" stroke-width="1"/>
<line x1="647.8" y1="349.2" x2="643.8" y2="349.2" stroke="#222" stroke-width="1"/>
<line x1="647.8" y1="335.6" x2="645.6" y2="335.6" stroke="#222" stroke-width="1"/>
<line x1="647.8" y1="322" x2="643.8" y2="322" stroke="#222" stroke-width="1"/>
<line x1="647.8" y1="308.4" x2="645.6" y2="308.4" stroke="#222" stroke-width="1"/>
<line x1="647.8" y1="294.8" x2="643.8" y2="294.8" stroke="#222" stroke-width="1"/>
<text x="368.2" y="514" font-family='"Liberation Serif", serif' font-size="10" text-anchor="start" font-weight="normal" fill="#000" stroke="#000" stroke-width="0.25" textLength="8.2" lengthAdjust="spacingAndGlyphs">10</text>
<text x="376.6" y="509.5" font-family='"Liberation Serif", serif' font-size="6.2" text-anchor="start" font-weight="normal" fill="#000" stroke="#000" stroke-width="0.15" textLength="6.5" lengthAdjust="spacingAndGlyphs">−3</text>
<text x="402.2" y="514" font-family='"Liberation Serif", serif' font-size="10" text-anchor="start" font-weight="normal" fill="#000" stroke="#000" stroke-width="0.25" textLength="8.2" lengthAdjust="spacingAndGlyphs">10</text>
<text x="410.6" y="509.5" font-family='"Liberation Serif", serif' font-size="6.2" text-anchor="start" font-weight="normal" fill="#000" stroke="#000" stroke-width="0.15" textLength="6.5" lengthAdjust="spacingAndGlyphs">−2</text>
<text x="436.2" y="514" font-family='"Liberation Serif", serif' font-size="10" text-anchor="start" font-weight="normal" fill="#000" stroke="#000" stroke-width="0.25" textLength="8.2" lengthAdjust="spacingAndGlyphs">10</text>
<text x="444.6" y="509.5" font-family='"Liberation Serif", serif' font-size="6.2" text-anchor="start" font-weight="normal" fill="#000" stroke="#000" stroke-width="0.15" textLength="6.5" lengthAdjust="spacingAndGlyphs">−1</text>
<text x="471.9" y="514" font-family='"Liberation Serif", serif' font-size="10" text-anchor="start" font-weight="normal" fill="#000" stroke="#000" stroke-width="0.25" textLength="8.2" lengthAdjust="spacingAndGlyphs">10</text>
<text x="480.3" y="509.5" font-family='"Liberation Serif", serif' font-size="6.2" text-anchor="start" font-weight="normal" fill="#000" stroke="#000" stroke-width="0.15" textLength="3.3" lengthAdjust="spacingAndGlyphs">0</text>
<text x="505.9" y="514" font-family='"Liberation Serif", serif' font-size="10" text-anchor="start" font-weight="normal" fill="#000" stroke="#000" stroke-width="0.25" textLength="8.2" lengthAdjust="spacingAndGlyphs">10</text>
<text x="514.4" y="509.5" font-family='"Liberation Serif", serif' font-size="6.2" text-anchor="start" font-weight="normal" fill="#000" stroke="#000" stroke-width="0.15" textLength="3.3" lengthAdjust="spacingAndGlyphs">1</text>
<text x="540" y="514" font-family='"Liberation Serif", serif' font-size="10" text-anchor="start" font-weight="normal" fill="#000" stroke="#000" stroke-width="0.25" textLength="8.2" lengthAdjust="spacingAndGlyphs">10</text>
<text x="548.4" y="509.5" font-family='"Liberation Serif", serif' font-size="6.2" text-anchor="start" font-weight="normal" fill="#000" stroke="#000" stroke-width="0.15" textLength="3.3" lengthAdjust="spacingAndGlyphs">2</text>
<text x="574" y="514" font-family='"Liberation Serif", serif' font-size="10" text-anchor="start" font-weight="normal" fill="#000" stroke="#000" stroke-width="0.25" textLength="8.2" lengthAdjust="spacingAndGlyphs">10</text>
<text x="582.4" y="509.5" font-family='"Liberation Serif", serif' font-size="6.2" text-anchor="start" font-weight="normal" fill="#000" stroke="#000" stroke-width="0.15" textLength="3.3" lengthAdjust="spacingAndGlyphs">3</text>
<text x="608" y="514" font-family='"Liberation Serif", serif' font-size="10" text-anchor="start" font-weight="normal" fill="#000" stroke="#000" stroke-width="0.25" textLength="8.2" lengthAdjust="spacingAndGlyphs">10</text>
<text x="616.4" y="509.5" font-family='"Liberation Serif", serif' font-size="6.2" text-anchor="start" font-weight="normal" fill="#000" stroke="#000" stroke-width="0.15" textLength="3.3" lengthAdjust="spacingAndGlyphs">4</text>
<text x="642" y="514" font-family='"Liberation Serif", serif' font-size="10" text-anchor="start" font-weight="normal" fill="#000" stroke="#000" stroke-width="0.25" textLength="8.2" lengthAdjust="spacingAndGlyphs">10</text>
<text x="650.4" y="509.5" font-family='"Liberation Serif", serif' font-size="6.2" text-anchor="start" font-weight="normal" fill="#000" stroke="#000" stroke-width="0.15" textLength="3.3" lengthAdjust="spacingAndGlyphs">5</text>
<text x="366.8" y="503.7" font-family='"Liberation Serif", serif' font-size="10" text-anchor="end" font-weight="normal" fill="#000" stroke="#000" stroke-width="0.25" textLength="8.2" lengthAdjust="spacingAndGlyphs">10</text>
<text x="367.6" y="499.5" font-family='"Liberation Serif", serif' font-size="6.2" text-anchor="start" font-weight="normal" fill="#000" stroke="#000" stroke-width="0.15" textLength="3.3" lengthAdjust="spacingAndGlyphs">0</text>
<text x="366.8" y="437.5" font-family='"Liberation Serif", serif' font-size="10" text-anchor="end" font-weight="normal" fill="#000" stroke="#000" stroke-width="0.25" textLength="8.2" lengthAdjust="spacingAndGlyphs">10</text>
<text x="367.6" y="433.3" font-family='"Liberation Serif", serif' font-size="6.2" text-anchor="start" font-weight="normal" fill="#000" stroke="#000" stroke-width="0.15" textLength="3.3" lengthAdjust="spacingAndGlyphs">1</text>
<text x="366.8" y="371.3" font-family='"Liberation Serif", serif' font-size="10" text-anchor="end" font-weight="normal" fill="#000" stroke="#000" stroke-width="0.25" textLength="8.2" lengthAdjust="spacingAndGlyphs">10</text>
<text x="367.6" y="367.1" font-family='"Liberation Serif", serif' font-size="6.2" text-anchor="start" font-weight="normal" fill="#000" stroke="#000" stroke-width="0.15" textLength="3.3" lengthAdjust="spacingAndGlyphs">2</text>
<text x="366.8" y="305.1" font-family='"Liberation Serif", serif' font-size="10" text-anchor="end" font-weight="normal" fill="#000" stroke="#000" stroke-width="0.25" textLength="8.2" lengthAdjust="spacingAndGlyphs">10</text>
<text x="367.6" y="300.9" font-family='"Liberation Serif", serif' font-size="6.2" text-anchor="start" font-weight="normal" fill="#000" stroke="#000" stroke-width="0.15" textLength="3.3" lengthAdjust="spacingAndGlyphs">3</text>
<text x="653.4" y="488.6" font-family='"Liberation Serif", serif' font-size="9.6" text-anchor="start" font-weight="normal" fill="#111" stroke="#111" stroke-width="0.2" textLength="4.6" lengthAdjust="spacingAndGlyphs">0</text>
<text x="653" y="461.4" font-family='"Liberation Serif", serif' font-size="9.6" text-anchor="start" font-weight="normal" fill="#111" stroke="#111" stroke-width="0.2" textLength="13.6" lengthAdjust="spacingAndGlyphs">−10</text>
<text x="653" y="434.2" font-family='"Liberation Serif", serif' font-size="9.6" text-anchor="start" font-weight="normal" fill="#111" stroke="#111" stroke-width="0.2" textLength="13.6" lengthAdjust="spacingAndGlyphs">−20</text>
<text x="653" y="407" font-family='"Liberation Serif", serif' font-size="9.6" text-anchor="start" font-weight="normal" fill="#111" stroke="#111" stroke-width="0.2" textLength="13.6" lengthAdjust="spacingAndGlyphs">−30</text>
<text x="653" y="379.7" font-family='"Liberation Serif", serif' font-size="9.6" text-anchor="start" font-weight="normal" fill="#111" stroke="#111" stroke-width="0.2" textLength="13.6" lengthAdjust="spacingAndGlyphs">−40</text>
<text x="653" y="352.5" font-family='"Liberation Serif", serif' font-size="9.6" text-anchor="start" font-weight="normal" fill="#111" stroke="#111" stroke-width="0.2" textLength="13.6" lengthAdjust="spacingAndGlyphs">−50</text>
<text x="653" y="325.3" font-family='"Liberation Serif", serif' font-size="9.6" text-anchor="start" font-weight="normal" fill="#111" stroke="#111" stroke-width="0.2" textLength="13.6" lengthAdjust="spacingAndGlyphs">−60</text>
<text x="653" y="298.1" font-family='"Liberation Serif", serif' font-size="9.6" text-anchor="start" font-weight="normal" fill="#111" stroke="#111" stroke-width="0.2" textLength="13.6" lengthAdjust="spacingAndGlyphs">−70</text>
<rect x="375.6" y="280.8" width="272.2" height="218.4" fill="none" stroke="#222" stroke-width="1.3"/>
<svg x="0" y="0" width="685" height="813" overflow="hidden"><clipPath id="cnc"><rect x="44.3" y="560.7" width="271.9" height="218.4"/></clipPath><clipPath id="cbc"><rect x="375.8" y="560.8" width="271.6" height="218.3"/></clipPath></svg>
<g clip-path="url(#cnc)">
<path d="M44.6 779.1 L44.6 779.1 L44.6 779.1 L44.6 779.1 L44.6 779.1 L44.6 779.1 L44.6 779.1 L44.6 779.1 L44.6 779.1 L44.6 779.1 L44.6 779.1 L44.6 779.1 L44.6 779.1 L44.6 779.1 L44.6 779.1 L44.6 779.1 L44.6 779.1 L44.6 779.1 L44.6 779.1 L44.6 779.1 L44.6 779.1 L44.6 779.1 L44.6 779.1 L44.6 779.1 L44.6 779 L44.6 779 L44.6 779 L44.6 779 L44.6 779 L44.6 779 L44.6 779 L44.7 779 L44.7 779 L44.7 778.9 L44.7 778.9 L44.7 778.9 L44.7 778.9 L44.7 778.8 L44.7 778.8 L44.8 778.8 L44.8 778.7 L44.8 778.7 L44.8 778.6 L44.9 778.6 L44.9 778.5 L44.9 778.4 L45 778.4 L45 778.3 L45.1 778.2 L45.2 778.1 L45.2 777.9 L45.3 777.8 L45.5 777.7 L45.6 777.5 L45.7 777.3 L45.9 777.1 L46.1 776.9 L46.3 776.7 L46.6 776.4 L46.9 776.1 L47.2 775.9 L47.6 775.6 L48 775.3 L48.5 775 L49.1 774.7 L49.7 774.4 L50.4 774.1 L51.2 773.9 L52 773.7 L52.8 773.5 L53.7 773.4 L54.6 773.4 L55.5 773.4 L56.4 773.5 L57.2 773.6 L58.1 773.8 L58.8 774 L59.5 774.3 L60.2 774.5 L60.8 774.8 L61.3 775.1 L61.8 775.4 L62.2 775.7 L62.6 776 L62.9 776.3 L63.2 776.6 L63.4 776.8 L63.6 777 L63.8 777.2 L63.9 777.4 L64.1 777.6 L64.2 777.7 L64.3 777.9 L64.4 778 L64.5 778.1 L64.5 778.2 L64.6 778.3 L64.6 778.4 L64.7 778.5 L64.7 778.6 L64.7 778.6 L64.8 778.7 L64.8 778.7 L64.8 778.8 L64.8 778.8 L64.9 778.8" fill="none" stroke="#444444" stroke-width="0.9"/>
<path d="M41.9 778.5h3.2v3.2h-3.2zM43.4 778.9h3.2v3.2h-3.2zM42.6 777.5h3.2v3.2h-3.2zM42.7 777.6h3.2v3.2h-3.2zM42.9 777h3.2v3.2h-3.2zM43.7 777h3.2v3.2h-3.2zM42.7 777.8h3.2v3.2h-3.2zM42.7 777.2h3.2v3.2h-3.2zM43.2 777.2h3.2v3.2h-3.2zM42.3 777.3h3.2v3.2h-3.2zM42.9 778.4h3.2v3.2h-3.2zM42.4 777.9h3.2v3.2h-3.2zM42.6 777.1h3.2v3.2h-3.2zM42.9 777.4h3.2v3.2h-3.2zM43.7 778.3h3.2v3.2h-3.2zM42.8 777.9h3.2v3.2h-3.2zM43.8 777.5h3.2v3.2h-3.2zM42.8 777.5h3.2v3.2h-3.2zM43.3 777h3.2v3.2h-3.2zM43.3 777h3.2v3.2h-3.2zM44.2 777.1h3.2v3.2h-3.2zM43.6 776.8h3.2v3.2h-3.2zM44.8 775.3h3.2v3.2h-3.2zM45.1 774.8h3.2v3.2h-3.2zM44.9 775.5h3.2v3.2h-3.2zM46 774.9h3.2v3.2h-3.2zM45.4 773.7h3.2v3.2h-3.2zM45.8 774.1h3.2v3.2h-3.2zM47.4 772.6h3.2v3.2h-3.2zM49.1 772.1h3.2v3.2h-3.2zM49.9 771.9h3.2v3.2h-3.2zM52.8 772.7h3.2v3.2h-3.2zM53.3 770.9h3.2v3.2h-3.2zM55.3 772h3.2v3.2h-3.2zM56.8 772.6h3.2v3.2h-3.2zM57.8 773.2h3.2v3.2h-3.2zM59.7 773.4h3.2v3.2h-3.2zM59.9 773.5h3.2v3.2h-3.2zM61.3 773.7h3.2v3.2h-3.2zM61.3 774.4h3.2v3.2h-3.2zM61 775.6h3.2v3.2h-3.2zM62.2 775.7h3.2v3.2h-3.2zM63.4 774.5h3.2v3.2h-3.2zM62.6 776.6h3.2v3.2h-3.2zM63.7 775.4h3.2v3.2h-3.2zM63.7 776.9h3.2v3.2h-3.2zM64.4 778h3.2v3.2h-3.2zM63.7 779.1h3.2v3.2h-3.2zM63.2 776.7h3.2v3.2h-3.2zM62.9 776.2h3.2v3.2h-3.2zM63.2 775.3h3.2v3.2h-3.2z" fill="#000000"/>
</g><g clip-path="url(#cbc)">
<path d="M623.7 757 L621.4 756.9 L619.2 756.7 L616.9 756.6 L614.7 756.4 L612.4 756.2 L610.2 756 L607.9 755.7 L605.7 755.4 L603.4 755 L601.2 754.6 L598.9 754.1 L596.6 753.5 L594.4 752.8 L592.1 752 L589.9 751.1 L587.6 750 L585.4 748.9 L583.1 747.5 L580.9 746.1 L578.6 744.4 L576.4 742.6 L574.1 740.7 L571.9 738.6 L569.6 736.4 L567.4 734 L565.1 731.6 L562.9 729 L560.6 726.4 L558.4 723.7 L556.1 720.9 L553.9 718.1 L551.6 715.3 L549.4 712.4 L547.1 709.6 L544.9 706.7 L542.6 703.8 L540.4 701 L538.1 698.2 L535.9 695.4 L533.6 692.6 L531.3 689.9 L529.1 687.2 L526.8 684.5 L524.6 681.9 L522.3 679.3 L520.1 676.8 L517.8 674.3 L515.6 671.8 L513.3 669.4 L511.1 667 L508.8 664.7 L506.6 662.5 L504.3 660.4 L502.1 658.4 L499.8 656.6 L497.6 654.9 L495.3 653.4 L493.1 652 L490.8 650.8 L488.6 649.7 L486.3 648.8 L484.1 648.1 L481.8 647.4 L479.6 646.9 L477.3 646.4 L475.1 646 L472.8 645.7 L470.5 645.4 L468.3 645.2 L466 645 L463.8 644.8 L461.5 644.7 L459.3 644.6 L457 644.5 L454.8 644.4 L452.5 644.3 L450.3 644.3 L448 644.2 L445.8 644.2 L443.5 644.2 L441.3 644.1 L439 644.1 L436.8 644.1 L434.5 644.1 L432.3 644 L430 644 L427.8 644 L425.5 644 L423.3 644 L421 644 L418.8 644 L416.5 644 L414.3 644 L412 644 L409.8 644" fill="none" stroke="#444444" stroke-width="0.9"/>
<path d="M623.7 751 L621.4 749.3 L619.2 747.4 L616.9 745.2 L614.7 742.8 L612.4 740.2 L610.2 737.2 L607.9 733.9 L605.7 730.2 L603.4 726.2 L601.2 721.8 L598.9 717 L596.6 711.7 L594.4 706.1 L592.1 700 L589.9 693.7 L587.6 687 L585.4 680 L583.1 672.9 L580.9 665.7 L578.6 658.4 L576.4 651.3 L574.1 644.4 L571.9 637.8 L569.6 631.6 L567.4 625.8 L565.1 620.5 L562.9 615.7 L560.6 611.4 L558.4 607.7 L556.1 604.6 L553.9 602 L551.6 600 L549.4 598.4 L547.1 597.4 L544.9 596.9 L542.6 596.8 L540.4 597.1 L538.1 597.8 L535.9 598.8 L533.6 600.2 L531.3 601.9 L529.1 603.8 L526.8 606 L524.6 608.4 L522.3 611.1 L520.1 614.1 L517.8 617.4 L515.6 621 L513.3 625.1 L511.1 629.6 L508.8 634.5 L506.6 640 L504.3 645.9 L502.1 652.3 L499.8 659.1 L497.6 666.1 L495.3 673.3 L493.1 680.5 L490.8 687.6 L488.6 694.6 L486.3 701.2 L484.1 707.5 L481.8 713.3 L479.6 718.8 L477.3 723.8 L475.1 728.3 L472.8 732.4 L470.5 736.1 L468.3 739.4 L466 742.3 L463.8 744.9 L461.5 747.3 L459.3 749.3 L457 751.1 L454.8 752.7 L452.5 754.2 L450.3 755.4 L448 756.5 L445.8 757.5 L443.5 758.3 L441.3 759.1 L439 759.7 L436.8 760.3 L434.5 760.8 L432.3 761.2 L430 761.6 L427.8 762 L425.5 762.3 L423.3 762.5 L421 762.8 L418.8 763 L416.5 763.1 L414.3 763.3 L412 763.4 L409.8 763.6" fill="none" stroke="#444444" stroke-width="0.9"/>
<path d="M618.8 755.2h3.2v3.2h-3.2zM615.4 755.2h3.2v3.2h-3.2zM612 755.2h3.2v3.2h-3.2zM608.6 754.2h3.2v3.2h-3.2zM605.2 754.6h3.2v3.2h-3.2zM601.8 753.1h3.2v3.2h-3.2zM598.4 752.6h3.2v3.2h-3.2zM595 750.9h3.2v3.2h-3.2zM591.6 750.4h3.2v3.2h-3.2zM588.2 749.1h3.2v3.2h-3.2zM584.8 748.6h3.2v3.2h-3.2zM581.4 746.1h3.2v3.2h-3.2zM578 743h3.2v3.2h-3.2zM574.6 741.2h3.2v3.2h-3.2zM571.2 738.1h3.2v3.2h-3.2zM567.8 734.5h3.2v3.2h-3.2zM564.4 731h3.2v3.2h-3.2zM561 727h3.2v3.2h-3.2zM557.6 722.9h3.2v3.2h-3.2zM554.2 718.1h3.2v3.2h-3.2zM550.8 714.7h3.2v3.2h-3.2zM547.4 711h3.2v3.2h-3.2zM544 706.8h3.2v3.2h-3.2zM540.6 701.6h3.2v3.2h-3.2zM537.2 697.1h3.2v3.2h-3.2zM533.8 693.2h3.2v3.2h-3.2zM530.5 689.6h3.2v3.2h-3.2zM527.1 685.2h3.2v3.2h-3.2zM523.7 680.8h3.2v3.2h-3.2zM520.3 677.3h3.2v3.2h-3.2zM516.9 673.2h3.2v3.2h-3.2zM513.5 669.9h3.2v3.2h-3.2zM510.1 665.8h3.2v3.2h-3.2zM506.7 661.8h3.2v3.2h-3.2zM503.3 659.3h3.2v3.2h-3.2zM499.9 656.7h3.2v3.2h-3.2zM496.5 653.1h3.2v3.2h-3.2zM493.1 651.3h3.2v3.2h-3.2zM489.7 649.9h3.2v3.2h-3.2zM486.3 647.7h3.2v3.2h-3.2zM482.9 646.3h3.2v3.2h-3.2zM479.5 646.6h3.2v3.2h-3.2zM476.1 645.3h3.2v3.2h-3.2zM472.7 644.8h3.2v3.2h-3.2zM469.3 643.4h3.2v3.2h-3.2zM465.9 644.3h3.2v3.2h-3.2zM462.5 642.4h3.2v3.2h-3.2zM459.1 642.8h3.2v3.2h-3.2zM455.7 643.3h3.2v3.2h-3.2zM452.3 643.4h3.2v3.2h-3.2zM448.9 642.2h3.2v3.2h-3.2zM445.5 642.3h3.2v3.2h-3.2zM442.1 642.7h3.2v3.2h-3.2zM438.7 641.6h3.2v3.2h-3.2zM435.3 642.8h3.2v3.2h-3.2zM431.9 642.7h3.2v3.2h-3.2zM428.5 642.2h3.2v3.2h-3.2zM425.1 642.7h3.2v3.2h-3.2zM421.7 642.8h3.2v3.2h-3.2zM418.3 642.5h3.2v3.2h-3.2zM414.9 642.6h3.2v3.2h-3.2zM411.5 643.1h3.2v3.2h-3.2zM408.1 642.1h3.2v3.2h-3.2z" fill="#000000"/>
<path d="M618.8 747h3.2v3.2h-3.2zM615.4 743.3h3.2v3.2h-3.2zM612 740.9h3.2v3.2h-3.2zM608.6 735.3h3.2v3.2h-3.2zM605.2 730.9h3.2v3.2h-3.2zM601.8 724.7h3.2v3.2h-3.2zM598.4 717.8h3.2v3.2h-3.2zM595 711.5h3.2v3.2h-3.2zM591.6 701.3h3.2v3.2h-3.2zM588.2 693h3.2v3.2h-3.2zM584.8 682.3h3.2v3.2h-3.2zM581.4 672h3.2v3.2h-3.2zM578 659.8h3.2v3.2h-3.2zM574.6 650h3.2v3.2h-3.2zM571.2 639.6h3.2v3.2h-3.2zM567.8 628.9h3.2v3.2h-3.2zM564.4 621.2h3.2v3.2h-3.2zM561 613.5h3.2v3.2h-3.2zM557.6 607.4h3.2v3.2h-3.2zM554.2 603.8h3.2v3.2h-3.2zM550.8 598.4h3.2v3.2h-3.2zM547.4 595.2h3.2v3.2h-3.2zM544 593.9h3.2v3.2h-3.2zM540.6 594.8h3.2v3.2h-3.2zM537.2 595.3h3.2v3.2h-3.2zM533.8 597.5h3.2v3.2h-3.2zM530.5 600.2h3.2v3.2h-3.2zM527.1 604.1h3.2v3.2h-3.2zM523.7 606.4h3.2v3.2h-3.2zM520.3 610.5h3.2v3.2h-3.2zM516.9 614.2h3.2v3.2h-3.2zM513.5 620.8h3.2v3.2h-3.2zM510.1 627.9h3.2v3.2h-3.2zM506.7 635.4h3.2v3.2h-3.2zM503.3 641.2h3.2v3.2h-3.2zM499.9 653.3h3.2v3.2h-3.2zM496.5 664.3h3.2v3.2h-3.2zM493.1 674.4h3.2v3.2h-3.2zM489.7 683.3h3.2v3.2h-3.2zM486.3 694.7h3.2v3.2h-3.2zM482.9 705.2h3.2v3.2h-3.2zM479.5 713.9h3.2v3.2h-3.2zM476.1 720.6h3.2v3.2h-3.2zM472.7 727.3h3.2v3.2h-3.2zM469.3 734.8h3.2v3.2h-3.2zM465.9 737.7h3.2v3.2h-3.2zM462.5 744.2h3.2v3.2h-3.2zM459.1 746.5h3.2v3.2h-3.2zM455.7 749.6h3.2v3.2h-3.2zM452.3 750.5h3.2v3.2h-3.2zM448.9 753.2h3.2v3.2h-3.2zM445.5 755.9h3.2v3.2h-3.2zM442.1 755.4h3.2v3.2h-3.2zM438.7 759.5h3.2v3.2h-3.2zM435.3 757.4h3.2v3.2h-3.2zM431.9 758.3h3.2v3.2h-3.2zM428.5 760h3.2v3.2h-3.2zM425.1 760.9h3.2v3.2h-3.2zM421.7 761.6h3.2v3.2h-3.2zM418.3 760.9h3.2v3.2h-3.2zM414.9 761.4h3.2v3.2h-3.2zM411.5 761.6h3.2v3.2h-3.2zM408.1 761.5h3.2v3.2h-3.2z" fill="#000000"/>
</g>
<g clip-path="url(#cnc)">
<path d="M44.6 779.1 L44.6 779.1 L44.6 779.1 L44.6 779.1 L44.6 779.1 L44.6 779.1 L44.6 779.1 L44.6 779.1 L44.6 779.1 L44.6 779.1 L44.6 779.1 L44.6 779.1 L44.6 779.1 L44.6 779.1 L44.6 779.1 L44.6 779.1 L44.6 779.1 L44.6 779.1 L44.6 779.1 L44.6 779.1 L44.6 779.1 L44.6 779.1 L44.6 779.1 L44.6 779.1 L44.6 779.1 L44.6 779.1 L44.6 779.1 L44.6 779.1 L44.6 779.1 L44.6 779.1 L44.6 779.1 L44.6 779.1 L44.6 779 L44.6 779 L44.6 779 L44.6 779 L44.6 779 L44.6 779 L44.6 779 L44.6 779 L44.7 779 L44.7 778.9 L44.7 778.9 L44.7 778.9 L44.7 778.9 L44.7 778.8 L44.7 778.8 L44.7 778.8 L44.8 778.7 L44.8 778.7 L44.8 778.6 L44.8 778.6 L44.9 778.5 L44.9 778.4 L45 778.4 L45 778.3 L45.1 778.2 L45.1 778.1 L45.2 777.9 L45.3 777.8 L45.4 777.6 L45.5 777.5 L45.7 777.3 L45.8 777.1 L46 776.8 L46.3 776.6 L46.5 776.3 L46.8 776 L47.2 775.7 L47.6 775.4 L48.1 775.1 L48.6 774.8 L49.2 774.5 L49.8 774.2 L50.6 773.9 L51.4 773.6 L52.2 773.4 L53.1 773.3 L54.1 773.2 L55 773.1 L56 773.2 L56.9 773.3 L57.8 773.4 L58.6 773.6 L59.4 773.9 L60.2 774.2 L60.8 774.5 L61.4 774.8 L61.9 775.1 L62.4 775.4 L62.8 775.7 L63.2 776 L63.5 776.3 L63.7 776.6 L63.9 776.8 L64.1 777.1 L64.3 777.3 L64.5 777.5 L64.6 777.6 L64.7 777.8 L64.8 777.9 L64.9 778.1 L64.9 778.2 L65 778.3 L65 778.4 L65.1 778.4" fill="none" stroke="#ff5050" stroke-width="0.9"/>
<path d="M41.5 778.1h3.2v3.2h-3.2zM43.1 777.6h3.2v3.2h-3.2zM42.6 777.6h3.2v3.2h-3.2zM43 777.4h3.2v3.2h-3.2zM43.6 776.5h3.2v3.2h-3.2zM43.1 776.9h3.2v3.2h-3.2zM42.8 778.3h3.2v3.2h-3.2zM42.4 777.4h3.2v3.2h-3.2zM42.7 778h3.2v3.2h-3.2zM42.4 776.5h3.2v3.2h-3.2zM43.3 777.3h3.2v3.2h-3.2zM42.8 778.1h3.2v3.2h-3.2zM42.5 777.2h3.2v3.2h-3.2zM43.1 777.7h3.2v3.2h-3.2zM42.7 778h3.2v3.2h-3.2zM44.3 777.1h3.2v3.2h-3.2zM44.1 776.1h3.2v3.2h-3.2zM43.9 777.1h3.2v3.2h-3.2zM43.2 777h3.2v3.2h-3.2zM42.8 776.4h3.2v3.2h-3.2zM43 777.8h3.2v3.2h-3.2zM43.9 776.8h3.2v3.2h-3.2zM43 776.4h3.2v3.2h-3.2zM42.7 777.7h3.2v3.2h-3.2zM43.9 776.6h3.2v3.2h-3.2zM43.4 775.7h3.2v3.2h-3.2zM44.6 776.4h3.2v3.2h-3.2zM43.6 776.2h3.2v3.2h-3.2zM43.8 775.6h3.2v3.2h-3.2zM44.4 774.5h3.2v3.2h-3.2zM45.8 774.5h3.2v3.2h-3.2zM46.9 773.1h3.2v3.2h-3.2zM48.2 773.8h3.2v3.2h-3.2zM48.5 772.7h3.2v3.2h-3.2zM49.5 771.9h3.2v3.2h-3.2zM50.8 771.7h3.2v3.2h-3.2zM53.5 772.3h3.2v3.2h-3.2zM55.6 772.1h3.2v3.2h-3.2zM56.5 771.8h3.2v3.2h-3.2zM58 772.6h3.2v3.2h-3.2zM58.3 773.4h3.2v3.2h-3.2zM59.6 773.3h3.2v3.2h-3.2zM61.3 773.7h3.2v3.2h-3.2zM63.4 774.6h3.2v3.2h-3.2zM63.8 776.3h3.2v3.2h-3.2zM62.2 776h3.2v3.2h-3.2zM64.2 775.6h3.2v3.2h-3.2zM63.2 775.7h3.2v3.2h-3.2zM63.3 776.1h3.2v3.2h-3.2zM63.5 777.6h3.2v3.2h-3.2zM64.8 777h3.2v3.2h-3.2z" fill="#ff0000"/>
</g><g clip-path="url(#cbc)">
<path d="M623.7 757 L621.4 756.9 L619.2 756.7 L616.9 756.6 L614.7 756.4 L612.4 756.2 L610.2 756 L607.9 755.7 L605.7 755.4 L603.4 755 L601.2 754.6 L598.9 754.1 L596.6 753.5 L594.4 752.9 L592.1 752.1 L589.9 751.2 L587.6 750.2 L585.4 749 L583.1 747.7 L580.9 746.3 L578.6 744.6 L576.4 742.9 L574.1 740.9 L571.9 738.9 L569.6 736.6 L567.4 734.3 L565.1 731.9 L562.9 729.3 L560.6 726.7 L558.4 724 L556.1 721.2 L553.9 718.4 L551.6 715.6 L549.4 712.7 L547.1 709.9 L544.9 707 L542.6 704.1 L540.4 701.3 L538.1 698.5 L535.9 695.7 L533.6 692.9 L531.3 690.2 L529.1 687.5 L526.8 684.8 L524.6 682.2 L522.3 679.6 L520.1 677.1 L517.8 674.5 L515.6 672.1 L513.3 669.6 L511.1 667.2 L508.8 664.9 L506.6 662.7 L504.3 660.6 L502.1 658.6 L499.8 656.7 L497.6 655 L495.3 653.4 L493.1 652.1 L490.8 650.8 L488.6 649.8 L486.3 648.8 L484.1 648 L481.8 647.4 L479.6 646.8 L477.3 646.3 L475.1 645.9 L472.8 645.6 L470.5 645.3 L468.3 645.1 L466 644.9 L463.8 644.7 L461.5 644.6 L459.3 644.5 L457 644.4 L454.8 644.3 L452.5 644.2 L450.3 644.2 L448 644.1 L445.8 644.1 L443.5 644.1 L441.3 644 L439 644 L436.8 644 L434.5 644 L432.3 643.9 L430 643.9 L427.8 643.9 L425.5 643.9 L423.3 643.9 L421 643.9 L418.8 643.9 L416.5 643.9 L414.3 643.9 L412 643.9 L409.8 643.9" fill="none" stroke="#ff5050" stroke-width="0.9"/>
<path d="M623.7 751.2 L621.4 749.6 L619.2 747.7 L616.9 745.6 L614.7 743.2 L612.4 740.6 L610.2 737.6 L607.9 734.4 L605.7 730.8 L603.4 726.8 L601.2 722.4 L598.9 717.6 L596.6 712.4 L594.4 706.8 L592.1 700.8 L589.9 694.4 L587.6 687.8 L585.4 680.8 L583.1 673.7 L580.9 666.4 L578.6 659.2 L576.4 652.1 L574.1 645.1 L571.9 638.4 L569.6 632.1 L567.4 626.3 L565.1 620.9 L562.9 616 L560.6 611.7 L558.4 608 L556.1 604.8 L553.9 602.1 L551.6 600.1 L549.4 598.5 L547.1 597.4 L544.9 596.9 L542.6 596.7 L540.4 597 L538.1 597.7 L535.9 598.7 L533.6 600.1 L531.3 601.7 L529.1 603.6 L526.8 605.8 L524.6 608.2 L522.3 610.8 L520.1 613.7 L517.8 616.9 L515.6 620.4 L513.3 624.4 L511.1 628.8 L508.8 633.6 L506.6 639 L504.3 644.9 L502.1 651.2 L499.8 657.9 L497.6 664.9 L495.3 672.1 L493.1 679.3 L490.8 686.5 L488.6 693.5 L486.3 700.2 L484.1 706.6 L481.8 712.5 L479.6 718 L477.3 723.1 L475.1 727.7 L472.8 731.9 L470.5 735.6 L468.3 739 L466 742 L463.8 744.6 L461.5 747 L459.3 749.1 L457 750.9 L454.8 752.6 L452.5 754 L450.3 755.3 L448 756.4 L445.8 757.4 L443.5 758.2 L441.3 759 L439 759.7 L436.8 760.2 L434.5 760.8 L432.3 761.2 L430 761.6 L427.8 761.9 L425.5 762.2 L423.3 762.5 L421 762.7 L418.8 763 L416.5 763.1 L414.3 763.3 L412 763.4 L409.8 763.5" fill="none" stroke="#ff5050" stroke-width="0.9"/>
<path d="M618.8 755.3h3.2v3.2h-3.2zM615.4 755.4h3.2v3.2h-3.2zM612 754.6h3.2v3.2h-3.2zM608.6 753.9h3.2v3.2h-3.2zM605.2 754.5h3.2v3.2h-3.2zM601.8 753h3.2v3.2h-3.2zM598.4 753.2h3.2v3.2h-3.2zM595 751.5h3.2v3.2h-3.2zM591.6 751.8h3.2v3.2h-3.2zM588.2 749.1h3.2v3.2h-3.2zM584.8 748.4h3.2v3.2h-3.2zM581.4 746.8h3.2v3.2h-3.2zM578 743.3h3.2v3.2h-3.2zM574.6 741.8h3.2v3.2h-3.2zM571.2 737.7h3.2v3.2h-3.2zM567.8 734h3.2v3.2h-3.2zM564.4 731.6h3.2v3.2h-3.2zM561 727.8h3.2v3.2h-3.2zM557.6 723.3h3.2v3.2h-3.2zM554.2 718.1h3.2v3.2h-3.2zM550.8 715h3.2v3.2h-3.2zM547.4 710.6h3.2v3.2h-3.2zM544 706.2h3.2v3.2h-3.2zM540.6 701.9h3.2v3.2h-3.2zM537.2 696.9h3.2v3.2h-3.2zM533.8 693.3h3.2v3.2h-3.2zM530.5 690.3h3.2v3.2h-3.2zM527.1 686.1h3.2v3.2h-3.2zM523.7 681.2h3.2v3.2h-3.2zM520.3 677.1h3.2v3.2h-3.2zM516.9 673.8h3.2v3.2h-3.2zM513.5 670.4h3.2v3.2h-3.2zM510.1 666.6h3.2v3.2h-3.2zM506.7 662.2h3.2v3.2h-3.2zM503.3 659.6h3.2v3.2h-3.2zM499.9 656.5h3.2v3.2h-3.2zM496.5 654.5h3.2v3.2h-3.2zM493.1 652h3.2v3.2h-3.2zM489.7 649.7h3.2v3.2h-3.2zM486.3 648.4h3.2v3.2h-3.2zM482.9 646.4h3.2v3.2h-3.2zM479.5 646.3h3.2v3.2h-3.2zM476.1 644.6h3.2v3.2h-3.2zM472.7 644.4h3.2v3.2h-3.2zM469.3 644.2h3.2v3.2h-3.2zM465.9 643h3.2v3.2h-3.2zM462.5 642.8h3.2v3.2h-3.2zM459.1 642.1h3.2v3.2h-3.2zM455.7 642.9h3.2v3.2h-3.2zM452.3 642.7h3.2v3.2h-3.2zM448.9 642.4h3.2v3.2h-3.2zM445.5 642.8h3.2v3.2h-3.2zM442.1 641.4h3.2v3.2h-3.2zM438.7 642.4h3.2v3.2h-3.2zM435.3 642.4h3.2v3.2h-3.2zM431.9 642.2h3.2v3.2h-3.2zM428.5 642.7h3.2v3.2h-3.2zM425.1 643.1h3.2v3.2h-3.2zM421.7 642.1h3.2v3.2h-3.2zM418.3 641.8h3.2v3.2h-3.2zM414.9 642h3.2v3.2h-3.2zM411.5 642.3h3.2v3.2h-3.2zM408.1 642.5h3.2v3.2h-3.2z" fill="#ff0000"/>
<path d="M618.8 746.4h3.2v3.2h-3.2zM615.4 744.9h3.2v3.2h-3.2zM612 739.5h3.2v3.2h-3.2zM608.6 736.8h3.2v3.2h-3.2zM605.2 731.4h3.2v3.2h-3.2zM601.8 725.6h3.2v3.2h-3.2zM598.4 720.3h3.2v3.2h-3.2zM595 710.5h3.2v3.2h-3.2zM591.6 701.9h3.2v3.2h-3.2zM588.2 693h3.2v3.2h-3.2zM584.8 683.1h3.2v3.2h-3.2zM581.4 670.5h3.2v3.2h-3.2zM578 661h3.2v3.2h-3.2zM574.6 649.3h3.2v3.2h-3.2zM571.2 640.1h3.2v3.2h-3.2zM567.8 631.2h3.2v3.2h-3.2zM564.4 621.4h3.2v3.2h-3.2zM561 613.8h3.2v3.2h-3.2zM557.6 607.9h3.2v3.2h-3.2zM554.2 600.3h3.2v3.2h-3.2zM550.8 599.8h3.2v3.2h-3.2zM547.4 597.2h3.2v3.2h-3.2zM544 595.6h3.2v3.2h-3.2zM540.6 594.8h3.2v3.2h-3.2zM537.2 595.2h3.2v3.2h-3.2zM533.8 597.2h3.2v3.2h-3.2zM530.5 600.6h3.2v3.2h-3.2zM527.1 602.3h3.2v3.2h-3.2zM523.7 607h3.2v3.2h-3.2zM520.3 607.6h3.2v3.2h-3.2zM516.9 614h3.2v3.2h-3.2zM513.5 619.9h3.2v3.2h-3.2zM510.1 626h3.2v3.2h-3.2zM506.7 631.9h3.2v3.2h-3.2zM503.3 641.2h3.2v3.2h-3.2zM499.9 652.4h3.2v3.2h-3.2zM496.5 660.6h3.2v3.2h-3.2zM493.1 671.7h3.2v3.2h-3.2zM489.7 682.5h3.2v3.2h-3.2zM486.3 693.5h3.2v3.2h-3.2zM482.9 704.3h3.2v3.2h-3.2zM479.5 713.2h3.2v3.2h-3.2zM476.1 718.9h3.2v3.2h-3.2zM472.7 728.8h3.2v3.2h-3.2zM469.3 732.9h3.2v3.2h-3.2zM465.9 738h3.2v3.2h-3.2zM462.5 744.1h3.2v3.2h-3.2zM459.1 746.1h3.2v3.2h-3.2zM455.7 748.1h3.2v3.2h-3.2zM452.3 751h3.2v3.2h-3.2zM448.9 752.9h3.2v3.2h-3.2zM445.5 754.3h3.2v3.2h-3.2zM442.1 756.3h3.2v3.2h-3.2zM438.7 758.4h3.2v3.2h-3.2zM435.3 758.9h3.2v3.2h-3.2zM431.9 758.2h3.2v3.2h-3.2zM428.5 762.4h3.2v3.2h-3.2zM425.1 759.6h3.2v3.2h-3.2zM421.7 761h3.2v3.2h-3.2zM418.3 761.3h3.2v3.2h-3.2zM414.9 762.2h3.2v3.2h-3.2zM411.5 761.5h3.2v3.2h-3.2zM408.1 762.3h3.2v3.2h-3.2z" fill="#ff0000"/>
</g>
<g clip-path="url(#cnc)">
<path d="M44.6 779.1 L44.6 779.1 L44.6 779.1 L44.6 779.1 L44.6 779.1 L44.6 779.1 L44.6 779.1 L44.6 779.1 L44.6 779.1 L44.6 779.1 L44.6 779.1 L44.6 779.1 L44.6 779 L44.6 779 L44.6 779 L44.6 779 L44.6 779 L44.6 779 L44.7 779 L44.7 779 L44.7 779 L44.7 779 L44.7 778.9 L44.7 778.9 L44.7 778.9 L44.7 778.9 L44.7 778.9 L44.8 778.8 L44.8 778.8 L44.8 778.8 L44.8 778.7 L44.9 778.7 L44.9 778.7 L44.9 778.6 L45 778.6 L45 778.5 L45 778.4 L45.1 778.3 L45.2 778.3 L45.2 778.2 L45.3 778.1 L45.4 778 L45.5 777.8 L45.6 777.7 L45.7 777.5 L45.8 777.4 L46 777.2 L46.2 777 L46.4 776.8 L46.6 776.5 L46.8 776.3 L47.1 776 L47.4 775.7 L47.8 775.4 L48.2 775 L48.6 774.6 L49.1 774.2 L49.7 773.8 L50.3 773.4 L51 772.9 L51.8 772.5 L52.7 772 L53.6 771.6 L54.6 771.1 L55.8 770.7 L57 770.4 L58.2 770 L59.6 769.7 L61 769.5 L62.4 769.4 L63.9 769.3 L65.4 769.3 L66.8 769.4 L68.3 769.6 L69.7 769.8 L71 770.1 L72.3 770.4 L73.4 770.8 L74.5 771.2 L75.6 771.7 L76.5 772.1 L77.3 772.6 L78.1 773 L78.8 773.5 L79.4 773.9 L79.9 774.3 L80.4 774.7 L80.9 775.1 L81.3 775.4 L81.6 775.8 L81.9 776.1 L82.2 776.3 L82.4 776.6 L82.6 776.8 L82.8 777 L83 777.2 L83.1 777.4 L83.3 777.6 L83.4 777.7 L83.5 777.9 L83.6 778 L83.7 778.1 L83.7 778.2 L83.8 778.3" fill="none" stroke="#50ff50" stroke-width="0.9"/>
<path d="M44.2 777.5h3.2v3.2h-3.2zM42.4 777.6h3.2v3.2h-3.2zM42.6 777.2h3.2v3.2h-3.2zM43.2 777.6h3.2v3.2h-3.2zM42.9 777.9h3.2v3.2h-3.2zM43 776.6h3.2v3.2h-3.2zM43.6 777.1h3.2v3.2h-3.2zM43.8 776.9h3.2v3.2h-3.2zM43.5 777.4h3.2v3.2h-3.2zM41.6 776.3h3.2v3.2h-3.2zM42.6 777.9h3.2v3.2h-3.2zM42.2 777.6h3.2v3.2h-3.2zM44 777.2h3.2v3.2h-3.2zM43.8 776.5h3.2v3.2h-3.2zM43.5 776.8h3.2v3.2h-3.2zM43.9 776.9h3.2v3.2h-3.2zM43.7 775.9h3.2v3.2h-3.2zM43.7 776.3h3.2v3.2h-3.2zM43.3 775h3.2v3.2h-3.2zM44.4 775h3.2v3.2h-3.2zM44.8 773.4h3.2v3.2h-3.2zM45.3 774.3h3.2v3.2h-3.2zM46.5 772.7h3.2v3.2h-3.2zM46.7 773.4h3.2v3.2h-3.2zM48.1 773.1h3.2v3.2h-3.2zM49.6 771h3.2v3.2h-3.2zM50.8 770.6h3.2v3.2h-3.2zM51.6 770.8h3.2v3.2h-3.2zM53.7 768.7h3.2v3.2h-3.2zM56.2 768h3.2v3.2h-3.2zM59.5 768.2h3.2v3.2h-3.2zM62.4 768h3.2v3.2h-3.2zM64 768.4h3.2v3.2h-3.2zM66.6 767.8h3.2v3.2h-3.2zM69.4 768.6h3.2v3.2h-3.2zM72.5 768.9h3.2v3.2h-3.2zM74 770h3.2v3.2h-3.2zM74.7 770.2h3.2v3.2h-3.2zM76.8 771.9h3.2v3.2h-3.2zM78.2 772.8h3.2v3.2h-3.2zM79 773h3.2v3.2h-3.2zM80 773.3h3.2v3.2h-3.2zM79 774.1h3.2v3.2h-3.2zM79.4 774.5h3.2v3.2h-3.2zM80.4 774.8h3.2v3.2h-3.2zM81.4 775h3.2v3.2h-3.2zM81.3 774.4h3.2v3.2h-3.2zM82.1 775.4h3.2v3.2h-3.2zM82.5 773.8h3.2v3.2h-3.2zM81.4 776.9h3.2v3.2h-3.2z" fill="#00ee00"/>
</g><g clip-path="url(#cbc)">
<path d="M623.7 756 L621.4 755.9 L619.1 755.8 L616.9 755.6 L614.6 755.5 L612.4 755.3 L610.1 755.1 L607.8 754.9 L605.6 754.7 L603.3 754.4 L601 754.1 L598.8 753.7 L596.5 753.2 L594.2 752.7 L592 752.1 L589.7 751.5 L587.5 750.7 L585.2 749.8 L582.9 748.9 L580.7 747.8 L578.4 746.5 L576.1 745.1 L573.9 743.6 L571.6 742 L569.3 740.2 L567.1 738.3 L564.8 736.2 L562.6 734 L560.3 731.7 L558 729.3 L555.8 726.8 L553.5 724.3 L551.2 721.6 L549 718.9 L546.7 716.2 L544.4 713.4 L542.2 710.6 L539.9 707.8 L537.7 704.9 L535.4 702.1 L533.1 699.2 L530.9 696.4 L528.6 693.6 L526.3 690.8 L524.1 688.1 L521.8 685.4 L519.5 682.7 L517.3 680.1 L515 677.5 L512.8 675 L510.5 672.6 L508.2 670.2 L506 667.9 L503.7 665.6 L501.4 663.3 L499.2 661.1 L496.9 658.9 L494.6 656.7 L492.4 654.6 L490.1 652.4 L487.9 650.4 L485.6 648.3 L483.3 646.4 L481.1 644.5 L478.8 642.7 L476.5 641 L474.3 639.3 L472 637.8 L469.7 636.4 L467.5 635.1 L465.2 634 L463 632.9 L460.7 632 L458.4 631.1 L456.2 630.4 L453.9 629.7 L451.6 629.1 L449.4 628.6 L447.1 628.1 L444.8 627.7 L442.6 627.4 L440.3 627.1 L438.1 626.8 L435.8 626.6 L433.5 626.4 L431.3 626.2 L429 626.1 L426.7 625.9 L424.5 625.8 L422.2 625.7 L419.9 625.6 L417.7 625.6 L415.4 625.5 L413.2 625.4" fill="none" stroke="#50ff50" stroke-width="0.9"/>
<path d="M623.7 753.6 L621.4 752.3 L619.1 750.8 L616.9 749.2 L614.6 747.3 L612.4 745.2 L610.1 743 L607.8 740.4 L605.6 737.6 L603.3 734.5 L601 731.1 L598.8 727.3 L596.5 723.2 L594.2 718.8 L592 714 L589.7 708.8 L587.5 703.3 L585.2 697.5 L582.9 691.3 L580.7 685 L578.4 678.4 L576.1 671.7 L573.9 665 L571.6 658.3 L569.3 651.7 L567.1 645.3 L564.8 639.2 L562.6 633.3 L560.3 627.9 L558 622.8 L555.8 618.2 L553.5 614 L551.2 610.3 L549 607.1 L546.7 604.3 L544.4 602 L542.2 600.2 L539.9 598.9 L537.7 598 L535.4 597.5 L533.1 597.4 L530.9 597.8 L528.6 598.5 L526.3 599.6 L524.1 601 L521.8 602.7 L519.5 604.6 L517.3 606.8 L515 609.1 L512.8 611.6 L510.5 614.2 L508.2 616.7 L506 619.3 L503.7 621.9 L501.4 624.6 L499.2 627.2 L496.9 629.9 L494.6 632.8 L492.4 635.8 L490.1 639 L487.9 642.5 L485.6 646.3 L483.3 650.4 L481.1 654.8 L478.8 659.4 L476.5 664.4 L474.3 669.6 L472 674.9 L469.7 680.4 L467.5 685.9 L465.2 691.4 L463 696.8 L460.7 702 L458.4 707.1 L456.2 711.9 L453.9 716.5 L451.6 720.9 L449.4 724.9 L447.1 728.7 L444.8 732.1 L442.6 735.3 L440.3 738.2 L438.1 740.9 L435.8 743.3 L433.5 745.4 L431.3 747.4 L429 749.2 L426.7 750.8 L424.5 752.2 L422.2 753.5 L419.9 754.7 L417.7 755.8 L415.4 756.7 L413.2 757.5" fill="none" stroke="#50ff50" stroke-width="0.9"/>
<path d="M618.8 753h3.2v3.2h-3.2zM615.4 753.9h3.2v3.2h-3.2zM612 753.9h3.2v3.2h-3.2zM608.6 753.6h3.2v3.2h-3.2zM605.2 752.5h3.2v3.2h-3.2zM601.8 752.9h3.2v3.2h-3.2zM598.4 752.4h3.2v3.2h-3.2zM595 751.2h3.2v3.2h-3.2zM591.6 751.2h3.2v3.2h-3.2zM588.2 749.9h3.2v3.2h-3.2zM584.8 748.7h3.2v3.2h-3.2zM581.4 747.1h3.2v3.2h-3.2zM578 745.9h3.2v3.2h-3.2zM574.6 743.6h3.2v3.2h-3.2zM571.2 741.8h3.2v3.2h-3.2zM567.8 738.9h3.2v3.2h-3.2zM564.4 735.4h3.2v3.2h-3.2zM561 732.4h3.2v3.2h-3.2zM557.6 729.5h3.2v3.2h-3.2zM554.2 725.1h3.2v3.2h-3.2zM550.8 721.6h3.2v3.2h-3.2zM547.4 717.7h3.2v3.2h-3.2zM544 713.2h3.2v3.2h-3.2zM540.6 708h3.2v3.2h-3.2zM537.2 704.9h3.2v3.2h-3.2zM533.9 700.7h3.2v3.2h-3.2zM530.5 696.4h3.2v3.2h-3.2zM527.1 691.7h3.2v3.2h-3.2zM523.7 688.5h3.2v3.2h-3.2zM520.3 683.8h3.2v3.2h-3.2zM516.9 679.5h3.2v3.2h-3.2zM513.5 675.6h3.2v3.2h-3.2zM510.1 672.4h3.2v3.2h-3.2zM506.7 668.1h3.2v3.2h-3.2zM503.3 664.7h3.2v3.2h-3.2zM499.9 662.7h3.2v3.2h-3.2zM496.5 659h3.2v3.2h-3.2zM493.1 655.6h3.2v3.2h-3.2zM489.7 652.6h3.2v3.2h-3.2zM486.3 649.1h3.2v3.2h-3.2zM482.9 645h3.2v3.2h-3.2zM479.5 643.5h3.2v3.2h-3.2zM476.1 640.8h3.2v3.2h-3.2zM472.7 638h3.2v3.2h-3.2zM469.3 634.6h3.2v3.2h-3.2zM465.9 634.2h3.2v3.2h-3.2zM462.5 632.5h3.2v3.2h-3.2zM459.1 630.1h3.2v3.2h-3.2zM455.7 629.2h3.2v3.2h-3.2zM452.3 628.5h3.2v3.2h-3.2zM448.9 627.2h3.2v3.2h-3.2zM445.5 627.1h3.2v3.2h-3.2zM442.1 626h3.2v3.2h-3.2zM438.7 625.8h3.2v3.2h-3.2zM435.3 625.2h3.2v3.2h-3.2zM431.9 624.1h3.2v3.2h-3.2zM428.5 624.1h3.2v3.2h-3.2zM425.1 625.9h3.2v3.2h-3.2zM421.7 624.3h3.2v3.2h-3.2zM418.4 624.7h3.2v3.2h-3.2zM415 624.5h3.2v3.2h-3.2zM411.6 624.7h3.2v3.2h-3.2z" fill="#00ee00"/>
<path d="M618.8 750.5h3.2v3.2h-3.2zM615.4 747.1h3.2v3.2h-3.2zM612 744.8h3.2v3.2h-3.2zM608.6 739.8h3.2v3.2h-3.2zM605.2 737.4h3.2v3.2h-3.2zM601.8 733.8h3.2v3.2h-3.2zM598.4 725.9h3.2v3.2h-3.2zM595 722h3.2v3.2h-3.2zM591.6 715.8h3.2v3.2h-3.2zM588.2 708.6h3.2v3.2h-3.2zM584.8 698.2h3.2v3.2h-3.2zM581.4 689.4h3.2v3.2h-3.2zM578 678.7h3.2v3.2h-3.2zM574.6 669.5h3.2v3.2h-3.2zM571.2 660.8h3.2v3.2h-3.2zM567.8 652.2h3.2v3.2h-3.2zM564.4 639.8h3.2v3.2h-3.2zM561 633.1h3.2v3.2h-3.2zM557.6 624.2h3.2v3.2h-3.2zM554.2 616.3h3.2v3.2h-3.2zM550.8 612.5h3.2v3.2h-3.2zM547.4 603.4h3.2v3.2h-3.2zM544 601.5h3.2v3.2h-3.2zM540.6 598.9h3.2v3.2h-3.2zM537.2 598.6h3.2v3.2h-3.2zM533.9 597.5h3.2v3.2h-3.2zM530.5 597.9h3.2v3.2h-3.2zM527.1 597h3.2v3.2h-3.2zM523.7 599.4h3.2v3.2h-3.2zM520.3 602.2h3.2v3.2h-3.2zM516.9 604.5h3.2v3.2h-3.2zM513.5 607.8h3.2v3.2h-3.2zM510.1 611.1h3.2v3.2h-3.2zM506.7 614.7h3.2v3.2h-3.2zM503.3 617.9h3.2v3.2h-3.2zM499.9 624.6h3.2v3.2h-3.2zM496.5 626.5h3.2v3.2h-3.2zM493.1 629.3h3.2v3.2h-3.2zM489.7 636h3.2v3.2h-3.2zM486.3 640.8h3.2v3.2h-3.2zM482.9 646.8h3.2v3.2h-3.2zM479.5 654.7h3.2v3.2h-3.2zM476.1 660.1h3.2v3.2h-3.2zM472.7 667.7h3.2v3.2h-3.2zM469.3 675.3h3.2v3.2h-3.2zM465.9 684.2h3.2v3.2h-3.2zM462.5 692h3.2v3.2h-3.2zM459.1 700.5h3.2v3.2h-3.2zM455.7 710.6h3.2v3.2h-3.2zM452.3 715.2h3.2v3.2h-3.2zM448.9 720.5h3.2v3.2h-3.2zM445.5 728.7h3.2v3.2h-3.2zM442.1 732.9h3.2v3.2h-3.2zM438.7 737.3h3.2v3.2h-3.2zM435.3 741.1h3.2v3.2h-3.2zM431.9 744.6h3.2v3.2h-3.2zM428.5 747.3h3.2v3.2h-3.2zM425.1 750.4h3.2v3.2h-3.2zM421.7 752.2h3.2v3.2h-3.2zM418.4 754.3h3.2v3.2h-3.2zM415 754.2h3.2v3.2h-3.2zM411.6 755.9h3.2v3.2h-3.2z" fill="#00ee00"/>
</g>
<g clip-path="url(#cnc)">
<path d="M44.5 779.1 L44.5 779.1 L44.5 779.1 L44.5 779.1 L44.5 779.1 L44.6 779.1 L44.6 779.1 L44.6 779.1 L44.6 779.1 L44.6 779.1 L44.6 779.1 L44.6 779.1 L44.6 779.1 L44.6 779.1 L44.6 779 L44.6 779 L44.6 779 L44.6 779 L44.6 779 L44.6 779 L44.6 779 L44.6 779 L44.6 779 L44.6 778.9 L44.6 778.9 L44.6 778.9 L44.7 778.9 L44.7 778.9 L44.7 778.8 L44.7 778.8 L44.7 778.8 L44.8 778.7 L44.8 778.7 L44.8 778.6 L44.8 778.6 L44.9 778.5 L44.9 778.5 L45 778.4 L45 778.3 L45.1 778.2 L45.1 778.1 L45.2 778 L45.3 777.9 L45.4 777.8 L45.4 777.6 L45.6 777.4 L45.7 777.2 L45.8 777 L46 776.8 L46.1 776.5 L46.3 776.2 L46.6 775.9 L46.8 775.6 L47.1 775.2 L47.4 774.7 L47.7 774.2 L48.1 773.7 L48.6 773.1 L49.1 772.4 L49.7 771.7 L50.3 770.9 L51.1 770.1 L51.9 769.2 L52.9 768.1 L54 767 L55.2 765.9 L56.6 764.6 L58.1 763.2 L59.9 761.8 L61.9 760.3 L64.1 758.8 L66.7 757.2 L69.5 755.5 L72.5 753.9 L76 752.3 L79.7 750.8 L83.7 749.4 L88 748.1 L92.6 747.1 L97.4 746.2 L102.4 745.6 L107.5 745.2 L112.6 745.2 L117.7 745.4 L122.8 745.9 L127.7 746.6 L132.3 747.6 L136.8 748.8 L140.9 750.2 L144.8 751.7 L148.3 753.2 L151.5 754.8 L154.5 756.5 L157.1 758.1 L159.5 759.6 L161.6 761.2 L163.4 762.6 L165.1 764 L166.5 765.3 L167.8 766.5 L169 767.7 L170 768.7" fill="none" stroke="#6060ff" stroke-width="0.9"/>
<path d="M42.5 778h3.2v3.2h-3.2zM43.5 777.2h3.2v3.2h-3.2zM43.3 779h3.2v3.2h-3.2zM43.7 776.8h3.2v3.2h-3.2zM42.9 777.8h3.2v3.2h-3.2zM43 777.6h3.2v3.2h-3.2zM43.7 777.5h3.2v3.2h-3.2zM42.4 777.7h3.2v3.2h-3.2zM43 777.3h3.2v3.2h-3.2zM42.8 776.4h3.2v3.2h-3.2zM42.4 776.9h3.2v3.2h-3.2zM42.6 775.5h3.2v3.2h-3.2zM43.9 776.3h3.2v3.2h-3.2zM42.9 777.1h3.2v3.2h-3.2zM42 777.5h3.2v3.2h-3.2zM43.1 776.9h3.2v3.2h-3.2zM43.4 776.4h3.2v3.2h-3.2zM43.9 776h3.2v3.2h-3.2zM43 774.8h3.2v3.2h-3.2zM44.3 776h3.2v3.2h-3.2zM44.4 775h3.2v3.2h-3.2zM45.2 774.3h3.2v3.2h-3.2zM46.3 772.4h3.2v3.2h-3.2zM46.5 772.2h3.2v3.2h-3.2zM47 770.7h3.2v3.2h-3.2zM47.8 769.3h3.2v3.2h-3.2zM49 769.8h3.2v3.2h-3.2zM52.4 766.4h3.2v3.2h-3.2zM54 763.7h3.2v3.2h-3.2zM54.8 760.7h3.2v3.2h-3.2zM60 759.9h3.2v3.2h-3.2zM64.2 755.5h3.2v3.2h-3.2zM69.5 752.4h3.2v3.2h-3.2zM75.3 749.9h3.2v3.2h-3.2zM83.5 746.8h3.2v3.2h-3.2zM91.8 744.7h3.2v3.2h-3.2zM101.7 744.7h3.2v3.2h-3.2zM111.2 744.9h3.2v3.2h-3.2zM120 744.4h3.2v3.2h-3.2zM129.4 745.8h3.2v3.2h-3.2zM138.3 748.6h3.2v3.2h-3.2zM146.1 750.7h3.2v3.2h-3.2zM150.3 753.9h3.2v3.2h-3.2zM156.8 756.5h3.2v3.2h-3.2zM161.4 761.7h3.2v3.2h-3.2zM162.4 763.1h3.2v3.2h-3.2zM167.4 763.2h3.2v3.2h-3.2zM168.6 766.9h3.2v3.2h-3.2z" fill="#0000ff"/>
</g><g clip-path="url(#cbc)">
<path d="M623.7 758.7 L621.4 758.5 L619.1 758.4 L616.9 758.2 L614.6 758 L612.3 757.8 L610.1 757.5 L607.8 757.2 L605.5 756.8 L603.3 756.4 L601 755.9 L598.7 755.4 L596.5 754.8 L594.2 754.1 L591.9 753.3 L589.7 752.4 L587.4 751.3 L585.1 750.2 L582.9 748.9 L580.6 747.5 L578.3 746 L576.1 744.3 L573.8 742.5 L571.5 740.6 L569.3 738.5 L567 736.3 L564.7 734 L562.4 731.6 L560.2 729.2 L557.9 726.6 L555.6 724 L553.4 721.3 L551.1 718.6 L548.8 715.8 L546.6 713 L544.3 710.1 L542 707.2 L539.8 704.3 L537.5 701.4 L535.2 698.5 L533 695.6 L530.7 692.6 L528.4 689.7 L526.2 686.8 L523.9 683.9 L521.6 681 L519.4 678.1 L517.1 675.3 L514.8 672.5 L512.6 669.7 L510.3 667 L508 664.3 L505.8 661.6 L503.5 659 L501.2 656.5 L499 653.9 L496.7 651.5 L494.4 649 L492.2 646.6 L489.9 644.2 L487.6 641.8 L485.4 639.5 L483.1 637.1 L480.8 634.7 L478.6 632.4 L476.3 630 L474 627.7 L471.7 625.4 L469.5 623.1 L467.2 620.8 L464.9 618.6 L462.7 616.4 L460.4 614.3 L458.1 612.3 L455.9 610.4 L453.6 608.7 L451.3 607 L449.1 605.5 L446.8 604.1 L444.5 602.8 L442.3 601.6 L440 600.6 L437.7 599.7 L435.5 598.9 L433.2 598.2 L430.9 597.6 L428.7 597 L426.4 596.6 L424.1 596.2 L421.9 595.8 L419.6 595.5" fill="none" stroke="#6060ff" stroke-width="0.9"/>
<path d="M623.7 749.9 L621.4 748.2 L619.1 746.3 L616.9 744.1 L614.6 741.8 L612.3 739.1 L610.1 736.2 L607.8 733.1 L605.5 729.6 L603.3 725.7 L601 721.6 L598.7 717.1 L596.5 712.2 L594.2 707 L591.9 701.5 L589.7 695.7 L587.4 689.6 L585.1 683.3 L582.9 676.8 L580.6 670.2 L578.3 663.6 L576.1 657 L573.8 650.5 L571.5 644.2 L569.3 638.1 L567 632.2 L564.7 626.7 L562.4 621.6 L560.2 616.8 L557.9 612.4 L555.6 608.4 L553.4 604.8 L551.1 601.6 L548.8 598.8 L546.6 596.3 L544.3 594.2 L542 592.4 L539.8 590.9 L537.5 589.8 L535.2 588.9 L533 588.3 L530.7 588.1 L528.4 588 L526.2 588.3 L523.9 588.8 L521.6 589.5 L519.4 590.4 L517.1 591.6 L514.8 592.9 L512.6 594.5 L510.3 596.1 L508 597.9 L505.8 599.8 L503.5 601.8 L501.2 603.8 L499 605.7 L496.7 607.7 L494.4 609.5 L492.2 611.3 L489.9 613 L487.6 614.6 L485.4 616.2 L483.1 617.8 L480.8 619.5 L478.6 621.2 L476.3 623.2 L474 625.4 L471.7 627.9 L469.5 630.7 L467.2 634 L464.9 637.6 L462.7 641.7 L460.4 646.2 L458.1 651.1 L455.9 656.4 L453.6 661.9 L451.3 667.7 L449.1 673.7 L446.8 679.7 L444.5 685.7 L442.3 691.7 L440 697.5 L437.7 703.1 L435.5 708.4 L433.2 713.5 L430.9 718.2 L428.7 722.6 L426.4 726.7 L424.1 730.5 L421.9 733.9 L419.6 737.1" fill="none" stroke="#6060ff" stroke-width="0.9"/>
<path d="M618.8 756.2h3.2v3.2h-3.2zM615.4 757.3h3.2v3.2h-3.2zM612 756.4h3.2v3.2h-3.2zM608.6 755.7h3.2v3.2h-3.2zM605.2 755.6h3.2v3.2h-3.2zM601.8 755.1h3.2v3.2h-3.2zM598.4 754.5h3.2v3.2h-3.2zM595 753.5h3.2v3.2h-3.2zM591.6 752.3h3.2v3.2h-3.2zM588.2 750.2h3.2v3.2h-3.2zM584.7 749h3.2v3.2h-3.2zM581.3 747.4h3.2v3.2h-3.2zM577.9 743.9h3.2v3.2h-3.2zM574.5 743.8h3.2v3.2h-3.2zM571.1 739.8h3.2v3.2h-3.2zM567.7 736.5h3.2v3.2h-3.2zM564.3 732.8h3.2v3.2h-3.2zM560.9 730.2h3.2v3.2h-3.2zM557.5 726.4h3.2v3.2h-3.2zM554.1 722.2h3.2v3.2h-3.2zM550.7 718.2h3.2v3.2h-3.2zM547.3 713.8h3.2v3.2h-3.2zM543.9 709.7h3.2v3.2h-3.2zM540.5 705.7h3.2v3.2h-3.2zM537.1 701h3.2v3.2h-3.2zM533.7 697.3h3.2v3.2h-3.2zM530.3 692.5h3.2v3.2h-3.2zM526.9 688.3h3.2v3.2h-3.2zM523.5 684h3.2v3.2h-3.2zM520.1 680.1h3.2v3.2h-3.2zM516.7 675.5h3.2v3.2h-3.2zM513.3 671.1h3.2v3.2h-3.2zM509.9 666.7h3.2v3.2h-3.2zM506.5 662.3h3.2v3.2h-3.2zM503.1 658.6h3.2v3.2h-3.2zM499.7 655.2h3.2v3.2h-3.2zM496.3 651.2h3.2v3.2h-3.2zM492.9 647.3h3.2v3.2h-3.2zM489.5 643.2h3.2v3.2h-3.2zM486.1 639.5h3.2v3.2h-3.2zM482.7 636.9h3.2v3.2h-3.2zM479.3 633.7h3.2v3.2h-3.2zM475.8 629.8h3.2v3.2h-3.2zM472.4 625.5h3.2v3.2h-3.2zM469 622.5h3.2v3.2h-3.2zM465.6 619.3h3.2v3.2h-3.2zM462.2 615.5h3.2v3.2h-3.2zM458.8 612.9h3.2v3.2h-3.2zM455.4 609.7h3.2v3.2h-3.2zM452 606.7h3.2v3.2h-3.2zM448.6 604h3.2v3.2h-3.2zM445.2 602.9h3.2v3.2h-3.2zM441.8 600.8h3.2v3.2h-3.2zM438.4 598.6h3.2v3.2h-3.2zM435 597.2h3.2v3.2h-3.2zM431.6 597h3.2v3.2h-3.2zM428.2 596h3.2v3.2h-3.2zM424.8 594.8h3.2v3.2h-3.2zM421.4 595.2h3.2v3.2h-3.2zM418 593.8h3.2v3.2h-3.2z" fill="#0000ff"/>
<path d="M618.8 744.8h3.2v3.2h-3.2zM615.4 743.6h3.2v3.2h-3.2zM612 738.8h3.2v3.2h-3.2zM608.6 735.1h3.2v3.2h-3.2zM605.2 729.9h3.2v3.2h-3.2zM601.8 723.4h3.2v3.2h-3.2zM598.4 716.9h3.2v3.2h-3.2zM595 710.7h3.2v3.2h-3.2zM591.6 704.2h3.2v3.2h-3.2zM588.2 693.4h3.2v3.2h-3.2zM584.7 686.3h3.2v3.2h-3.2zM581.3 675.6h3.2v3.2h-3.2zM577.9 664.6h3.2v3.2h-3.2zM574.5 655.9h3.2v3.2h-3.2zM571.1 646.4h3.2v3.2h-3.2zM567.7 635.9h3.2v3.2h-3.2zM564.3 626.2h3.2v3.2h-3.2zM560.9 620.5h3.2v3.2h-3.2zM557.5 612.1h3.2v3.2h-3.2zM554.1 607.3h3.2v3.2h-3.2zM550.7 600h3.2v3.2h-3.2zM547.3 597.1h3.2v3.2h-3.2zM543.9 592.9h3.2v3.2h-3.2zM540.5 589.5h3.2v3.2h-3.2zM537.1 588.5h3.2v3.2h-3.2zM533.7 587.5h3.2v3.2h-3.2zM530.3 586.1h3.2v3.2h-3.2zM526.9 585.4h3.2v3.2h-3.2zM523.5 587.1h3.2v3.2h-3.2zM520.1 586.3h3.2v3.2h-3.2zM516.7 589.8h3.2v3.2h-3.2zM513.3 591.7h3.2v3.2h-3.2zM509.9 595.1h3.2v3.2h-3.2zM506.5 597.1h3.2v3.2h-3.2zM503.1 599.5h3.2v3.2h-3.2zM499.7 602.4h3.2v3.2h-3.2zM496.3 605.1h3.2v3.2h-3.2zM492.9 606.7h3.2v3.2h-3.2zM489.5 611.8h3.2v3.2h-3.2zM486.1 613.5h3.2v3.2h-3.2zM482.7 615.1h3.2v3.2h-3.2zM479.3 616.8h3.2v3.2h-3.2zM475.8 621.9h3.2v3.2h-3.2zM472.4 624.2h3.2v3.2h-3.2zM469 626.6h3.2v3.2h-3.2zM465.6 632.9h3.2v3.2h-3.2zM462.2 639.6h3.2v3.2h-3.2zM458.8 644.6h3.2v3.2h-3.2zM455.4 652.4h3.2v3.2h-3.2zM452 659.9h3.2v3.2h-3.2zM448.6 668.5h3.2v3.2h-3.2zM445.2 679h3.2v3.2h-3.2zM441.8 689.8h3.2v3.2h-3.2zM438.4 696h3.2v3.2h-3.2zM435 704.1h3.2v3.2h-3.2zM431.6 712.6h3.2v3.2h-3.2zM428.2 718.6h3.2v3.2h-3.2zM424.8 725.8h3.2v3.2h-3.2zM421.4 731.4h3.2v3.2h-3.2zM418 734.6h3.2v3.2h-3.2z" fill="#0000ff"/>
</g>
<g clip-path="url(#cnc)">
<path d="M44.5 779.1 L44.5 779.1 L44.5 779.1 L44.5 779.1 L44.5 779.1 L44.5 779.1 L44.5 779.1 L44.6 779.1 L44.6 779.1 L44.6 779.1 L44.6 779.1 L44.6 779.1 L44.6 779.1 L44.6 779.1 L44.6 779.1 L44.6 779 L44.6 779 L44.6 779 L44.6 779 L44.6 779 L44.6 779 L44.6 779 L44.6 779 L44.6 779 L44.6 779 L44.6 778.9 L44.7 778.9 L44.7 778.9 L44.7 778.9 L44.7 778.9 L44.7 778.8 L44.7 778.8 L44.8 778.8 L44.8 778.7 L44.8 778.7 L44.8 778.7 L44.9 778.6 L44.9 778.6 L44.9 778.5 L45 778.4 L45 778.4 L45.1 778.3 L45.2 778.2 L45.2 778.1 L45.3 778 L45.4 777.8 L45.5 777.7 L45.6 777.6 L45.7 777.4 L45.8 777.2 L46 777 L46.2 776.8 L46.3 776.5 L46.5 776.2 L46.8 775.9 L47 775.6 L47.3 775.2 L47.6 774.7 L48 774.3 L48.4 773.8 L48.8 773.2 L49.3 772.5 L49.8 771.8 L50.4 771.1 L51.1 770.2 L51.9 769.3 L52.7 768.3 L53.7 767.2 L54.7 765.9 L56 764.6 L57.3 763.1 L58.8 761.6 L60.5 759.8 L62.4 758 L64.6 756 L67 753.8 L69.6 751.5 L72.7 749.1 L76 746.5 L79.8 743.8 L84 740.9 L88.6 738 L93.7 735.1 L99.4 732.1 L105.6 729.1 L112.3 726.2 L119.6 723.4 L127.4 720.8 L135.8 718.5 L144.6 716.5 L153.8 714.8 L163.3 713.6 L173.1 712.8 L183 712.5 L192.8 712.7 L202.6 713.4 L212.2 714.6 L221.4 716.2 L230.3 718.2 L238.7 720.5 L246.7 723 L254 725.8 L260.9 728.7 L267.1 731.6 L272.8 734.6 L278.1 737.6" fill="none" stroke="#ffa0ff" stroke-width="0.9"/>
<path d="M42.3 777.4h3.2v3.2h-3.2zM43.5 777.6h3.2v3.2h-3.2zM43.7 776.6h3.2v3.2h-3.2zM43.3 777.1h3.2v3.2h-3.2zM43.1 777.6h3.2v3.2h-3.2zM42.4 777.3h3.2v3.2h-3.2zM42.3 777.5h3.2v3.2h-3.2zM42.5 777.1h3.2v3.2h-3.2zM43.2 776.9h3.2v3.2h-3.2zM43.8 776.9h3.2v3.2h-3.2zM43.6 777.4h3.2v3.2h-3.2zM42.6 777h3.2v3.2h-3.2zM42.7 776.9h3.2v3.2h-3.2zM43.1 778.1h3.2v3.2h-3.2zM43.1 777.8h3.2v3.2h-3.2zM43.7 776h3.2v3.2h-3.2zM42.2 777h3.2v3.2h-3.2zM42.5 776.8h3.2v3.2h-3.2zM44.4 776.4h3.2v3.2h-3.2zM43.9 775.8h3.2v3.2h-3.2zM44.4 775.4h3.2v3.2h-3.2zM44.2 774.9h3.2v3.2h-3.2zM45.6 774.3h3.2v3.2h-3.2zM45.6 773.4h3.2v3.2h-3.2zM45.5 772.5h3.2v3.2h-3.2zM46.4 772.8h3.2v3.2h-3.2zM47.5 771.1h3.2v3.2h-3.2zM48.7 769.9h3.2v3.2h-3.2zM49.8 768.7h3.2v3.2h-3.2zM51.4 765.3h3.2v3.2h-3.2zM52.1 765.1h3.2v3.2h-3.2zM55.1 763.4h3.2v3.2h-3.2zM57.9 758.8h3.2v3.2h-3.2zM62.4 756h3.2v3.2h-3.2zM67 752h3.2v3.2h-3.2zM71.2 747.7h3.2v3.2h-3.2zM77.5 742.1h3.2v3.2h-3.2zM85.7 736.9h3.2v3.2h-3.2zM96.3 731.2h3.2v3.2h-3.2zM107.6 725.7h3.2v3.2h-3.2zM121.5 719.2h3.2v3.2h-3.2zM136.2 716.5h3.2v3.2h-3.2zM152.2 714h3.2v3.2h-3.2zM171.4 712.5h3.2v3.2h-3.2zM190.5 711.7h3.2v3.2h-3.2zM207.5 711.6h3.2v3.2h-3.2zM224.6 715.2h3.2v3.2h-3.2zM240.7 719.5h3.2v3.2h-3.2zM257.3 723.4h3.2v3.2h-3.2zM267.5 730h3.2v3.2h-3.2zM276.2 736.9h3.2v3.2h-3.2z" fill="#ff80ff"/>
</g><g clip-path="url(#cbc)">
<path d="M623.7 757.4 L621.4 757.2 L619.2 757 L616.9 756.8 L614.7 756.5 L612.4 756.2 L610.2 755.9 L607.9 755.5 L605.7 755.1 L603.4 754.6 L601.2 754 L598.9 753.3 L596.6 752.6 L594.4 751.8 L592.1 750.8 L589.9 749.8 L587.6 748.6 L585.4 747.4 L583.1 745.9 L580.9 744.4 L578.6 742.8 L576.4 741 L574.1 739.1 L571.9 737 L569.6 734.9 L567.4 732.7 L565.1 730.3 L562.9 727.9 L560.6 725.4 L558.4 722.9 L556.1 720.3 L553.9 717.6 L551.6 714.9 L549.4 712.1 L547.1 709.4 L544.9 706.5 L542.6 703.7 L540.4 700.8 L538.1 698 L535.9 695.1 L533.6 692.2 L531.3 689.3 L529.1 686.4 L526.8 683.5 L524.6 680.6 L522.3 677.7 L520.1 674.8 L517.8 672 L515.6 669.1 L513.3 666.3 L511.1 663.5 L508.8 660.7 L506.6 658 L504.3 655.3 L502.1 652.7 L499.8 650.1 L497.6 647.5 L495.3 645 L493.1 642.6 L490.8 640.2 L488.6 637.8 L486.3 635.4 L484.1 633.1 L481.8 630.8 L479.6 628.6 L477.3 626.3 L475.1 624 L472.8 621.7 L470.5 619.5 L468.3 617.2 L466 614.9 L463.8 612.6 L461.5 610.4 L459.3 608.1 L457 605.9 L454.8 603.8 L452.5 601.6 L450.3 599.6 L448 597.6 L445.8 595.7 L443.5 593.9 L441.3 592.2 L439 590.6 L436.8 589.1 L434.5 587.7 L432.3 586.5 L430 585.3 L427.8 584.3 L425.5 583.3 L423.3 582.5 L421 581.7 L418.8 581.1 L416.5 580.5 L414.3 580 L412 579.5 L409.8 579.1" fill="none" stroke="#ffa0ff" stroke-width="0.9"/>
<path d="M623.7 747 L621.4 745 L619.2 742.7 L616.9 740.3 L614.7 737.6 L612.4 734.7 L610.2 731.4 L607.9 727.9 L605.7 724.1 L603.4 719.9 L601.2 715.4 L598.9 710.6 L596.6 705.5 L594.4 700.2 L592.1 694.5 L589.9 688.6 L587.6 682.5 L585.4 676.3 L583.1 670 L580.9 663.6 L578.6 657.3 L576.4 651.1 L574.1 645.1 L571.9 639.3 L569.6 633.7 L567.4 628.4 L565.1 623.4 L562.9 618.8 L560.6 614.4 L558.4 610.5 L556.1 606.9 L553.9 603.6 L551.6 600.6 L549.4 598 L547.1 595.7 L544.9 593.7 L542.6 592 L540.4 590.5 L538.1 589.3 L535.9 588.4 L533.6 587.6 L531.3 587.2 L529.1 586.9 L526.8 586.9 L524.6 587.1 L522.3 587.5 L520.1 588.1 L517.8 588.9 L515.6 589.9 L513.3 591.1 L511.1 592.5 L508.8 594 L506.6 595.7 L504.3 597.6 L502.1 599.5 L499.8 601.5 L497.6 603.6 L495.3 605.6 L493.1 607.7 L490.8 609.7 L488.6 611.5 L486.3 613.3 L484.1 614.9 L481.8 616.4 L479.6 617.8 L477.3 619.1 L475.1 620.4 L472.8 621.7 L470.5 623 L468.3 624.5 L466 626.1 L463.8 627.9 L461.5 630 L459.3 632.5 L457 635.3 L454.8 638.4 L452.5 641.9 L450.3 645.8 L448 650 L445.8 654.5 L443.5 659.4 L441.3 664.5 L439 669.8 L436.8 675.2 L434.5 680.6 L432.3 686.1 L430 691.6 L427.8 696.9 L425.5 702.1 L423.3 707 L421 711.8 L418.8 716.3 L416.5 720.5 L414.3 724.5 L412 728.2 L409.8 731.6" fill="none" stroke="#ffa0ff" stroke-width="0.9"/>
<path d="M618.8 755.5h3.2v3.2h-3.2zM615.4 754.6h3.2v3.2h-3.2zM612 755h3.2v3.2h-3.2zM608.6 754.2h3.2v3.2h-3.2zM605.2 752.7h3.2v3.2h-3.2zM601.8 753.1h3.2v3.2h-3.2zM598.4 751.6h3.2v3.2h-3.2zM595 750.6h3.2v3.2h-3.2zM591.6 749.9h3.2v3.2h-3.2zM588.2 748.3h3.2v3.2h-3.2zM584.8 746.2h3.2v3.2h-3.2zM581.4 745.3h3.2v3.2h-3.2zM578 742.1h3.2v3.2h-3.2zM574.6 738.9h3.2v3.2h-3.2zM571.2 736.4h3.2v3.2h-3.2zM567.8 733h3.2v3.2h-3.2zM564.4 728.6h3.2v3.2h-3.2zM561 725.3h3.2v3.2h-3.2zM557.6 721.6h3.2v3.2h-3.2zM554.2 719.3h3.2v3.2h-3.2zM550.8 714.2h3.2v3.2h-3.2zM547.4 710h3.2v3.2h-3.2zM544 705.6h3.2v3.2h-3.2zM540.6 702.1h3.2v3.2h-3.2zM537.2 697.3h3.2v3.2h-3.2zM533.8 693.8h3.2v3.2h-3.2zM530.5 689h3.2v3.2h-3.2zM527.1 685h3.2v3.2h-3.2zM523.7 679.8h3.2v3.2h-3.2zM520.3 675.7h3.2v3.2h-3.2zM516.9 670.9h3.2v3.2h-3.2zM513.5 666.8h3.2v3.2h-3.2zM510.1 661.8h3.2v3.2h-3.2zM506.7 658.2h3.2v3.2h-3.2zM503.3 653.9h3.2v3.2h-3.2zM499.9 650.1h3.2v3.2h-3.2zM496.5 647.1h3.2v3.2h-3.2zM493.1 642.9h3.2v3.2h-3.2zM489.7 639.7h3.2v3.2h-3.2zM486.3 635.9h3.2v3.2h-3.2zM482.9 632.4h3.2v3.2h-3.2zM479.5 629h3.2v3.2h-3.2zM476.1 624.8h3.2v3.2h-3.2zM472.7 622h3.2v3.2h-3.2zM469.3 618.1h3.2v3.2h-3.2zM465.9 614.5h3.2v3.2h-3.2zM462.5 611.9h3.2v3.2h-3.2zM459.1 609h3.2v3.2h-3.2zM455.7 604.1h3.2v3.2h-3.2zM452.3 602.2h3.2v3.2h-3.2zM448.9 598.6h3.2v3.2h-3.2zM445.5 594.8h3.2v3.2h-3.2zM442.1 592.6h3.2v3.2h-3.2zM438.7 590.1h3.2v3.2h-3.2zM435.3 587.8h3.2v3.2h-3.2zM431.9 585.4h3.2v3.2h-3.2zM428.5 583.1h3.2v3.2h-3.2zM425.1 582.2h3.2v3.2h-3.2zM421.7 581.3h3.2v3.2h-3.2zM418.3 580.2h3.2v3.2h-3.2zM414.9 579.2h3.2v3.2h-3.2zM411.5 578.6h3.2v3.2h-3.2zM408.1 577h3.2v3.2h-3.2z" fill="#ff80ff"/>
<path d="M618.8 742.3h3.2v3.2h-3.2zM615.4 739.1h3.2v3.2h-3.2zM612 735.5h3.2v3.2h-3.2zM608.6 730h3.2v3.2h-3.2zM605.2 724.9h3.2v3.2h-3.2zM601.8 718.4h3.2v3.2h-3.2zM598.4 713.2h3.2v3.2h-3.2zM595 701.9h3.2v3.2h-3.2zM591.6 695.6h3.2v3.2h-3.2zM588.2 688.9h3.2v3.2h-3.2zM584.8 677.7h3.2v3.2h-3.2zM581.4 666.4h3.2v3.2h-3.2zM578 658.6h3.2v3.2h-3.2zM574.6 647.8h3.2v3.2h-3.2zM571.2 639.5h3.2v3.2h-3.2zM567.8 631.8h3.2v3.2h-3.2zM564.4 625.2h3.2v3.2h-3.2zM561 617.1h3.2v3.2h-3.2zM557.6 610.9h3.2v3.2h-3.2zM554.2 605.7h3.2v3.2h-3.2zM550.8 600.3h3.2v3.2h-3.2zM547.4 595.3h3.2v3.2h-3.2zM544 592.7h3.2v3.2h-3.2zM540.6 590.4h3.2v3.2h-3.2zM537.2 587.8h3.2v3.2h-3.2zM533.8 586h3.2v3.2h-3.2zM530.5 585.4h3.2v3.2h-3.2zM527.1 584h3.2v3.2h-3.2zM523.7 584.5h3.2v3.2h-3.2zM520.3 585.9h3.2v3.2h-3.2zM516.9 586.7h3.2v3.2h-3.2zM513.5 588.6h3.2v3.2h-3.2zM510.1 591.7h3.2v3.2h-3.2zM506.7 593.1h3.2v3.2h-3.2zM503.3 595.5h3.2v3.2h-3.2zM499.9 597.4h3.2v3.2h-3.2zM496.5 600.6h3.2v3.2h-3.2zM493.1 605h3.2v3.2h-3.2zM489.7 606.9h3.2v3.2h-3.2zM486.3 610.8h3.2v3.2h-3.2zM482.9 612.1h3.2v3.2h-3.2zM479.5 615.4h3.2v3.2h-3.2zM476.1 617.2h3.2v3.2h-3.2zM472.7 620.1h3.2v3.2h-3.2zM469.3 620.9h3.2v3.2h-3.2zM465.9 623.1h3.2v3.2h-3.2zM462.5 626.3h3.2v3.2h-3.2zM459.1 629.4h3.2v3.2h-3.2zM455.7 634.8h3.2v3.2h-3.2zM452.3 637.9h3.2v3.2h-3.2zM448.9 643.3h3.2v3.2h-3.2zM445.5 649.9h3.2v3.2h-3.2zM442.1 657.8h3.2v3.2h-3.2zM438.7 665.3h3.2v3.2h-3.2zM435.3 673.8h3.2v3.2h-3.2zM431.9 680.3h3.2v3.2h-3.2zM428.5 691.8h3.2v3.2h-3.2zM425.1 699.3h3.2v3.2h-3.2zM421.7 705.3h3.2v3.2h-3.2zM418.3 711.3h3.2v3.2h-3.2zM414.9 719h3.2v3.2h-3.2zM411.5 725.1h3.2v3.2h-3.2zM408.1 728.1h3.2v3.2h-3.2z" fill="#ff80ff"/>
</g>
<line x1="61.3" y1="779.1" x2="61.3" y2="776.9" stroke="#222" stroke-width="1"/>
<line x1="78.3" y1="779.1" x2="78.3" y2="775.1" stroke="#222" stroke-width="1"/>
<line x1="95.3" y1="779.1" x2="95.3" y2="776.9" stroke="#222" stroke-width="1"/>
<line x1="112.3" y1="779.1" x2="112.3" y2="775.1" stroke="#222" stroke-width="1"/>
<line x1="129.3" y1="779.1" x2="129.3" y2="776.9" stroke="#222" stroke-width="1"/>
<line x1="146.3" y1="779.1" x2="146.3" y2="775.1" stroke="#222" stroke-width="1"/>
<line x1="163.3" y1="779.1" x2="163.3" y2="776.9" stroke="#222" stroke-width="1"/>
<line x1="180.2" y1="779.1" x2="180.2" y2="775.1" stroke="#222" stroke-width="1"/>
<line x1="197.2" y1="779.1" x2="197.2" y2="776.9" stroke="#222" stroke-width="1"/>
<line x1="214.2" y1="779.1" x2="214.2" y2="775.1" stroke="#222" stroke-width="1"/>
<line x1="231.2" y1="779.1" x2="231.2" y2="776.9" stroke="#222" stroke-width="1"/>
<line x1="248.2" y1="779.1" x2="248.2" y2="775.1" stroke="#222" stroke-width="1"/>
<line x1="265.2" y1="779.1" x2="265.2" y2="776.9" stroke="#222" stroke-width="1"/>
<line x1="282.2" y1="779.1" x2="282.2" y2="775.1" stroke="#222" stroke-width="1"/>
<line x1="299.2" y1="779.1" x2="299.2" y2="776.9" stroke="#222" stroke-width="1"/>
<line x1="44.3" y1="765.5" x2="46.5" y2="765.5" stroke="#222" stroke-width="1"/>
<line x1="44.3" y1="751.8" x2="48.3" y2="751.8" stroke="#222" stroke-width="1"/>
<line x1="44.3" y1="738.1" x2="46.5" y2="738.1" stroke="#222" stroke-width="1"/>
<line x1="44.3" y1="724.5" x2="48.3" y2="724.5" stroke="#222" stroke-width="1"/>
<line x1="44.3" y1="710.9" x2="46.5" y2="710.9" stroke="#222" stroke-width="1"/>
<line x1="44.3" y1="697.2" x2="48.3" y2="697.2" stroke="#222" stroke-width="1"/>
<line x1="44.3" y1="683.6" x2="46.5" y2="683.6" stroke="#222" stroke-width="1"/>
<line x1="44.3" y1="669.9" x2="48.3" y2="669.9" stroke="#222" stroke-width="1"/>
<line x1="44.3" y1="656.2" x2="46.5" y2="656.2" stroke="#222" stroke-width="1"/>
<line x1="44.3" y1="642.6" x2="48.3" y2="642.6" stroke="#222" stroke-width="1"/>
<line x1="44.3" y1="629" x2="46.5" y2="629" stroke="#222" stroke-width="1"/>
<line x1="44.3" y1="615.3" x2="48.3" y2="615.3" stroke="#222" stroke-width="1"/>
<line x1="44.3" y1="601.7" x2="46.5" y2="601.7" stroke="#222" stroke-width="1"/>
<line x1="44.3" y1="588" x2="48.3" y2="588" stroke="#222" stroke-width="1"/>
<line x1="44.3" y1="574.4" x2="46.5" y2="574.4" stroke="#222" stroke-width="1"/>
<text x="44.3" y="791.6" font-family='"Liberation Sans", sans-serif' font-size="10.2" text-anchor="middle" font-weight="normal" fill="#000" stroke="#000" stroke-width="0.25" textLength="4.7" lengthAdjust="spacingAndGlyphs">0</text>
<text x="78.3" y="791.6" font-family='"Liberation Sans", sans-serif' font-size="10.2" text-anchor="middle" font-weight="normal" fill="#000" stroke="#000" stroke-width="0.25" textLength="14" lengthAdjust="spacingAndGlyphs">500</text>
<text x="112.3" y="791.6" font-family='"Liberation Sans", sans-serif' font-size="10.2" text-anchor="middle" font-weight="normal" fill="#000" stroke="#000" stroke-width="0.25" textLength="18.6" lengthAdjust="spacingAndGlyphs">1000</text>
<text x="146.3" y="791.6" font-family='"Liberation Sans", sans-serif' font-size="10.2" text-anchor="middle" font-weight="normal" fill="#000" stroke="#000" stroke-width="0.25" textLength="18.6" lengthAdjust="spacingAndGlyphs">1500</text>
<text x="180.2" y="791.6" font-family='"Liberation Sans", sans-serif' font-size="10.2" text-anchor="middle" font-weight="normal" fill="#000" stroke="#000" stroke-width="0.25" textLength="18.6" lengthAdjust="spacingAndGlyphs">2000</text>
<text x="214.2" y="791.6" font-family='"Liberation Sans", sans-serif' font-size="10.2" text-anchor="middle" font-weight="normal" fill="#000" stroke="#000" stroke-width="0.25" textLength="18.6" lengthAdjust="spacingAndGlyphs">2500</text>
<text x="248.2" y="791.6" font-family='"Liberation Sans", sans-serif' font-size="10.2" text-anchor="middle" font-weight="normal" fill="#000" stroke="#000" stroke-width="0.25" textLength="18.6" lengthAdjust="spacingAndGlyphs">3000</text>
<text x="282.2" y="791.6" font-family='"Liberation Sans", sans-serif' font-size="10.2" text-anchor="middle" font-weight="normal" fill="#000" stroke="#000" stroke-width="0.25" textLength="18.6" lengthAdjust="spacingAndGlyphs">3500</text>
<text x="316.2" y="791.6" font-family='"Liberation Sans", sans-serif' font-size="10.2" text-anchor="middle" font-weight="normal" fill="#000" stroke="#000" stroke-width="0.25" textLength="18.6" lengthAdjust="spacingAndGlyphs">4000</text>
<text x="39" y="782.7" font-family='"Liberation Sans", sans-serif' font-size="10.2" text-anchor="end" font-weight="normal" fill="#000" stroke="#000" stroke-width="0.25" textLength="4.7" lengthAdjust="spacingAndGlyphs">0</text>
<text x="39" y="755.4" font-family='"Liberation Sans", sans-serif' font-size="10.2" text-anchor="end" font-weight="normal" fill="#000" stroke="#000" stroke-width="0.25" textLength="18" lengthAdjust="spacingAndGlyphs">−500</text>
<text x="39" y="728.1" font-family='"Liberation Sans", sans-serif' font-size="10.2" text-anchor="end" font-weight="normal" fill="#000" stroke="#000" stroke-width="0.25" textLength="22.6" lengthAdjust="spacingAndGlyphs">−1000</text>
<text x="39" y="700.8" font-family='"Liberation Sans", sans-serif' font-size="10.2" text-anchor="end" font-weight="normal" fill="#000" stroke="#000" stroke-width="0.25" textLength="22.6" lengthAdjust="spacingAndGlyphs">−1500</text>
<text x="39" y="673.5" font-family='"Liberation Sans", sans-serif' font-size="10.2" text-anchor="end" font-weight="normal" fill="#000" stroke="#000" stroke-width="0.25" textLength="22.6" lengthAdjust="spacingAndGlyphs">−2000</text>
<text x="39" y="646.2" font-family='"Liberation Sans", sans-serif' font-size="10.2" text-anchor="end" font-weight="normal" fill="#000" stroke="#000" stroke-width="0.25" textLength="22.6" lengthAdjust="spacingAndGlyphs">−2500</text>
<text x="39" y="618.9" font-family='"Liberation Sans", sans-serif' font-size="10.2" text-anchor="end" font-weight="normal" fill="#000" stroke="#000" stroke-width="0.25" textLength="22.6" lengthAdjust="spacingAndGlyphs">−3000</text>
<text x="39" y="591.6" font-family='"Liberation Sans", sans-serif' font-size="10.2" text-anchor="end" font-weight="normal" fill="#000" stroke="#000" stroke-width="0.25" textLength="22.6" lengthAdjust="spacingAndGlyphs">−3500</text>
<text x="39" y="564.3" font-family='"Liberation Sans", sans-serif' font-size="10.2" text-anchor="end" font-weight="normal" fill="#000" stroke="#000" stroke-width="0.25" textLength="22.6" lengthAdjust="spacingAndGlyphs">−4000</text>
<rect x="44.3" y="560.7" width="271.9" height="218.4" fill="none" stroke="#222" stroke-width="1.3"/>
<line x1="386" y1="779.1" x2="386" y2="776.9" stroke="#222" stroke-width="1"/>
<line x1="392" y1="779.1" x2="392" y2="776.9" stroke="#222" stroke-width="1"/>
<line x1="396.2" y1="779.1" x2="396.2" y2="776.9" stroke="#222" stroke-width="1"/>
<line x1="399.5" y1="779.1" x2="399.5" y2="776.9" stroke="#222" stroke-width="1"/>
<line x1="402.2" y1="779.1" x2="402.2" y2="776.9" stroke="#222" stroke-width="1"/>
<line x1="404.5" y1="779.1" x2="404.5" y2="776.9" stroke="#222" stroke-width="1"/>
<line x1="406.5" y1="779.1" x2="406.5" y2="776.9" stroke="#222" stroke-width="1"/>
<line x1="408.2" y1="779.1" x2="408.2" y2="776.9" stroke="#222" stroke-width="1"/>
<line x1="409.8" y1="779.1" x2="409.8" y2="775.1" stroke="#222" stroke-width="1"/>
<line x1="420" y1="779.1" x2="420" y2="776.9" stroke="#222" stroke-width="1"/>
<line x1="425.9" y1="779.1" x2="425.9" y2="776.9" stroke="#222" stroke-width="1"/>
<line x1="430.2" y1="779.1" x2="430.2" y2="776.9" stroke="#222" stroke-width="1"/>
<line x1="433.5" y1="779.1" x2="433.5" y2="776.9" stroke="#222" stroke-width="1"/>
<line x1="436.2" y1="779.1" x2="436.2" y2="776.9" stroke="#222" stroke-width="1"/>
<line x1="438.4" y1="779.1" x2="438.4" y2="776.9" stroke="#222" stroke-width="1"/>
<line x1="440.4" y1="779.1" x2="440.4" y2="776.9" stroke="#222" stroke-width="1"/>
<line x1="442.1" y1="779.1" x2="442.1" y2="776.9" stroke="#222" stroke-width="1"/>
<line x1="443.7" y1="779.1" x2="443.7" y2="775.1" stroke="#222" stroke-width="1"/>
<line x1="453.9" y1="779.1" x2="453.9" y2="776.9" stroke="#222" stroke-width="1"/>
<line x1="459.9" y1="779.1" x2="459.9" y2="776.9" stroke="#222" stroke-width="1"/>
<line x1="464.1" y1="779.1" x2="464.1" y2="776.9" stroke="#222" stroke-width="1"/>
<line x1="467.4" y1="779.1" x2="467.4" y2="776.9" stroke="#222" stroke-width="1"/>
<line x1="470.1" y1="779.1" x2="470.1" y2="776.9" stroke="#222" stroke-width="1"/>
<line x1="472.4" y1="779.1" x2="472.4" y2="776.9" stroke="#222" stroke-width="1"/>
<line x1="474.4" y1="779.1" x2="474.4" y2="776.9" stroke="#222" stroke-width="1"/>
<line x1="476.1" y1="779.1" x2="476.1" y2="776.9" stroke="#222" stroke-width="1"/>
<line x1="477.6" y1="779.1" x2="477.6" y2="775.1" stroke="#222" stroke-width="1"/>
<line x1="487.9" y1="779.1" x2="487.9" y2="776.9" stroke="#222" stroke-width="1"/>
<line x1="493.8" y1="779.1" x2="493.8" y2="776.9" stroke="#222" stroke-width="1"/>
<line x1="498.1" y1="779.1" x2="498.1" y2="776.9" stroke="#222" stroke-width="1"/>
<line x1="501.4" y1="779.1" x2="501.4" y2="776.9" stroke="#222" stroke-width="1"/>
<line x1="504.1" y1="779.1" x2="504.1" y2="776.9" stroke="#222" stroke-width="1"/>
<line x1="506.3" y1="779.1" x2="506.3" y2="776.9" stroke="#222" stroke-width="1"/>
<line x1="508.3" y1="779.1" x2="508.3" y2="776.9" stroke="#222" stroke-width="1"/>
<line x1="510" y1="779.1" x2="510" y2="776.9" stroke="#222" stroke-width="1"/>
<line x1="511.6" y1="779.1" x2="511.6" y2="775.1" stroke="#222" stroke-width="1"/>
<line x1="521.8" y1="779.1" x2="521.8" y2="776.9" stroke="#222" stroke-width="1"/>
<line x1="527.8" y1="779.1" x2="527.8" y2="776.9" stroke="#222" stroke-width="1"/>
<line x1="532" y1="779.1" x2="532" y2="776.9" stroke="#222" stroke-width="1"/>
<line x1="535.3" y1="779.1" x2="535.3" y2="776.9" stroke="#222" stroke-width="1"/>
<line x1="538" y1="779.1" x2="538" y2="776.9" stroke="#222" stroke-width="1"/>
<line x1="540.3" y1="779.1" x2="540.3" y2="776.9" stroke="#222" stroke-width="1"/>
<line x1="542.3" y1="779.1" x2="542.3" y2="776.9" stroke="#222" stroke-width="1"/>
<line x1="544" y1="779.1" x2="544" y2="776.9" stroke="#222" stroke-width="1"/>
<line x1="545.5" y1="779.1" x2="545.5" y2="775.1" stroke="#222" stroke-width="1"/>
<line x1="555.8" y1="779.1" x2="555.8" y2="776.9" stroke="#222" stroke-width="1"/>
<line x1="561.7" y1="779.1" x2="561.7" y2="776.9" stroke="#222" stroke-width="1"/>
<line x1="566" y1="779.1" x2="566" y2="776.9" stroke="#222" stroke-width="1"/>
<line x1="569.3" y1="779.1" x2="569.3" y2="776.9" stroke="#222" stroke-width="1"/>
<line x1="572" y1="779.1" x2="572" y2="776.9" stroke="#222" stroke-width="1"/>
<line x1="574.2" y1="779.1" x2="574.2" y2="776.9" stroke="#222" stroke-width="1"/>
<line x1="576.2" y1="779.1" x2="576.2" y2="776.9" stroke="#222" stroke-width="1"/>
<line x1="577.9" y1="779.1" x2="577.9" y2="776.9" stroke="#222" stroke-width="1"/>
<line x1="579.5" y1="779.1" x2="579.5" y2="775.1" stroke="#222" stroke-width="1"/>
<line x1="589.7" y1="779.1" x2="589.7" y2="776.9" stroke="#222" stroke-width="1"/>
<line x1="595.7" y1="779.1" x2="595.7" y2="776.9" stroke="#222" stroke-width="1"/>
<line x1="599.9" y1="779.1" x2="599.9" y2="776.9" stroke="#222" stroke-width="1"/>
<line x1="603.2" y1="779.1" x2="603.2" y2="776.9" stroke="#222" stroke-width="1"/>
<line x1="605.9" y1="779.1" x2="605.9" y2="776.9" stroke="#222" stroke-width="1"/>
<line x1="608.2" y1="779.1" x2="608.2" y2="776.9" stroke="#222" stroke-width="1"/>
<line x1="610.2" y1="779.1" x2="610.2" y2="776.9" stroke="#222" stroke-width="1"/>
<line x1="611.9" y1="779.1" x2="611.9" y2="776.9" stroke="#222" stroke-width="1"/>
<line x1="613.5" y1="779.1" x2="613.5" y2="775.1" stroke="#222" stroke-width="1"/>
<line x1="623.7" y1="779.1" x2="623.7" y2="776.9" stroke="#222" stroke-width="1"/>
<line x1="629.6" y1="779.1" x2="629.6" y2="776.9" stroke="#222" stroke-width="1"/>
<line x1="633.9" y1="779.1" x2="633.9" y2="776.9" stroke="#222" stroke-width="1"/>
<line x1="637.2" y1="779.1" x2="637.2" y2="776.9" stroke="#222" stroke-width="1"/>
<line x1="639.9" y1="779.1" x2="639.9" y2="776.9" stroke="#222" stroke-width="1"/>
<line x1="642.1" y1="779.1" x2="642.1" y2="776.9" stroke="#222" stroke-width="1"/>
<line x1="644.1" y1="779.1" x2="644.1" y2="776.9" stroke="#222" stroke-width="1"/>
<line x1="645.8" y1="779.1" x2="645.8" y2="776.9" stroke="#222" stroke-width="1"/>
<line x1="375.8" y1="768.6" x2="378" y2="768.6" stroke="#222" stroke-width="1"/>
<line x1="375.8" y1="760.9" x2="378" y2="760.9" stroke="#222" stroke-width="1"/>
<line x1="375.8" y1="754.9" x2="378" y2="754.9" stroke="#222" stroke-width="1"/>
<line x1="375.8" y1="750" x2="378" y2="750" stroke="#222" stroke-width="1"/>
<line x1="375.8" y1="745.9" x2="378" y2="745.9" stroke="#222" stroke-width="1"/>
<line x1="375.8" y1="742.3" x2="378" y2="742.3" stroke="#222" stroke-width="1"/>
<line x1="375.8" y1="739.1" x2="378" y2="739.1" stroke="#222" stroke-width="1"/>
<line x1="375.8" y1="736.3" x2="379.8" y2="736.3" stroke="#222" stroke-width="1"/>
<line x1="375.8" y1="717.7" x2="378" y2="717.7" stroke="#222" stroke-width="1"/>
<line x1="375.8" y1="706.8" x2="378" y2="706.8" stroke="#222" stroke-width="1"/>
<line x1="375.8" y1="699.1" x2="378" y2="699.1" stroke="#222" stroke-width="1"/>
<line x1="375.8" y1="693.1" x2="378" y2="693.1" stroke="#222" stroke-width="1"/>
<line x1="375.8" y1="688.2" x2="378" y2="688.2" stroke="#222" stroke-width="1"/>
<line x1="375.8" y1="684.1" x2="378" y2="684.1" stroke="#222" stroke-width="1"/>
<line x1="375.8" y1="680.5" x2="378" y2="680.5" stroke="#222" stroke-width="1"/>
<line x1="375.8" y1="677.4" x2="378" y2="677.4" stroke="#222" stroke-width="1"/>
<line x1="375.8" y1="674.5" x2="379.8" y2="674.5" stroke="#222" stroke-width="1"/>
<line x1="375.8" y1="656" x2="378" y2="656" stroke="#222" stroke-width="1"/>
<line x1="375.8" y1="645.1" x2="378" y2="645.1" stroke="#222" stroke-width="1"/>
<line x1="375.8" y1="637.4" x2="378" y2="637.4" stroke="#222" stroke-width="1"/>
<line x1="375.8" y1="631.4" x2="378" y2="631.4" stroke="#222" stroke-width="1"/>
<line x1="375.8" y1="626.5" x2="378" y2="626.5" stroke="#222" stroke-width="1"/>
<line x1="375.8" y1="622.4" x2="378" y2="622.4" stroke="#222" stroke-width="1"/>
<line x1="375.8" y1="618.8" x2="378" y2="618.8" stroke="#222" stroke-width="1"/>
<line x1="375.8" y1="615.6" x2="378" y2="615.6" stroke="#222" stroke-width="1"/>
<line x1="375.8" y1="612.8" x2="379.8" y2="612.8" stroke="#222" stroke-width="1"/>
<line x1="375.8" y1="594.2" x2="378" y2="594.2" stroke="#222" stroke-width="1"/>
<line x1="375.8" y1="583.3" x2="378" y2="583.3" stroke="#222" stroke-width="1"/>
<line x1="375.8" y1="575.6" x2="378" y2="575.6" stroke="#222" stroke-width="1"/>
<line x1="375.8" y1="569.6" x2="378" y2="569.6" stroke="#222" stroke-width="1"/>
<line x1="375.8" y1="564.7" x2="378" y2="564.7" stroke="#222" stroke-width="1"/>
<line x1="647.4" y1="764.4" x2="643.4" y2="764.4" stroke="#222" stroke-width="1"/>
<line x1="647.4" y1="749.9" x2="645.2" y2="749.9" stroke="#222" stroke-width="1"/>
<line x1="647.4" y1="735.3" x2="643.4" y2="735.3" stroke="#222" stroke-width="1"/>
<line x1="647.4" y1="720.8" x2="645.2" y2="720.8" stroke="#222" stroke-width="1"/>
<line x1="647.4" y1="706.3" x2="643.4" y2="706.3" stroke="#222" stroke-width="1"/>
<line x1="647.4" y1="691.8" x2="645.2" y2="691.8" stroke="#222" stroke-width="1"/>
<line x1="647.4" y1="677.2" x2="643.4" y2="677.2" stroke="#222" stroke-width="1"/>
<line x1="647.4" y1="662.7" x2="645.2" y2="662.7" stroke="#222" stroke-width="1"/>
<line x1="647.4" y1="648.2" x2="643.4" y2="648.2" stroke="#222" stroke-width="1"/>
<line x1="647.4" y1="633.6" x2="645.2" y2="633.6" stroke="#222" stroke-width="1"/>
<line x1="647.4" y1="619.1" x2="643.4" y2="619.1" stroke="#222" stroke-width="1"/>
<line x1="647.4" y1="604.6" x2="645.2" y2="604.6" stroke="#222" stroke-width="1"/>
<line x1="647.4" y1="590.1" x2="643.4" y2="590.1" stroke="#222" stroke-width="1"/>
<line x1="647.4" y1="575.5" x2="645.2" y2="575.5" stroke="#222" stroke-width="1"/>
<text x="368.4" y="793.5" font-family='"Liberation Serif", serif' font-size="10" text-anchor="start" font-weight="normal" fill="#000" stroke="#000" stroke-width="0.25" textLength="8.2" lengthAdjust="spacingAndGlyphs">10</text>
<text x="376.8" y="789" font-family='"Liberation Serif", serif' font-size="6.2" text-anchor="start" font-weight="normal" fill="#000" stroke="#000" stroke-width="0.15" textLength="6.5" lengthAdjust="spacingAndGlyphs">−3</text>
<text x="402.4" y="793.5" font-family='"Liberation Serif", serif' font-size="10" text-anchor="start" font-weight="normal" fill="#000" stroke="#000" stroke-width="0.25" textLength="8.2" lengthAdjust="spacingAndGlyphs">10</text>
<text x="410.8" y="789" font-family='"Liberation Serif", serif' font-size="6.2" text-anchor="start" font-weight="normal" fill="#000" stroke="#000" stroke-width="0.15" textLength="6.5" lengthAdjust="spacingAndGlyphs">−2</text>
<text x="436.3" y="793.5" font-family='"Liberation Serif", serif' font-size="10" text-anchor="start" font-weight="normal" fill="#000" stroke="#000" stroke-width="0.25" textLength="8.2" lengthAdjust="spacingAndGlyphs">10</text>
<text x="444.7" y="789" font-family='"Liberation Serif", serif' font-size="6.2" text-anchor="start" font-weight="normal" fill="#000" stroke="#000" stroke-width="0.15" textLength="6.5" lengthAdjust="spacingAndGlyphs">−1</text>
<text x="471.9" y="793.5" font-family='"Liberation Serif", serif' font-size="10" text-anchor="start" font-weight="normal" fill="#000" stroke="#000" stroke-width="0.25" textLength="8.2" lengthAdjust="spacingAndGlyphs">10</text>
<text x="480.3" y="789" font-family='"Liberation Serif", serif' font-size="6.2" text-anchor="start" font-weight="normal" fill="#000" stroke="#000" stroke-width="0.15" textLength="3.3" lengthAdjust="spacingAndGlyphs">0</text>
<text x="505.9" y="793.5" font-family='"Liberation Serif", serif' font-size="10" text-anchor="start" font-weight="normal" fill="#000" stroke="#000" stroke-width="0.25" textLength="8.2" lengthAdjust="spacingAndGlyphs">10</text>
<text x="514.2" y="789" font-family='"Liberation Serif", serif' font-size="6.2" text-anchor="start" font-weight="normal" fill="#000" stroke="#000" stroke-width="0.15" textLength="3.3" lengthAdjust="spacingAndGlyphs">1</text>
<text x="539.8" y="793.5" font-family='"Liberation Serif", serif' font-size="10" text-anchor="start" font-weight="normal" fill="#000" stroke="#000" stroke-width="0.25" textLength="8.2" lengthAdjust="spacingAndGlyphs">10</text>
<text x="548.2" y="789" font-family='"Liberation Serif", serif' font-size="6.2" text-anchor="start" font-weight="normal" fill="#000" stroke="#000" stroke-width="0.15" textLength="3.3" lengthAdjust="spacingAndGlyphs">2</text>
<text x="573.8" y="793.5" font-family='"Liberation Serif", serif' font-size="10" text-anchor="start" font-weight="normal" fill="#000" stroke="#000" stroke-width="0.25" textLength="8.2" lengthAdjust="spacingAndGlyphs">10</text>
<text x="582.1" y="789" font-family='"Liberation Serif", serif' font-size="6.2" text-anchor="start" font-weight="normal" fill="#000" stroke="#000" stroke-width="0.15" textLength="3.3" lengthAdjust="spacingAndGlyphs">3</text>
<text x="607.7" y="793.5" font-family='"Liberation Serif", serif' font-size="10" text-anchor="start" font-weight="normal" fill="#000" stroke="#000" stroke-width="0.25" textLength="8.2" lengthAdjust="spacingAndGlyphs">10</text>
<text x="616.1" y="789" font-family='"Liberation Serif", serif' font-size="6.2" text-anchor="start" font-weight="normal" fill="#000" stroke="#000" stroke-width="0.15" textLength="3.3" lengthAdjust="spacingAndGlyphs">4</text>
<text x="641.6" y="793.5" font-family='"Liberation Serif", serif' font-size="10" text-anchor="start" font-weight="normal" fill="#000" stroke="#000" stroke-width="0.25" textLength="8.2" lengthAdjust="spacingAndGlyphs">10</text>
<text x="650" y="789" font-family='"Liberation Serif", serif' font-size="6.2" text-anchor="start" font-weight="normal" fill="#000" stroke="#000" stroke-width="0.15" textLength="3.3" lengthAdjust="spacingAndGlyphs">5</text>
<text x="367" y="740.9" font-family='"Liberation Serif", serif' font-size="10" text-anchor="end" font-weight="normal" fill="#000" stroke="#000" stroke-width="0.25" textLength="8.2" lengthAdjust="spacingAndGlyphs">10</text>
<text x="367.8" y="736.7" font-family='"Liberation Serif", serif' font-size="6.2" text-anchor="start" font-weight="normal" fill="#000" stroke="#000" stroke-width="0.15" textLength="3.3" lengthAdjust="spacingAndGlyphs">1</text>
<text x="367" y="679.1" font-family='"Liberation Serif", serif' font-size="10" text-anchor="end" font-weight="normal" fill="#000" stroke="#000" stroke-width="0.25" textLength="8.2" lengthAdjust="spacingAndGlyphs">10</text>
<text x="367.8" y="674.9" font-family='"Liberation Serif", serif' font-size="6.2" text-anchor="start" font-weight="normal" fill="#000" stroke="#000" stroke-width="0.15" textLength="3.3" lengthAdjust="spacingAndGlyphs">2</text>
<text x="367" y="617.4" font-family='"Liberation Serif", serif' font-size="10" text-anchor="end" font-weight="normal" fill="#000" stroke="#000" stroke-width="0.25" textLength="8.2" lengthAdjust="spacingAndGlyphs">10</text>
<text x="367.8" y="613.2" font-family='"Liberation Serif", serif' font-size="6.2" text-anchor="start" font-weight="normal" fill="#000" stroke="#000" stroke-width="0.15" textLength="3.3" lengthAdjust="spacingAndGlyphs">3</text>
<text x="653" y="767.7" font-family='"Liberation Serif", serif' font-size="9.6" text-anchor="start" font-weight="normal" fill="#111" stroke="#111" stroke-width="0.2" textLength="4.6" lengthAdjust="spacingAndGlyphs">0</text>
<text x="652.6" y="738.6" font-family='"Liberation Serif", serif' font-size="9.6" text-anchor="start" font-weight="normal" fill="#111" stroke="#111" stroke-width="0.2" textLength="13.6" lengthAdjust="spacingAndGlyphs">−10</text>
<text x="652.6" y="709.6" font-family='"Liberation Serif", serif' font-size="9.6" text-anchor="start" font-weight="normal" fill="#111" stroke="#111" stroke-width="0.2" textLength="13.6" lengthAdjust="spacingAndGlyphs">−20</text>
<text x="652.6" y="680.5" font-family='"Liberation Serif", serif' font-size="9.6" text-anchor="start" font-weight="normal" fill="#111" stroke="#111" stroke-width="0.2" textLength="13.6" lengthAdjust="spacingAndGlyphs">−30</text>
<text x="652.6" y="651.5" font-family='"Liberation Serif", serif' font-size="9.6" text-anchor="start" font-weight="normal" fill="#111" stroke="#111" stroke-width="0.2" textLength="13.6" lengthAdjust="spacingAndGlyphs">−40</text>
<text x="652.6" y="622.4" font-family='"Liberation Serif", serif' font-size="9.6" text-anchor="start" font-weight="normal" fill="#111" stroke="#111" stroke-width="0.2" textLength="13.6" lengthAdjust="spacingAndGlyphs">−50</text>
<text x="652.6" y="593.4" font-family='"Liberation Serif", serif' font-size="9.6" text-anchor="start" font-weight="normal" fill="#111" stroke="#111" stroke-width="0.2" textLength="13.6" lengthAdjust="spacingAndGlyphs">−60</text>
<text x="652.6" y="564.3" font-family='"Liberation Serif", serif' font-size="9.6" text-anchor="start" font-weight="normal" fill="#111" stroke="#111" stroke-width="0.2" textLength="13.6" lengthAdjust="spacingAndGlyphs">−70</text>
<rect x="375.8" y="560.8" width="271.6" height="218.3" fill="none" stroke="#222" stroke-width="1.3"/>
<rect x="254.5" y="9.5" width="56.9" height="100.5" fill="#fff" stroke="#888" stroke-width="0.8"/>
<path d="M262.9 14h3v3h-3z" fill="#000000"/>
<text x="280.5 285" y="18.7" font-family='"Liberation Serif", serif' font-size="9.6" text-anchor="middle" fill="#111" stroke="#111" stroke-width="0.15">1h</text>
<line x1="255" y1="25.4" x2="273.3" y2="25.4" stroke="#444444" stroke-width="0.7"/>
<text x="280.5 285 289.6 294.1 298.6 303.2 307.7" y="28.6" font-family='"Liberation Serif", serif' font-size="9.6" text-anchor="middle" fill="#111" stroke="#111" stroke-width="0.15">Fitting</text>
<path d="M262.9 33.9h3v3h-3z" fill="#ff0000"/>
<text x="280.5 285" y="38.6" font-family='"Liberation Serif", serif' font-size="9.6" text-anchor="middle" fill="#111" stroke="#111" stroke-width="0.15">3h</text>
<line x1="255" y1="45.3" x2="273.3" y2="45.3" stroke="#ff5050" stroke-width="0.7"/>
<text x="280.5 285 289.6 294.1 298.6 303.2 307.7" y="48.5" font-family='"Liberation Serif", serif' font-size="9.6" text-anchor="middle" fill="#111" stroke="#111" stroke-width="0.15">Fitting</text>
<path d="M262.9 53.8h3v3h-3z" fill="#00ee00"/>
<text x="280.5 285" y="58.4" font-family='"Liberation Serif", serif' font-size="9.6" text-anchor="middle" fill="#111" stroke="#111" stroke-width="0.15">5h</text>
<line x1="255" y1="65.2" x2="273.3" y2="65.2" stroke="#50ff50" stroke-width="0.7"/>
<text x="280.5 285 289.6 294.1 298.6 303.2 307.7" y="68.4" font-family='"Liberation Serif", serif' font-size="9.6" text-anchor="middle" fill="#111" stroke="#111" stroke-width="0.15">Fitting</text>
<path d="M262.9 73.6h3v3h-3z" fill="#0000ff"/>
<text x="280.5 285" y="78.3" font-family='"Liberation Serif", serif' font-size="9.6" text-anchor="middle" fill="#111" stroke="#111" stroke-width="0.15">8h</text>
<line x1="255" y1="85.1" x2="273.3" y2="85.1" stroke="#6060ff" stroke-width="0.7"/>
<text x="280.5 285 289.6 294.1 298.6 303.2 307.7" y="88.3" font-family='"Liberation Serif", serif' font-size="9.6" text-anchor="middle" fill="#111" stroke="#111" stroke-width="0.15">Fitting</text>
<path d="M262.9 93.5h3v3h-3z" fill="#ff80ff"/>
<text x="280.5 285 289.6" y="98.2" font-family='"Liberation Serif", serif' font-size="9.6" text-anchor="middle" fill="#111" stroke="#111" stroke-width="0.15">12h</text>
<line x1="255" y1="105" x2="273.3" y2="105" stroke="#ffa0ff" stroke-width="0.7"/>
<text x="280.5 285 289.6 294.1 298.6 303.2 307.7" y="108.1" font-family='"Liberation Serif", serif' font-size="9.6" text-anchor="middle" fill="#111" stroke="#111" stroke-width="0.15">Fitting</text>
<rect x="594.6" y="9.5" width="49.7" height="86.3" fill="#fff" stroke="#888" stroke-width="0.8"/>
<path d="M601.9 12.7h3v3h-3z" fill="#000000"/>
<text x="617.5 621.4" y="16.9" font-family='"Liberation Serif", serif' font-size="8.3" text-anchor="middle" fill="#111" stroke="#111" stroke-width="0.15">1h</text>
<line x1="596.2" y1="22.8" x2="611.1" y2="22.8" stroke="#444444" stroke-width="0.7"/>
<text x="617.5 621.4 625.3 629.2 633.1 637 640.9" y="25.5" font-family='"Liberation Serif", serif' font-size="8.3" text-anchor="middle" fill="#111" stroke="#111" stroke-width="0.15">Fitting</text>
<path d="M601.9 29.9h3v3h-3z" fill="#ff0000"/>
<text x="617.5 621.4" y="34.1" font-family='"Liberation Serif", serif' font-size="8.3" text-anchor="middle" fill="#111" stroke="#111" stroke-width="0.15">3h</text>
<line x1="596.2" y1="39.9" x2="611.1" y2="39.9" stroke="#ff5050" stroke-width="0.7"/>
<text x="617.5 621.4 625.3 629.2 633.1 637 640.9" y="42.7" font-family='"Liberation Serif", serif' font-size="8.3" text-anchor="middle" fill="#111" stroke="#111" stroke-width="0.15">Fitting</text>
<path d="M601.9 47h3v3h-3z" fill="#00ee00"/>
<text x="617.5 621.4" y="51.3" font-family='"Liberation Serif", serif' font-size="8.3" text-anchor="middle" fill="#111" stroke="#111" stroke-width="0.15">5h</text>
<line x1="596.2" y1="57.1" x2="611.1" y2="57.1" stroke="#50ff50" stroke-width="0.7"/>
<text x="617.5 621.4 625.3 629.2 633.1 637 640.9" y="59.8" font-family='"Liberation Serif", serif' font-size="8.3" text-anchor="middle" fill="#111" stroke="#111" stroke-width="0.15">Fitting</text>
<path d="M601.9 64.2h3v3h-3z" fill="#0000ff"/>
<text x="617.5 621.4" y="68.4" font-family='"Liberation Serif", serif' font-size="8.3" text-anchor="middle" fill="#111" stroke="#111" stroke-width="0.15">8h</text>
<line x1="596.2" y1="74.3" x2="611.1" y2="74.3" stroke="#6060ff" stroke-width="0.7"/>
<text x="617.5 621.4 625.3 629.2 633.1 637 640.9" y="77" font-family='"Liberation Serif", serif' font-size="8.3" text-anchor="middle" fill="#111" stroke="#111" stroke-width="0.15">Fitting</text>
<path d="M601.9 81.3h3v3h-3z" fill="#ff80ff"/>
<text x="617.5 621.4 625.3" y="85.6" font-family='"Liberation Serif", serif' font-size="8.3" text-anchor="middle" fill="#111" stroke="#111" stroke-width="0.15">12h</text>
<line x1="596.2" y1="91.4" x2="611.1" y2="91.4" stroke="#ffa0ff" stroke-width="0.7"/>
<text x="617.5 621.4 625.3 629.2 633.1 637 640.9" y="94.2" font-family='"Liberation Serif", serif' font-size="8.3" text-anchor="middle" fill="#111" stroke="#111" stroke-width="0.15">Fitting</text>
<rect x="253.3" y="286.5" width="58.6" height="103.6" fill="#fff" stroke="#888" stroke-width="0.8"/>
<path d="M261.8 291.2h3v3h-3z" fill="#000000"/>
<text x="280 284.7" y="296" font-family='"Liberation Serif", serif' font-size="10" text-anchor="middle" fill="#111" stroke="#111" stroke-width="0.15">1h</text>
<line x1="254.3" y1="302.9" x2="272.5" y2="302.9" stroke="#444444" stroke-width="0.7"/>
<text x="280 284.7 289.4 294.1 298.8 303.5 308.2" y="306.2" font-family='"Liberation Serif", serif' font-size="10" text-anchor="middle" fill="#111" stroke="#111" stroke-width="0.15">Fitting</text>
<path d="M261.8 311.6h3v3h-3z" fill="#ff0000"/>
<text x="280 284.7" y="316.4" font-family='"Liberation Serif", serif' font-size="10" text-anchor="middle" fill="#111" stroke="#111" stroke-width="0.15">3h</text>
<line x1="254.3" y1="323.3" x2="272.5" y2="323.3" stroke="#ff5050" stroke-width="0.7"/>
<text x="280 284.7 289.4 294.1 298.8 303.5 308.2" y="326.6" font-family='"Liberation Serif", serif' font-size="10" text-anchor="middle" fill="#111" stroke="#111" stroke-width="0.15">Fitting</text>
<path d="M261.8 332h3v3h-3z" fill="#00ee00"/>
<text x="280 284.7" y="336.8" font-family='"Liberation Serif", serif' font-size="10" text-anchor="middle" fill="#111" stroke="#111" stroke-width="0.15">5h</text>
<line x1="254.3" y1="343.7" x2="272.5" y2="343.7" stroke="#50ff50" stroke-width="0.7"/>
<text x="280 284.7 289.4 294.1 298.8 303.5 308.2" y="347" font-family='"Liberation Serif", serif' font-size="10" text-anchor="middle" fill="#111" stroke="#111" stroke-width="0.15">Fitting</text>
<path d="M261.8 352.4h3v3h-3z" fill="#0000ff"/>
<text x="280 284.7" y="357.2" font-family='"Liberation Serif", serif' font-size="10" text-anchor="middle" fill="#111" stroke="#111" stroke-width="0.15">8h</text>
<line x1="254.3" y1="364.1" x2="272.5" y2="364.1" stroke="#6060ff" stroke-width="0.7"/>
<text x="280 284.7 289.4 294.1 298.8 303.5 308.2" y="367.4" font-family='"Liberation Serif", serif' font-size="10" text-anchor="middle" fill="#111" stroke="#111" stroke-width="0.15">Fitting</text>
<path d="M261.8 372.8h3v3h-3z" fill="#ff80ff"/>
<text x="280 284.7 289.4" y="377.6" font-family='"Liberation Serif", serif' font-size="10" text-anchor="middle" fill="#111" stroke="#111" stroke-width="0.15">12h</text>
<line x1="254.3" y1="384.5" x2="272.5" y2="384.5" stroke="#ffa0ff" stroke-width="0.7"/>
<text x="280 284.7 289.4 294.1 298.8 303.5 308.2" y="387.8" font-family='"Liberation Serif", serif' font-size="10" text-anchor="middle" fill="#111" stroke="#111" stroke-width="0.15">Fitting</text>
<rect x="594.5" y="286.8" width="47.6" height="83.6" fill="#fff" stroke="#888" stroke-width="0.8"/>
<path d="M601.5 290.2h3v3h-3z" fill="#000000"/>
<text x="616.3 620.1" y="294.3" font-family='"Liberation Serif", serif' font-size="8" text-anchor="middle" fill="#111" stroke="#111" stroke-width="0.15">1h</text>
<line x1="596" y1="299.9" x2="610.1" y2="299.9" stroke="#444444" stroke-width="0.7"/>
<text x="616.3 620.1 623.9 627.6 631.4 635.2 639" y="302.6" font-family='"Liberation Serif", serif' font-size="8" text-anchor="middle" fill="#111" stroke="#111" stroke-width="0.15">Fitting</text>
<path d="M601.5 306.7h3v3h-3z" fill="#ff0000"/>
<text x="616.3 620.1" y="310.8" font-family='"Liberation Serif", serif' font-size="8" text-anchor="middle" fill="#111" stroke="#111" stroke-width="0.15">3h</text>
<line x1="596" y1="316.4" x2="610.1" y2="316.4" stroke="#ff5050" stroke-width="0.7"/>
<text x="616.3 620.1 623.9 627.6 631.4 635.2 639" y="319.1" font-family='"Liberation Serif", serif' font-size="8" text-anchor="middle" fill="#111" stroke="#111" stroke-width="0.15">Fitting</text>
<path d="M601.5 323.2h3v3h-3z" fill="#00ee00"/>
<text x="616.3 620.1" y="327.3" font-family='"Liberation Serif", serif' font-size="8" text-anchor="middle" fill="#111" stroke="#111" stroke-width="0.15">5h</text>
<line x1="596" y1="332.9" x2="610.1" y2="332.9" stroke="#50ff50" stroke-width="0.7"/>
<text x="616.3 620.1 623.9 627.6 631.4 635.2 639" y="335.5" font-family='"Liberation Serif", serif' font-size="8" text-anchor="middle" fill="#111" stroke="#111" stroke-width="0.15">Fitting</text>
<path d="M601.5 339.6h3v3h-3z" fill="#0000ff"/>
<text x="616.3 620.1" y="343.8" font-family='"Liberation Serif", serif' font-size="8" text-anchor="middle" fill="#111" stroke="#111" stroke-width="0.15">8h</text>
<line x1="596" y1="349.4" x2="610.1" y2="349.4" stroke="#6060ff" stroke-width="0.7"/>
<text x="616.3 620.1 623.9 627.6 631.4 635.2 639" y="352" font-family='"Liberation Serif", serif' font-size="8" text-anchor="middle" fill="#111" stroke="#111" stroke-width="0.15">Fitting</text>
<path d="M601.5 356.1h3v3h-3z" fill="#ff80ff"/>
<text x="616.3 620.1 623.9" y="360.3" font-family='"Liberation Serif", serif' font-size="8" text-anchor="middle" fill="#111" stroke="#111" stroke-width="0.15">12h</text>
<line x1="596" y1="365.9" x2="610.1" y2="365.9" stroke="#ffa0ff" stroke-width="0.7"/>
<text x="616.3 620.1 623.9 627.6 631.4 635.2 639" y="368.5" font-family='"Liberation Serif", serif' font-size="8" text-anchor="middle" fill="#111" stroke="#111" stroke-width="0.15">Fitting</text>
<rect x="248.4" y="567.4" width="60.2" height="107.4" fill="#fff" stroke="#888" stroke-width="0.8"/>
<path d="M257.4 573h2.5v2.5h-2.5z" fill="#000000"/>
<text x="276.1 281" y="577.7" font-family='"Liberation Serif", serif' font-size="10.3" text-anchor="middle" fill="#111" stroke="#111" stroke-width="0.15">1h</text>
<line x1="249.2" y1="584.8" x2="268.3" y2="584.8" stroke="#444444" stroke-width="0.7"/>
<text x="276.1 281 285.8 290.7 295.6 300.4 305.3" y="588.2" font-family='"Liberation Serif", serif' font-size="10.3" text-anchor="middle" fill="#111" stroke="#111" stroke-width="0.15">Fitting</text>
<path d="M257.4 594.1h2.5v2.5h-2.5z" fill="#ff0000"/>
<text x="276.1 281" y="598.8" font-family='"Liberation Serif", serif' font-size="10.3" text-anchor="middle" fill="#111" stroke="#111" stroke-width="0.15">3h</text>
<line x1="249.2" y1="605.9" x2="268.3" y2="605.9" stroke="#ff5050" stroke-width="0.7"/>
<text x="276.1 281 285.8 290.7 295.6 300.4 305.3" y="609.3" font-family='"Liberation Serif", serif' font-size="10.3" text-anchor="middle" fill="#111" stroke="#111" stroke-width="0.15">Fitting</text>
<path d="M257.4 615.2h2.5v2.5h-2.5z" fill="#00ee00"/>
<text x="276.1 281" y="619.9" font-family='"Liberation Serif", serif' font-size="10.3" text-anchor="middle" fill="#111" stroke="#111" stroke-width="0.15">5h</text>
<line x1="249.2" y1="627" x2="268.3" y2="627" stroke="#50ff50" stroke-width="0.7"/>
<text x="276.1 281 285.8 290.7 295.6 300.4 305.3" y="630.4" font-family='"Liberation Serif", serif' font-size="10.3" text-anchor="middle" fill="#111" stroke="#111" stroke-width="0.15">Fitting</text>
<path d="M257.4 636.3h2.5v2.5h-2.5z" fill="#0000ff"/>
<text x="276.1 281" y="641" font-family='"Liberation Serif", serif' font-size="10.3" text-anchor="middle" fill="#111" stroke="#111" stroke-width="0.15">8h</text>
<line x1="249.2" y1="648.1" x2="268.3" y2="648.1" stroke="#6060ff" stroke-width="0.7"/>
<text x="276.1 281 285.8 290.7 295.6 300.4 305.3" y="651.5" font-family='"Liberation Serif", serif' font-size="10.3" text-anchor="middle" fill="#111" stroke="#111" stroke-width="0.15">Fitting</text>
<path d="M257.4 657.4h2.5v2.5h-2.5z" fill="#ff80ff"/>
<text x="276.1 281 285.8" y="662.1" font-family='"Liberation Serif", serif' font-size="10.3" text-anchor="middle" fill="#111" stroke="#111" stroke-width="0.15">12h</text>
<line x1="249.2" y1="669.2" x2="268.3" y2="669.2" stroke="#ffa0ff" stroke-width="0.7"/>
<text x="276.1 281 285.8 290.7 295.6 300.4 305.3" y="672.6" font-family='"Liberation Serif", serif' font-size="10.3" text-anchor="middle" fill="#111" stroke="#111" stroke-width="0.15">Fitting</text>
<rect x="590.6" y="566.4" width="51.9" height="91.8" fill="#fff" stroke="#888" stroke-width="0.8"/>
<path d="M598.2 570.5h2.7v2.7h-2.7z" fill="#000000"/>
<text x="614.6 618.7" y="574.8" font-family='"Liberation Serif", serif' font-size="8.8" text-anchor="middle" fill="#111" stroke="#111" stroke-width="0.15">1h</text>
<line x1="592.2" y1="580.9" x2="607.8" y2="580.9" stroke="#444444" stroke-width="0.7"/>
<text x="614.6 618.7 622.9 627 631.2 635.4 639.5" y="583.8" font-family='"Liberation Serif", serif' font-size="8.8" text-anchor="middle" fill="#111" stroke="#111" stroke-width="0.15">Fitting</text>
<path d="M598.2 588.6h2.7v2.7h-2.7z" fill="#ff0000"/>
<text x="614.6 618.7" y="592.8" font-family='"Liberation Serif", serif' font-size="8.8" text-anchor="middle" fill="#111" stroke="#111" stroke-width="0.15">3h</text>
<line x1="592.2" y1="599" x2="607.8" y2="599" stroke="#ff5050" stroke-width="0.7"/>
<text x="614.6 618.7 622.9 627 631.2 635.4 639.5" y="601.9" font-family='"Liberation Serif", serif' font-size="8.8" text-anchor="middle" fill="#111" stroke="#111" stroke-width="0.15">Fitting</text>
<path d="M598.2 606.6h2.7v2.7h-2.7z" fill="#00ee00"/>
<text x="614.6 618.7" y="610.9" font-family='"Liberation Serif", serif' font-size="8.8" text-anchor="middle" fill="#111" stroke="#111" stroke-width="0.15">5h</text>
<line x1="592.2" y1="617" x2="607.8" y2="617" stroke="#50ff50" stroke-width="0.7"/>
<text x="614.6 618.7 622.9 627 631.2 635.4 639.5" y="619.9" font-family='"Liberation Serif", serif' font-size="8.8" text-anchor="middle" fill="#111" stroke="#111" stroke-width="0.15">Fitting</text>
<path d="M598.2 624.7h2.7v2.7h-2.7z" fill="#0000ff"/>
<text x="614.6 618.7" y="628.9" font-family='"Liberation Serif", serif' font-size="8.8" text-anchor="middle" fill="#111" stroke="#111" stroke-width="0.15">8h</text>
<line x1="592.2" y1="635" x2="607.8" y2="635" stroke="#6060ff" stroke-width="0.7"/>
<text x="614.6 618.7 622.9 627 631.2 635.4 639.5" y="637.9" font-family='"Liberation Serif", serif' font-size="8.8" text-anchor="middle" fill="#111" stroke="#111" stroke-width="0.15">Fitting</text>
<path d="M598.2 642.7h2.7v2.7h-2.7z" fill="#ff80ff"/>
<text x="614.6 618.7 622.9" y="647" font-family='"Liberation Serif", serif' font-size="8.8" text-anchor="middle" fill="#111" stroke="#111" stroke-width="0.15">12h</text>
<line x1="592.2" y1="653.1" x2="607.8" y2="653.1" stroke="#ffa0ff" stroke-width="0.7"/>
<text x="614.6 618.7 622.9 627 631.2 635.4 639.5" y="656" font-family='"Liberation Serif", serif' font-size="8.8" text-anchor="middle" fill="#111" stroke="#111" stroke-width="0.15">Fitting</text>
<path d="M424.7 27.9h3.2v3.2h-3.2z" fill="#00ee00"/>
<path d="M441.9 29.9h3.2v3.2h-3.2z" fill="#00ee00"/>
<path d="M480 48.6h3.2v3.2h-3.2z" fill="#000000"/>
<path d="M417.4 178.6h3.2v3.2h-3.2z" fill="#ff0000"/>
<path d="M473.2 154.9h3.2v3.2h-3.2z" fill="#ff0000"/>
<path d="M566.3 28.9h3.2v3.2h-3.2z" fill="#000000"/>
<path d="M551.7 34.4h3.2v3.2h-3.2z" fill="#000000"/>
<path d="M271.7 189.9h3.2v3.2h-3.2z" fill="#ff0000"/>
<path d="M200.2 185.9h3.2v3.2h-3.2z" fill="#ff0000"/>
<path d="M260.4 204.4h3.2v3.2h-3.2z" fill="#ff0000"/>
<path d="M256.4 208.4h3.2v3.2h-3.2z" fill="#ff0000"/>
<path d="M546.8 332h3.2v3.2h-3.2z" fill="#ff80ff"/>
<path d="M441.8 454h3.2v3.2h-3.2z" fill="#00ee00"/>
<path d="M438.9 461.2h3.2v3.2h-3.2z" fill="#000000"/>
<path d="M573.4 311.4h3.2v3.2h-3.2z" fill="#000000"/>
<path d="M587.6 348.5h3.2v3.2h-3.2z" fill="#ff80ff"/>
<path d="M127.8 738.8h3.2v3.2h-3.2z" fill="#0000ff"/>
<path d="M274.7 738h3.2v3.2h-3.2z" fill="#ff80ff"/>
<path d="M168.7 768.2h3.2v3.2h-3.2z" fill="#0000ff"/>
<path d="M532.4 584.4h3.2v3.2h-3.2z" fill="#0000ff"/>
<rect x="72.8" y="567.9" width="122.3" height="113.4" fill="#fff" stroke="#fff" stroke-width="0"/>
<clipPath id="ci"><rect x="72.8" y="567.9" width="122.3" height="113.4"/></clipPath>
<g clip-path="url(#ci)">
<path d="M74.6 681.3 L74.6 681.3 L74.6 681.3 L74.6 681.3 L74.6 681.3 L74.6 681.3 L74.6 681.3 L74.6 681.2 L74.6 681.2 L74.6 681.2 L74.6 681.2 L74.6 681.2 L74.6 681.2 L74.6 681.2 L74.6 681.2 L74.6 681.2 L74.6 681.2 L74.6 681.1 L74.6 681.1 L74.6 681.1 L74.6 681.1 L74.7 681 L74.7 681 L74.7 681 L74.7 680.9 L74.7 680.9 L74.7 680.8 L74.8 680.8 L74.8 680.7 L74.8 680.6 L74.9 680.5 L74.9 680.4 L75 680.3 L75 680.2 L75.1 680 L75.1 679.9 L75.2 679.7 L75.3 679.5 L75.4 679.3 L75.5 679 L75.6 678.8 L75.8 678.4 L75.9 678.1 L76.1 677.7 L76.3 677.2 L76.6 676.8 L76.9 676.2 L77.2 675.6 L77.6 674.9 L78 674.1 L78.5 673.3 L79 672.3 L79.7 671.3 L80.4 670.2 L81.3 668.9 L82.3 667.5 L83.5 666 L84.8 664.4 L86.4 662.7 L88.2 660.9 L90.2 658.9 L92.6 656.9 L95.2 654.9 L98.2 652.8 L101.6 650.7 L105.4 648.7 L109.5 646.9 L114 645.2 L118.8 643.9 L123.8 642.8 L129.1 642.1 L134.5 641.8 L139.9 641.9 L145.2 642.4 L150.4 643.3 L155.3 644.6 L159.9 646.1 L164.2 647.9 L168.1 649.8 L171.7 651.8 L174.9 653.9 L177.7 656 L180.2 658 L182.3 660 L184.2 661.9 L185.9 663.7 L187.3 665.3 L188.6 666.9 L189.6 668.3 L190.6 669.6 L191.4 670.8 L192.1 671.9 L192.7 672.9 L193.2 673.8 L193.7 674.6 L194 675.3 L194.4 675.9 L194.7 676.5 L194.9 677 L195.2 677.5 L195.4 677.9 L195.6 678.3 L195.7 678.6 L195.8 678.9 L196 679.2 L196.1 679.4" fill="none" stroke="#444444" stroke-width="0.7"/>
<path d="M73.7 680.4h1.7v1.7h-1.7zM73.7 680.3h1.7v1.7h-1.7zM73.8 680.3h1.7v1.7h-1.7zM73.8 680.3h1.7v1.7h-1.7zM73.8 680.2h1.7v1.7h-1.7zM73.8 680.2h1.7v1.7h-1.7zM73.8 680.1h1.7v1.7h-1.7zM73.9 680h1.7v1.7h-1.7zM73.9 679.9h1.7v1.7h-1.7zM74 679.8h1.7v1.7h-1.7zM74 679.6h1.7v1.7h-1.7zM74.1 679.4h1.7v1.7h-1.7zM74.2 679.2h1.7v1.7h-1.7zM74.4 678.8h1.7v1.7h-1.7zM74.5 678.4h1.7v1.7h-1.7zM74.8 677.9h1.7v1.7h-1.7zM75 677.3h1.7v1.7h-1.7zM75.4 676.6h1.7v1.7h-1.7zM75.9 675.7h1.7v1.7h-1.7zM76.5 674.5h1.7v1.7h-1.7zM77.2 673.1h1.7v1.7h-1.7zM78.2 671.5h1.7v1.7h-1.7zM79.5 669.4h1.7v1.7h-1.7zM81.2 667h1.7v1.7h-1.7zM83.4 664.2h1.7v1.7h-1.7zM86.3 661h1.7v1.7h-1.7zM90.1 657.4h1.7v1.7h-1.7zM94.9 653.6h1.7v1.7h-1.7zM100.9 649.8h1.7v1.7h-1.7zM108.3 646.2h1.7v1.7h-1.7zM116.8 643.3h1.7v1.7h-1.7zM126.3 641.5h1.7v1.7h-1.7zM136.3 640.9h1.7v1.7h-1.7zM146.2 641.9h1.7v1.7h-1.7zM155.5 644h1.7v1.7h-1.7zM163.7 647.2h1.7v1.7h-1.7zM170.6 650.9h1.7v1.7h-1.7zM176.3 654.7h1.7v1.7h-1.7zM180.8 658.5h1.7v1.7h-1.7zM184.3 662h1.7v1.7h-1.7zM187 665.1h1.7v1.7h-1.7zM189 667.8h1.7v1.7h-1.7zM190.6 670.1h1.7v1.7h-1.7zM191.8 672h1.7v1.7h-1.7zM192.7 673.6h1.7v1.7h-1.7zM193.4 674.9h1.7v1.7h-1.7zM194 676h1.7v1.7h-1.7zM194.4 676.8h1.7v1.7h-1.7zM194.7 677.5h1.7v1.7h-1.7zM195 678.1h1.7v1.7h-1.7zM195.2 678.6h1.7v1.7h-1.7z" fill="#000000"/>
<path d="M74.6 681.3 L74.6 681.3 L74.6 681.3 L74.6 681.3 L74.6 681.3 L74.6 681.3 L74.6 681.3 L74.6 681.3 L74.6 681.3 L74.6 681.3 L74.6 681.3 L74.6 681.3 L74.6 681.3 L74.6 681.3 L74.6 681.3 L74.6 681.3 L74.6 681.2 L74.6 681.2 L74.6 681.2 L74.6 681.2 L74.6 681.2 L74.6 681.2 L74.6 681.2 L74.6 681.2 L74.6 681.2 L74.6 681.1 L74.6 681.1 L74.6 681.1 L74.6 681.1 L74.6 681 L74.7 681 L74.7 681 L74.7 680.9 L74.7 680.9 L74.7 680.8 L74.8 680.8 L74.8 680.7 L74.8 680.6 L74.8 680.5 L74.9 680.4 L74.9 680.3 L75 680.2 L75 680.1 L75.1 679.9 L75.2 679.7 L75.2 679.5 L75.3 679.3 L75.4 679.1 L75.5 678.8 L75.7 678.5 L75.8 678.1 L76 677.7 L76.2 677.3 L76.5 676.8 L76.7 676.2 L77 675.6 L77.4 674.8 L77.8 674.1 L78.3 673.2 L78.8 672.2 L79.5 671.1 L80.2 669.9 L81.1 668.6 L82.1 667.2 L83.3 665.6 L84.6 663.9 L86.2 662.1 L88 660.1 L90.1 658 L92.6 655.9 L95.4 653.7 L98.5 651.4 L102.1 649.2 L106 647.1 L110.4 645.1 L115.2 643.4 L120.3 641.9 L125.7 640.9 L131.3 640.2 L137 640 L142.7 640.2 L148.3 640.9 L153.7 642 L158.8 643.4 L163.5 645.2 L167.9 647.1 L171.9 649.3 L175.4 651.5 L178.6 653.7 L181.3 655.9 L183.8 658.1 L185.9 660.1 L187.7 662.1 L189.3 663.9 L190.6 665.6 L191.8 667.2 L192.8 668.6 L193.7 670 L194.4 671.1 L195 672.2 L195.6 673.2 L196.1 674.1 L196.5 674.9 L196.8 675.6 L197.1 676.2 L197.4 676.8" fill="none" stroke="#ff5050" stroke-width="0.7"/>
<path d="M73.7 680.4h1.7v1.7h-1.7zM73.7 680.4h1.7v1.7h-1.7zM73.7 680.4h1.7v1.7h-1.7zM73.7 680.4h1.7v1.7h-1.7zM73.7 680.4h1.7v1.7h-1.7zM73.7 680.4h1.7v1.7h-1.7zM73.7 680.3h1.7v1.7h-1.7zM73.8 680.3h1.7v1.7h-1.7zM73.8 680.3h1.7v1.7h-1.7zM73.8 680.2h1.7v1.7h-1.7zM73.8 680.1h1.7v1.7h-1.7zM73.8 680.1h1.7v1.7h-1.7zM73.9 680h1.7v1.7h-1.7zM73.9 679.8h1.7v1.7h-1.7zM74 679.7h1.7v1.7h-1.7zM74.1 679.5h1.7v1.7h-1.7zM74.2 679.3h1.7v1.7h-1.7zM74.3 679h1.7v1.7h-1.7zM74.4 678.6h1.7v1.7h-1.7zM74.6 678.1h1.7v1.7h-1.7zM74.9 677.6h1.7v1.7h-1.7zM75.2 676.8h1.7v1.7h-1.7zM75.6 676h1.7v1.7h-1.7zM76.1 674.9h1.7v1.7h-1.7zM76.8 673.5h1.7v1.7h-1.7zM77.7 671.9h1.7v1.7h-1.7zM78.9 669.9h1.7v1.7h-1.7zM80.4 667.5h1.7v1.7h-1.7zM82.5 664.7h1.7v1.7h-1.7zM85.2 661.4h1.7v1.7h-1.7zM88.8 657.7h1.7v1.7h-1.7zM93.4 653.6h1.7v1.7h-1.7zM99.4 649.5h1.7v1.7h-1.7zM106.7 645.5h1.7v1.7h-1.7zM115.4 642.2h1.7v1.7h-1.7zM125.3 639.9h1.7v1.7h-1.7zM135.8 639.1h1.7v1.7h-1.7zM146.3 639.9h1.7v1.7h-1.7zM156.2 642h1.7v1.7h-1.7zM165 645.3h1.7v1.7h-1.7zM172.4 649.3h1.7v1.7h-1.7zM178.4 653.4h1.7v1.7h-1.7zM183.2 657.5h1.7v1.7h-1.7zM186.8 661.2h1.7v1.7h-1.7zM189.6 664.5h1.7v1.7h-1.7zM191.6 667.4h1.7v1.7h-1.7zM193.2 669.8h1.7v1.7h-1.7zM194.4 671.8h1.7v1.7h-1.7zM195.3 673.5h1.7v1.7h-1.7zM196 674.8h1.7v1.7h-1.7zM196.6 675.9h1.7v1.7h-1.7z" fill="#ff0000"/>
<path d="M74.6 681.2 L74.6 681.2 L74.6 681.2 L74.6 681.2 L74.6 681.1 L74.6 681.1 L74.7 681.1 L74.7 681.1 L74.7 681.1 L74.7 681 L74.7 681 L74.7 681 L74.8 680.9 L74.8 680.9 L74.8 680.9 L74.8 680.8 L74.9 680.7 L74.9 680.7 L74.9 680.6 L75 680.5 L75 680.4 L75.1 680.4 L75.1 680.2 L75.2 680.1 L75.3 680 L75.4 679.8 L75.5 679.7 L75.6 679.5 L75.7 679.3 L75.8 679.1 L76 678.8 L76.1 678.5 L76.3 678.2 L76.5 677.9 L76.7 677.5 L77 677.1 L77.3 676.6 L77.6 676.1 L78 675.5 L78.4 674.9 L78.8 674.1 L79.3 673.4 L79.9 672.5 L80.5 671.5 L81.2 670.5 L82.1 669.3 L83 668.1 L84 666.7 L85.2 665.2 L86.5 663.5 L87.9 661.7 L89.6 659.8 L91.5 657.6 L93.6 655.4 L96 652.9 L98.7 650.4 L101.7 647.6 L105.1 644.7 L108.9 641.7 L113.1 638.7 L117.8 635.5 L122.9 632.4 L128.6 629.3 L134.8 626.3 L141.5 623.4 L148.7 620.8 L156.4 618.5 L164.5 616.6 L172.9 615.1 L181.5 614.1 L190.3 613.6 L199.2 613.6 L208 614.2 L216.6 615.4 L224.9 616.9 L232.9 619 L240.5 621.3 L247.6 624 L254.2 626.9 L260.3 629.9 L265.8 633.1 L270.9 636.2 L275.5 639.3 L279.6 642.4 L283.3 645.4 L286.6 648.2 L289.5 650.9 L292.2 653.5 L294.5 655.9 L296.5 658.1 L298.4 660.2 L300 662.1 L301.4 663.9 L302.7 665.5 L303.8 667 L304.8 668.4 L305.7 669.6 L306.5 670.7 L307.2 671.8 L307.8 672.7 L308.4 673.5 L308.9 674.3 L309.3 675 L309.7 675.6" fill="none" stroke="#50ff50" stroke-width="0.7"/>
<path d="M73.9 680.1h1.7v1.7h-1.7zM73.9 680h1.7v1.7h-1.7zM74 679.9h1.7v1.7h-1.7zM74.1 679.8h1.7v1.7h-1.7zM74.1 679.7h1.7v1.7h-1.7zM74.2 679.5h1.7v1.7h-1.7zM74.4 679.3h1.7v1.7h-1.7zM74.5 679h1.7v1.7h-1.7zM74.7 678.7h1.7v1.7h-1.7zM74.9 678.3h1.7v1.7h-1.7zM75.2 677.8h1.7v1.7h-1.7zM75.5 677.3h1.7v1.7h-1.7zM75.9 676.6h1.7v1.7h-1.7zM76.4 675.7h1.7v1.7h-1.7zM77.1 674.7h1.7v1.7h-1.7zM77.9 673.5h1.7v1.7h-1.7zM78.8 672h1.7v1.7h-1.7zM80 670.2h1.7v1.7h-1.7zM81.5 668.1h1.7v1.7h-1.7zM83.4 665.5h1.7v1.7h-1.7zM85.7 662.5h1.7v1.7h-1.7zM88.6 659h1.7v1.7h-1.7zM92.3 655h1.7v1.7h-1.7zM96.8 650.4h1.7v1.7h-1.7zM102.5 645.3h1.7v1.7h-1.7zM109.5 639.8h1.7v1.7h-1.7zM118 634h1.7v1.7h-1.7zM128.3 628.1h1.7v1.7h-1.7zM140.3 622.7h1.7v1.7h-1.7zM154 618.1h1.7v1.7h-1.7zM169.2 614.7h1.7v1.7h-1.7zM185.3 612.9h1.7v1.7h-1.7zM201.8 613h1.7v1.7h-1.7zM217.8 614.9h1.7v1.7h-1.7zM232.9 618.4h1.7v1.7h-1.7zM246.5 623.1h1.7v1.7h-1.7zM258.4 628.5h1.7v1.7h-1.7zM268.5 634.4h1.7v1.7h-1.7zM276.9 640.2h1.7v1.7h-1.7zM283.8 645.7h1.7v1.7h-1.7zM289.4 650.8h1.7v1.7h-1.7zM293.9 655.3h1.7v1.7h-1.7zM297.5 659.3h1.7v1.7h-1.7zM300.4 662.8h1.7v1.7h-1.7zM302.7 665.7h1.7v1.7h-1.7zM304.5 668.2h1.7v1.7h-1.7zM306 670.3h1.7v1.7h-1.7zM307.1 672.1h1.7v1.7h-1.7zM308.1 673.6h1.7v1.7h-1.7zM308.9 674.8h1.7v1.7h-1.7z" fill="#00ee00"/>
<path d="M74.3 681.2 L74.3 681.2 L74.3 681.2 L74.3 681.2 L74.3 681.2 L74.3 681.2 L74.3 681.2 L74.3 681.1 L74.3 681.1 L74.3 681.1 L74.3 681.1 L74.4 681.1 L74.4 681 L74.4 681 L74.4 681 L74.4 680.9 L74.5 680.9 L74.5 680.9 L74.5 680.8 L74.5 680.7 L74.6 680.7 L74.6 680.6 L74.7 680.5 L74.7 680.5 L74.8 680.4 L74.8 680.3 L74.9 680.2 L75 680 L75.1 679.9 L75.1 679.7 L75.2 679.6 L75.4 679.4 L75.5 679.2 L75.6 678.9 L75.8 678.7 L76 678.4 L76.1 678.1 L76.4 677.7 L76.6 677.3 L76.9 676.9 L77.1 676.4 L77.5 675.9 L77.8 675.3 L78.2 674.7 L78.7 673.9 L79.2 673.1 L79.7 672.3 L80.3 671.3 L81 670.2 L81.8 669 L82.6 667.7 L83.6 666.2 L84.6 664.6 L85.8 662.9 L87.1 660.9 L88.6 658.7 L90.2 656.4 L92 653.7 L94.1 650.9 L96.3 647.7 L98.9 644.3 L101.7 640.5 L104.9 636.3 L108.5 631.8 L112.5 626.9 L117 621.6 L122 615.8 L127.7 609.6 L134 602.8 L141.1 595.6 L149 588 L157.8 579.8 L167.7 571.2 L178.7 562.2 L190.9 552.9 L204.4 543.2 L219.3 533.4 L235.8 523.6 L253.7 513.8 L273.2 504.2 L294.3 495.1 L316.9 486.6 L340.9 479 L366.3 472.3 L392.8 466.9 L420.1 462.9 L448.1 460.4 L476.5 459.4 L504.8 460.1 L532.9 462.4 L560.4 466.2 L587 471.4 L612.6 477.8 L636.9 485.3 L659.7 493.6 L681 502.7 L700.8 512.2 L719 521.9 L735.7 531.8 L750.8 541.6 L764.6 551.3 L777 560.7" fill="none" stroke="#6060ff" stroke-width="0.7"/>
<path d="M73.5 680.2h1.7v1.7h-1.7zM73.6 680.1h1.7v1.7h-1.7zM73.6 680.1h1.7v1.7h-1.7zM73.6 680h1.7v1.7h-1.7zM73.7 679.9h1.7v1.7h-1.7zM73.8 679.7h1.7v1.7h-1.7zM73.9 679.6h1.7v1.7h-1.7zM74 679.4h1.7v1.7h-1.7zM74.1 679.2h1.7v1.7h-1.7zM74.3 678.9h1.7v1.7h-1.7zM74.5 678.5h1.7v1.7h-1.7zM74.7 678.1h1.7v1.7h-1.7zM75.1 677.6h1.7v1.7h-1.7zM75.4 677h1.7v1.7h-1.7zM75.9 676.3h1.7v1.7h-1.7zM76.4 675.4h1.7v1.7h-1.7zM77.1 674.3h1.7v1.7h-1.7zM77.9 673h1.7v1.7h-1.7zM78.9 671.3h1.7v1.7h-1.7zM80.2 669.4h1.7v1.7h-1.7zM81.7 667h1.7v1.7h-1.7zM83.5 664.2h1.7v1.7h-1.7zM85.8 660.8h1.7v1.7h-1.7zM88.6 656.6h1.7v1.7h-1.7zM92 651.7h1.7v1.7h-1.7zM96.3 645.8h1.7v1.7h-1.7zM101.6 638.7h1.7v1.7h-1.7zM108.1 630.4h1.7v1.7h-1.7zM116.2 620.7h1.7v1.7h-1.7zM126.3 609.3h1.7v1.7h-1.7zM138.7 596.3h1.7v1.7h-1.7zM154.2 581.5h1.7v1.7h-1.7zM173.2 565.1h1.7v1.7h-1.7zM196.4 547.4h1.7v1.7h-1.7zM224.5 528.9h1.7v1.7h-1.7zM258 510.3h1.7v1.7h-1.7zM297.1 492.8h1.7v1.7h-1.7zM341.6 477.7h1.7v1.7h-1.7zM390.7 466.3h1.7v1.7h-1.7zM443 459.8h1.7v1.7h-1.7zM496.7 458.9h1.7v1.7h-1.7zM549.6 463.8h1.7v1.7h-1.7zM599.9 473.8h1.7v1.7h-1.7zM645.9 487.9h1.7v1.7h-1.7zM686.6 504.8h1.7v1.7h-1.7zM721.8 523.2h1.7v1.7h-1.7zM751.5 541.8h1.7v1.7h-1.7zM776.2 559.8h1.7v1.7h-1.7z" fill="#0000ff"/>
<path d="M74.3 681.2 L74.3 681.2 L74.3 681.2 L74.3 681.2 L74.3 681.1 L74.3 681.1 L74.3 681.1 L74.3 681.1 L74.4 681.1 L74.4 681 L74.4 681 L74.4 681 L74.4 680.9 L74.5 680.9 L74.5 680.9 L74.5 680.8 L74.5 680.8 L74.6 680.7 L74.6 680.6 L74.7 680.6 L74.7 680.5 L74.8 680.4 L74.8 680.3 L74.9 680.2 L75 680.1 L75.1 680 L75.1 679.8 L75.2 679.6 L75.4 679.5 L75.5 679.3 L75.6 679.1 L75.8 678.8 L75.9 678.5 L76.1 678.2 L76.3 677.9 L76.6 677.6 L76.8 677.2 L77.1 676.7 L77.4 676.2 L77.8 675.7 L78.1 675.1 L78.6 674.4 L79 673.7 L79.6 672.9 L80.1 672 L80.8 671 L81.5 669.9 L82.3 668.7 L83.2 667.3 L84.1 665.8 L85.2 664.2 L86.4 662.4 L87.7 660.4 L89.2 658.2 L90.9 655.7 L92.7 653 L94.7 650.1 L97 646.8 L99.5 643.2 L102.2 639.3 L105.4 634.9 L108.8 630.1 L112.7 624.9 L116.9 619.1 L121.7 612.8 L127.1 605.9 L133 598.4 L139.6 590.2 L147 581.2 L155.3 571.5 L164.6 561 L174.9 549.6 L186.4 537.3 L199.2 524.2 L213.5 510.1 L229.5 495 L247.3 479.1 L267.1 462.3 L289 444.8 L313.3 426.5 L340.1 407.7 L369.6 388.5 L402 369.2 L437.3 349.9 L475.6 331.1 L517 312.9 L561.3 295.9 L608.5 280.3 L658.3 266.6 L710.4 255 L764.4 246 L819.8 239.7 L876.1 236.4 L932.8 236.2 L989.2 239 L1044.9 244.9 L1099.1 253.5 L1151.5 264.7 L1201.6 278.1 L1249.2 293.5 L1294 310.3 L1335.8 328.3 L1374.6 347.1 L1410.3 366.3 L1443.1 385.6 L1473.1 404.9" fill="none" stroke="#ffa0ff" stroke-width="0.7"/>
<path d="M73.6 680.1h1.7v1.7h-1.7zM73.6 680h1.7v1.7h-1.7zM73.7 679.9h1.7v1.7h-1.7zM73.8 679.8h1.7v1.7h-1.7zM73.8 679.7h1.7v1.7h-1.7zM73.9 679.5h1.7v1.7h-1.7zM74.1 679.3h1.7v1.7h-1.7zM74.2 679.1h1.7v1.7h-1.7zM74.4 678.8h1.7v1.7h-1.7zM74.6 678.5h1.7v1.7h-1.7zM74.9 678.1h1.7v1.7h-1.7zM75.2 677.6h1.7v1.7h-1.7zM75.5 677h1.7v1.7h-1.7zM76 676.3h1.7v1.7h-1.7zM76.6 675.4h1.7v1.7h-1.7zM77.2 674.3h1.7v1.7h-1.7zM78 673h1.7v1.7h-1.7zM79 671.5h1.7v1.7h-1.7zM80.2 669.7h1.7v1.7h-1.7zM81.7 667.4h1.7v1.7h-1.7zM83.4 664.7h1.7v1.7h-1.7zM85.6 661.5h1.7v1.7h-1.7zM88.2 657.6h1.7v1.7h-1.7zM91.3 652.9h1.7v1.7h-1.7zM95.2 647.3h1.7v1.7h-1.7zM99.9 640.6h1.7v1.7h-1.7zM105.6 632.5h1.7v1.7h-1.7zM112.6 623h1.7v1.7h-1.7zM121.1 611.6h1.7v1.7h-1.7zM131.6 598.2h1.7v1.7h-1.7zM144.5 582.5h1.7v1.7h-1.7zM160.2 564.1h1.7v1.7h-1.7zM179.6 542.8h1.7v1.7h-1.7zM203.3 518.4h1.7v1.7h-1.7zM232.4 490.8h1.7v1.7h-1.7zM267.9 460.1h1.7v1.7h-1.7zM311 426.7h1.7v1.7h-1.7zM362.8 391.5h1.7v1.7h-1.7zM424.3 355.5h1.7v1.7h-1.7zM496.2 320.6h1.7v1.7h-1.7zM578.4 288.8h1.7v1.7h-1.7zM670.2 262.6h1.7v1.7h-1.7zM769.6 244.3h1.7v1.7h-1.7zM873.7 235.6h1.7v1.7h-1.7zM979 237.5h1.7v1.7h-1.7zM1081.8 249.7h1.7v1.7h-1.7zM1178.8 271.1h1.7v1.7h-1.7zM1267.4 299.5h1.7v1.7h-1.7zM1346 332.6h1.7v1.7h-1.7zM1414.2 368.1h1.7v1.7h-1.7zM1472.2 404h1.7v1.7h-1.7z" fill="#ff80ff"/>
</g>
<text x="72.8" y="686.6" font-family='"Liberation Sans", sans-serif' font-size="4.4" text-anchor="middle" font-weight="normal" fill="#222" stroke="#222" stroke-width="0.12" textLength="1.9" lengthAdjust="spacingAndGlyphs">0</text>
<line x1="93.2" y1="681.3" x2="93.2" y2="680.3" stroke="#777" stroke-width="0.6"/>
<line x1="72.8" y1="662.4" x2="73.8" y2="662.4" stroke="#777" stroke-width="0.6"/>
<text x="93.2" y="686.6" font-family='"Liberation Sans", sans-serif' font-size="4.4" text-anchor="middle" font-weight="normal" fill="#222" stroke="#222" stroke-width="0.12" textLength="3.8" lengthAdjust="spacingAndGlyphs">50</text>
<line x1="113.6" y1="681.3" x2="113.6" y2="679.7" stroke="#777" stroke-width="0.6"/>
<line x1="72.8" y1="643.5" x2="74.4" y2="643.5" stroke="#777" stroke-width="0.6"/>
<text x="113.6" y="686.6" font-family='"Liberation Sans", sans-serif' font-size="4.4" text-anchor="middle" font-weight="normal" fill="#222" stroke="#222" stroke-width="0.12" textLength="5.7" lengthAdjust="spacingAndGlyphs">100</text>
<line x1="133.9" y1="681.3" x2="133.9" y2="680.3" stroke="#777" stroke-width="0.6"/>
<line x1="72.8" y1="624.6" x2="73.8" y2="624.6" stroke="#777" stroke-width="0.6"/>
<text x="133.9" y="686.6" font-family='"Liberation Sans", sans-serif' font-size="4.4" text-anchor="middle" font-weight="normal" fill="#222" stroke="#222" stroke-width="0.12" textLength="5.7" lengthAdjust="spacingAndGlyphs">150</text>
<line x1="154.3" y1="681.3" x2="154.3" y2="679.7" stroke="#777" stroke-width="0.6"/>
<line x1="72.8" y1="605.7" x2="74.4" y2="605.7" stroke="#777" stroke-width="0.6"/>
<text x="154.3" y="686.6" font-family='"Liberation Sans", sans-serif' font-size="4.4" text-anchor="middle" font-weight="normal" fill="#222" stroke="#222" stroke-width="0.12" textLength="5.7" lengthAdjust="spacingAndGlyphs">200</text>
<line x1="174.7" y1="681.3" x2="174.7" y2="680.3" stroke="#777" stroke-width="0.6"/>
<line x1="72.8" y1="586.8" x2="73.8" y2="586.8" stroke="#777" stroke-width="0.6"/>
<text x="174.7" y="686.6" font-family='"Liberation Sans", sans-serif' font-size="4.4" text-anchor="middle" font-weight="normal" fill="#222" stroke="#222" stroke-width="0.12" textLength="5.7" lengthAdjust="spacingAndGlyphs">250</text>
<text x="195.1" y="686.6" font-family='"Liberation Sans", sans-serif' font-size="4.4" text-anchor="middle" font-weight="normal" fill="#222" stroke="#222" stroke-width="0.12" textLength="5.7" lengthAdjust="spacingAndGlyphs">300</text>
<text x="70.8" y="682.8" font-family='"Liberation Sans", sans-serif' font-size="4.4" text-anchor="end" font-weight="normal" fill="#222" stroke="#222" stroke-width="0.12" textLength="1.9" lengthAdjust="spacingAndGlyphs">0</text>
<text x="70.8" y="645" font-family='"Liberation Sans", sans-serif' font-size="4.4" text-anchor="end" font-weight="normal" fill="#222" stroke="#222" stroke-width="0.12" textLength="8" lengthAdjust="spacingAndGlyphs">−100</text>
<text x="70.8" y="607.2" font-family='"Liberation Sans", sans-serif' font-size="4.4" text-anchor="end" font-weight="normal" fill="#222" stroke="#222" stroke-width="0.12" textLength="8" lengthAdjust="spacingAndGlyphs">−200</text>
<text x="70.8" y="569.4" font-family='"Liberation Sans", sans-serif' font-size="4.4" text-anchor="end" font-weight="normal" fill="#222" stroke="#222" stroke-width="0.12" textLength="8" lengthAdjust="spacingAndGlyphs">−300</text>
<rect x="72.8" y="567.9" width="122.3" height="113.4" fill="none" stroke="#777" stroke-width="0.9"/>
<text x="117.4" y="693.8" font-family='"Liberation Serif", serif' font-size="4.6" text-anchor="start" font-weight="normal" fill="#333" textLength="29" lengthAdjust="spacingAndGlyphs">Z '  (Ω·cm<tspan dy="-1.6" font-size="3">2</tspan><tspan dy="1.6">)</tspan></text>
<text x="59.5" y="640" font-family='"Liberation Serif", serif' font-size="4.6" text-anchor="start" font-weight="normal" fill="#333" textLength="26" lengthAdjust="spacingAndGlyphs" transform="rotate(-90 59.5 640)">Z" (Ω·cm<tspan dy="-1.6" font-size="3">2</tspan><tspan dy="1.6">)</tspan></text>
<rect x="76.4" y="573.4" width="25.9" height="44.4" fill="#fff" stroke="#999" stroke-width="0.5"/>
<path d="M80.6 575.7h1.4v1.4h-1.4z" fill="#000000"/>
<text x="88.1 90.2" y="577.9" font-family='"Liberation Serif", serif' font-size="4.4" text-anchor="middle" fill="#333" stroke="#333" stroke-width="0.1">1h</text>
<line x1="77.2" y1="580.8" x2="84.8" y2="580.8" stroke="#444444" stroke-width="0.5"/>
<text x="88.1 90.2 92.3 94.4 96.5 98.6 100.7" y="582.2" font-family='"Liberation Serif", serif' font-size="4.4" text-anchor="middle" fill="#333" stroke="#333" stroke-width="0.1">Fitting</text>
<path d="M80.6 584.4h1.4v1.4h-1.4z" fill="#ff0000"/>
<text x="88.1 90.2" y="586.6" font-family='"Liberation Serif", serif' font-size="4.4" text-anchor="middle" fill="#333" stroke="#333" stroke-width="0.1">3h</text>
<line x1="77.2" y1="589.5" x2="84.8" y2="589.5" stroke="#ff5050" stroke-width="0.5"/>
<text x="88.1 90.2 92.3 94.4 96.5 98.6 100.7" y="591" font-family='"Liberation Serif", serif' font-size="4.4" text-anchor="middle" fill="#333" stroke="#333" stroke-width="0.1">Fitting</text>
<path d="M80.6 593.1h1.4v1.4h-1.4z" fill="#00ee00"/>
<text x="88.1 90.2" y="595.3" font-family='"Liberation Serif", serif' font-size="4.4" text-anchor="middle" fill="#333" stroke="#333" stroke-width="0.1">5h</text>
<line x1="77.2" y1="598.1" x2="84.8" y2="598.1" stroke="#50ff50" stroke-width="0.5"/>
<text x="88.1 90.2 92.3 94.4 96.5 98.6 100.7" y="599.6" font-family='"Liberation Serif", serif' font-size="4.4" text-anchor="middle" fill="#333" stroke="#333" stroke-width="0.1">Fitting</text>
<path d="M80.6 601.8h1.4v1.4h-1.4z" fill="#0000ff"/>
<text x="88.1 90.2" y="604" font-family='"Liberation Serif", serif' font-size="4.4" text-anchor="middle" fill="#333" stroke="#333" stroke-width="0.1">8h</text>
<line x1="77.2" y1="606.9" x2="84.8" y2="606.9" stroke="#6060ff" stroke-width="0.5"/>
<text x="88.1 90.2 92.3 94.4 96.5 98.6 100.7" y="608.4" font-family='"Liberation Serif", serif' font-size="4.4" text-anchor="middle" fill="#333" stroke="#333" stroke-width="0.1">Fitting</text>
<path d="M80.6 610.5h1.4v1.4h-1.4z" fill="#ff80ff"/>
<text x="88.1 90.2 92.3" y="612.7" font-family='"Liberation Serif", serif' font-size="4.4" text-anchor="middle" fill="#333" stroke="#333" stroke-width="0.1">12h</text>
<line x1="77.2" y1="615.5" x2="84.8" y2="615.5" stroke="#ffa0ff" stroke-width="0.5"/>
<text x="88.1 90.2 92.3 94.4 96.5 98.6 100.7" y="617" font-family='"Liberation Serif", serif' font-size="4.4" text-anchor="middle" fill="#333" stroke="#333" stroke-width="0.1">Fitting</text>
<text x="62.9" y="35.6" font-family='"Liberation Serif", serif' font-size="22" text-anchor="start" font-weight="bold" fill="#000" textLength="23.3" lengthAdjust="spacingAndGlyphs">(a)</text>
<text x="62.9" y="313.7" font-family='"Liberation Serif", serif' font-size="22" text-anchor="start" font-weight="bold" fill="#000" textLength="24.2" lengthAdjust="spacingAndGlyphs">(b)</text>
<text x="209.9" y="630.4" font-family='"Liberation Serif", serif' font-size="22" text-anchor="start" font-weight="bold" fill="#000" textLength="21.9" lengthAdjust="spacingAndGlyphs">(c)</text>
<text x="15.2" y="148.2" font-family='"Liberation Serif", serif' font-size="11.2" text-anchor="start" font-weight="bold" fill="#000" textLength="59.5" lengthAdjust="spacingAndGlyphs" transform="rotate(-90 15.2 148.2)">Z"  (Ω·cm<tspan dy="-4" font-size="7">2</tspan><tspan dy="4">)</tspan></text>
<text x="143.8" y="253.6" font-family='"Liberation Serif", serif' font-size="11.2" text-anchor="start" font-weight="bold" fill="#000" textLength="65.2" lengthAdjust="spacingAndGlyphs">Z '  (Ω·cm<tspan dy="-4" font-size="7">2</tspan><tspan dy="4">)</tspan></text>
<text x="356.6" y="147.6" font-family='"Liberation Serif", serif' font-size="11.2" text-anchor="start" font-weight="bold" fill="#000" textLength="58.7" lengthAdjust="spacingAndGlyphs" transform="rotate(-90 356.6 147.6)">|Z|  (Ω·cm<tspan dy="-4" font-size="7">2</tspan><tspan dy="4">)</tspan></text>
<text x="682.3" y="163.5" font-family='"Liberation Serif", serif' font-size="12" text-anchor="start" font-weight="bold" fill="#000" textLength="90.6" lengthAdjust="spacingAndGlyphs" transform="rotate(-90 682.3 163.5)">Phase angel (Deg)</text>
<text x="473.9" y="253.5" font-family='"Liberation Serif", serif' font-size="11.2" text-anchor="start" font-weight="bold" fill="#000" textLength="74.4" lengthAdjust="spacingAndGlyphs">Frequncy (Hz)</text>
<text x="15.2" y="423.3" font-family='"Liberation Serif", serif' font-size="11.2" text-anchor="start" font-weight="bold" fill="#000" textLength="59.5" lengthAdjust="spacingAndGlyphs" transform="rotate(-90 15.2 423.3)">Z"  (Ω·cm<tspan dy="-4" font-size="7">2</tspan><tspan dy="4">)</tspan></text>
<text x="143.8" y="528.6" font-family='"Liberation Serif", serif' font-size="11.2" text-anchor="start" font-weight="bold" fill="#000" textLength="65.2" lengthAdjust="spacingAndGlyphs">Z '  (Ω·cm<tspan dy="-4" font-size="7">2</tspan><tspan dy="4">)</tspan></text>
<text x="353.6" y="422.8" font-family='"Liberation Serif", serif' font-size="11.2" text-anchor="start" font-weight="bold" fill="#000" textLength="58.7" lengthAdjust="spacingAndGlyphs" transform="rotate(-90 353.6 422.8)">|Z|  (Ω·cm<tspan dy="-4" font-size="7">2</tspan><tspan dy="4">)</tspan></text>
<text x="679.6" y="438.7" font-family='"Liberation Serif", serif' font-size="12" text-anchor="start" font-weight="bold" fill="#000" textLength="90.6" lengthAdjust="spacingAndGlyphs" transform="rotate(-90 679.6 438.7)">Phase angel (Deg)</text>
<text x="470.9" y="528.6" font-family='"Liberation Serif", serif' font-size="11.2" text-anchor="start" font-weight="bold" fill="#000" textLength="74.4" lengthAdjust="spacingAndGlyphs">Frequncy (Hz)</text>
<text x="15.2" y="703.4" font-family='"Liberation Serif", serif' font-size="11.2" text-anchor="start" font-weight="bold" fill="#000" textLength="59.5" lengthAdjust="spacingAndGlyphs" transform="rotate(-90 15.2 703.4)">Z"  (Ω·cm<tspan dy="-4" font-size="7">2</tspan><tspan dy="4">)</tspan></text>
<text x="143.8" y="808.6" font-family='"Liberation Serif", serif' font-size="11.2" text-anchor="start" font-weight="bold" fill="#000" textLength="65.2" lengthAdjust="spacingAndGlyphs">Z '  (Ω·cm<tspan dy="-4" font-size="7">2</tspan><tspan dy="4">)</tspan></text>
<text x="353.8" y="702.7" font-family='"Liberation Serif", serif' font-size="11.2" text-anchor="start" font-weight="bold" fill="#000" textLength="58.7" lengthAdjust="spacingAndGlyphs" transform="rotate(-90 353.8 702.7)">|Z|  (Ω·cm<tspan dy="-4" font-size="7">2</tspan><tspan dy="4">)</tspan></text>
<text x="679.2" y="718.6" font-family='"Liberation Serif", serif' font-size="12" text-anchor="start" font-weight="bold" fill="#000" textLength="90.6" lengthAdjust="spacingAndGlyphs" transform="rotate(-90 679.2 718.6)">Phase angel (Deg)</text>
<text x="471.1" y="808.5" font-family='"Liberation Serif", serif' font-size="11.2" text-anchor="start" font-weight="bold" fill="#000" textLength="74.4" lengthAdjust="spacingAndGlyphs">Frequncy (Hz)</text>
</svg></body></html>
